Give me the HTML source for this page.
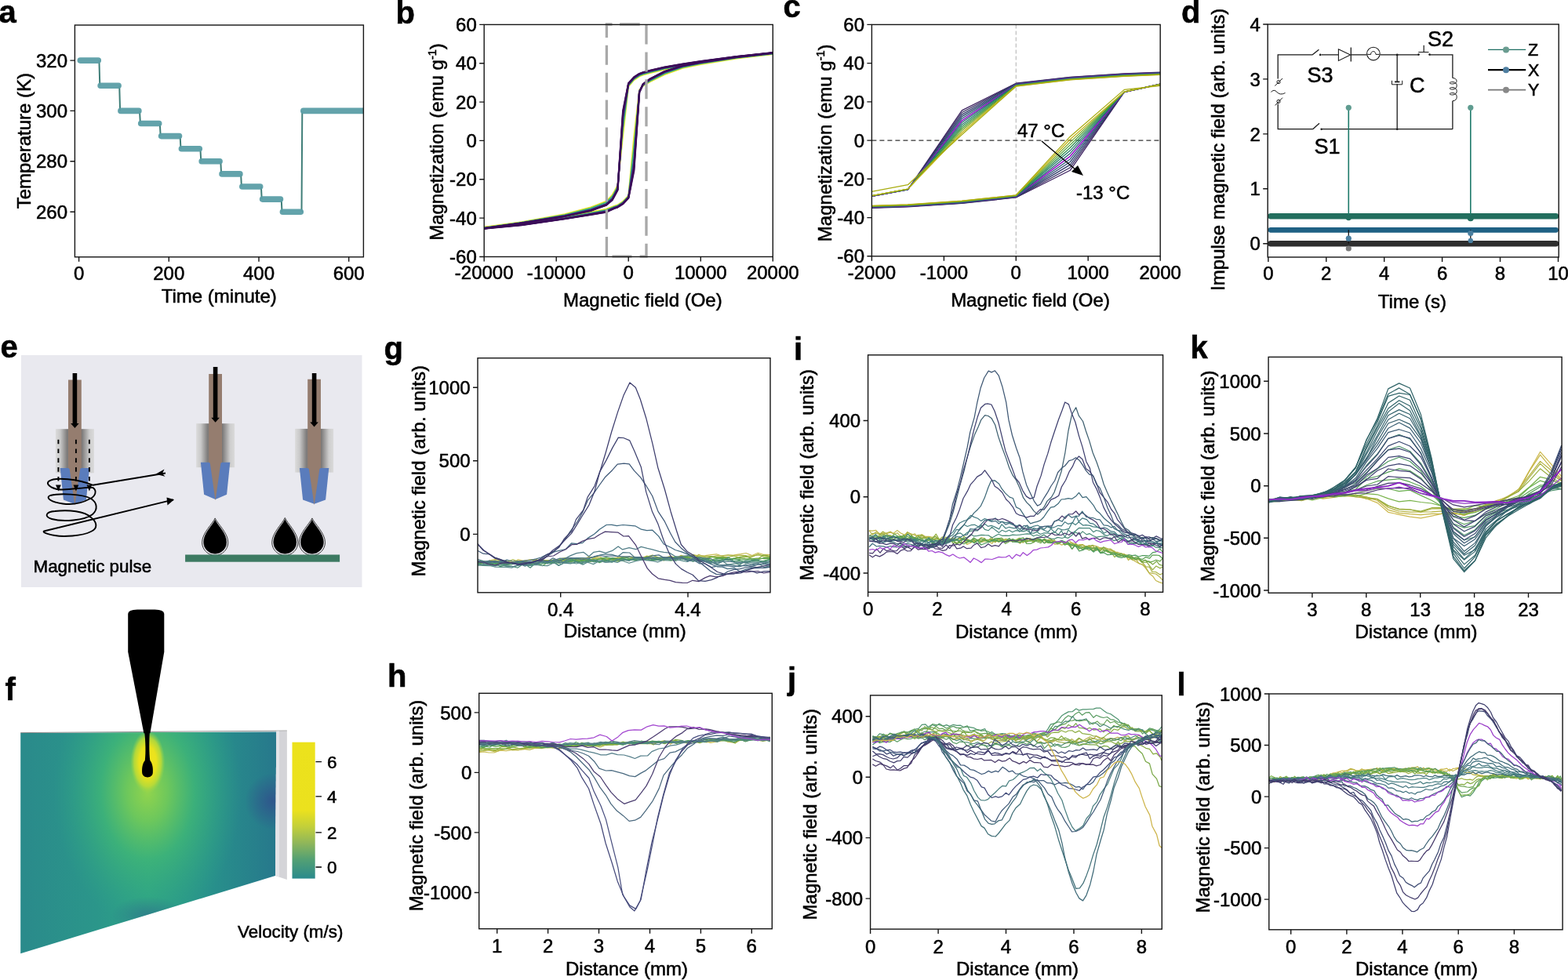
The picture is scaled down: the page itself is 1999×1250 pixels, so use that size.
<!DOCTYPE html>
<html><head><meta charset="utf-8"><title>Figure</title>
<style>html,body{margin:0;padding:0;background:#fff;}svg{display:block;}text{stroke:#000;stroke-width:0.55px;}</style></head>
<body><svg width="1999" height="1250" viewBox="0 0 1999 1250" font-family="'Liberation Sans', Arial, Helvetica, sans-serif">
<rect width="1999" height="1250" fill="#fff"/>
<text x="-1.5" y="29.3" font-size="40" text-anchor="start" font-weight="bold" fill="#000">a</text>
<clipPath id="clip_a"><rect x="95.4" y="32" width="368" height="295.8"/></clipPath>
<g clip-path="url(#clip_a)">
<path d="M126.4 77.1L127.3 109.2M152.2 109.2L153.1 141.4M178.0 141.4L178.9 157.5M203.8 157.5L204.7 173.6M229.6 173.6L230.5 189.7M255.4 189.7L256.3 205.8M281.3 205.8L282.1 221.9M307.1 221.9L307.9 238.0M332.9 238.0L333.7 254.1M358.7 254.1L359.5 270.2M384.5 270.2L385.3 141.4" stroke="#3f7e78" stroke-width="2" fill="none"/>
<path d="M102.3 77.1H125.3M128.1 109.2H151.1M153.9 141.4H176.9M179.7 157.5H202.7M205.6 173.6H228.5M231.4 189.7H254.3M257.2 205.8H280.1M283.0 221.9H305.9M308.8 238.0H331.7M334.6 254.1H357.5M360.4 270.2H383.3M386.8 141.4H467.6" stroke="#5b9ea6" stroke-width="7.6" stroke-linecap="round" fill="none" opacity="0.95"/>
</g>
<rect x="95.4" y="32" width="368" height="295.8" fill="none" stroke="#151515" stroke-width="1.4"/>
<path d="M100.6 327.8v6M215.3 327.8v6M330.0 327.8v6M444.7 327.8v6M95.4 270.2h-6M95.4 205.8h-6M95.4 141.4h-6M95.4 77.1h-6" stroke="#151515" stroke-width="1.4" fill="none"/>
<text x="100.6" y="356.5" font-size="24" text-anchor="middle" fill="#000">0</text>
<text x="215.3" y="356.5" font-size="24" text-anchor="middle" fill="#000">200</text>
<text x="330" y="356.5" font-size="24" text-anchor="middle" fill="#000">400</text>
<text x="444.7" y="356.5" font-size="24" text-anchor="middle" fill="#000">600</text>
<text x="86" y="278.8" font-size="24" text-anchor="end" fill="#000">260</text>
<text x="86" y="214.4" font-size="24" text-anchor="end" fill="#000">280</text>
<text x="86" y="150" font-size="24" text-anchor="end" fill="#000">300</text>
<text x="86" y="85.7" font-size="24" text-anchor="end" fill="#000">320</text>
<text x="279.3" y="386" font-size="24" text-anchor="middle" fill="#000">Time (minute)</text>
<text x="38.8" y="179.6" font-size="24" text-anchor="middle" transform="rotate(-90 38.8 179.6)" fill="#000">Temperature (K)</text>
<text x="504.5" y="30" font-size="40" text-anchor="start" font-weight="bold" fill="#000">b</text>
<clipPath id="clip_b"><rect x="617.2" y="31.4" width="368.1" height="296.1"/></clipPath>
<g clip-path="url(#clip_b)">
<path d="M985.3 68.9 L939.3 73.8 L893.3 80.7 L870.3 84.5 L847.3 88.6 L828.9 93.1 L819.7 95.6 L815.1 97.5 L808.2 102.2 L801.2 110.4 L794.3 172.0 L787.4 236.2 L782.8 244.8 L780.6 248.5 L772.9 256.7 L753.0 264.3 L720.0 273.2 L665.1 283.1 L617.2 289.7" fill="none" stroke="#f1e21f" stroke-width="1.8" stroke-linejoin="round"/>
<path d="M617.2 289.7 L665.1 285.1 L720.0 277.2 L753.0 270.7 L772.9 266.6 L782.8 262.9 L787.4 261.4 L794.3 256.7 L801.2 249.3 L808.2 174.5 L815.1 114.6 L819.7 109.6 L828.9 104.2 L847.3 95.1 L870.3 86.9 L893.3 82.0 L939.3 74.6 L985.3 69.2" fill="none" stroke="#f1e21f" stroke-width="1.8" stroke-linejoin="round"/>
<path d="M985.3 68.4 L939.3 73.4 L893.3 80.1 L870.3 83.7 L847.3 87.8 L828.9 92.2 L819.7 94.7 L815.1 96.6 L808.2 101.2 L801.2 109.3 L794.3 163.4 L787.4 237.9 L782.8 246.6 L780.6 250.3 L772.9 258.1 L753.0 265.6 L720.0 274.0 L665.1 283.6 L617.2 290.2" fill="none" stroke="#35b779" stroke-width="1.6" stroke-linejoin="round"/>
<path d="M617.2 290.2 L665.1 285.6 L720.0 277.7 L753.0 271.6 L772.9 267.7 L782.8 263.7 L787.4 262.2 L794.3 257.6 L801.2 250.2 L808.2 186.6 L815.1 115.5 L819.7 109.0 L828.9 103.2 L847.3 94.0 L870.3 86.0 L893.3 81.2 L939.3 74.0 L985.3 68.7" fill="none" stroke="#35b779" stroke-width="1.6" stroke-linejoin="round"/>
<path d="M985.3 67.8 L939.3 72.7 L893.3 79.1 L870.3 82.7 L847.3 86.7 L828.9 91.0 L819.7 93.5 L815.1 95.3 L808.2 99.8 L801.2 107.8 L794.3 152.0 L787.4 240.2 L782.8 248.8 L780.6 252.7 L772.9 259.9 L753.0 267.2 L720.0 275.0 L665.1 284.2 L617.2 290.9" fill="none" stroke="#31688e" stroke-width="2.0" stroke-linejoin="round"/>
<path d="M617.2 290.9 L665.1 286.3 L720.0 278.4 L753.0 272.7 L772.9 269.1 L782.8 264.8 L787.4 263.3 L794.3 258.8 L801.2 251.4 L808.2 202.6 L815.1 116.6 L819.7 108.2 L828.9 101.8 L847.3 92.5 L870.3 84.8 L893.3 80.2 L939.3 73.3 L985.3 68.0" fill="none" stroke="#31688e" stroke-width="2.0" stroke-linejoin="round"/>
<path d="M985.3 67.6 L939.3 72.5 L893.3 78.9 L870.3 82.4 L847.3 86.4 L828.9 90.7 L819.7 93.1 L815.1 94.9 L808.2 99.4 L801.2 107.4 L794.3 148.9 L787.4 240.8 L782.8 249.5 L780.6 253.4 L772.9 260.4 L753.0 267.7 L720.0 275.3 L665.1 284.4 L617.2 291.0" fill="none" stroke="#3b528b" stroke-width="2.0" stroke-linejoin="round"/>
<path d="M617.2 291.0 L665.1 286.5 L720.0 278.6 L753.0 273.0 L772.9 269.5 L782.8 265.1 L787.4 263.6 L794.3 259.1 L801.2 251.7 L808.2 206.9 L815.1 117.0 L819.7 108.0 L828.9 101.4 L847.3 92.1 L870.3 84.5 L893.3 79.9 L939.3 73.1 L985.3 67.9" fill="none" stroke="#3b528b" stroke-width="2.0" stroke-linejoin="round"/>
<path d="M985.3 67.5 L939.3 72.4 L893.3 78.7 L870.3 82.2 L847.3 86.2 L828.9 90.4 L819.7 92.9 L815.1 94.7 L808.2 99.1 L801.2 107.1 L794.3 146.4 L787.4 241.3 L782.8 250.0 L780.6 253.9 L772.9 260.8 L753.0 268.0 L720.0 275.5 L665.1 284.5 L617.2 291.2" fill="none" stroke="#482878" stroke-width="2.0" stroke-linejoin="round"/>
<path d="M617.2 291.2 L665.1 286.7 L720.0 278.8 L753.0 273.2 L772.9 269.8 L782.8 265.3 L787.4 263.8 L794.3 259.3 L801.2 251.9 L808.2 210.4 L815.1 117.2 L819.7 107.8 L828.9 101.1 L847.3 91.8 L870.3 84.3 L893.3 79.7 L939.3 72.9 L985.3 67.7" fill="none" stroke="#482878" stroke-width="2.0" stroke-linejoin="round"/>
<path d="M985.3 67.4 L939.3 72.3 L893.3 78.5 L870.3 82.0 L847.3 86.0 L828.9 90.2 L819.7 92.7 L815.1 94.4 L808.2 98.9 L801.2 106.8 L794.3 144.3 L787.4 241.8 L782.8 250.4 L780.6 254.3 L772.9 261.1 L753.0 268.3 L720.0 275.7 L665.1 284.6 L617.2 291.3" fill="none" stroke="#46166a" stroke-width="2.0" stroke-linejoin="round"/>
<path d="M617.2 291.3 L665.1 286.8 L720.0 278.9 L753.0 273.4 L772.9 270.1 L782.8 265.5 L787.4 264.0 L794.3 259.6 L801.2 252.2 L808.2 213.4 L815.1 117.4 L819.7 107.6 L828.9 100.9 L847.3 91.5 L870.3 84.0 L893.3 79.5 L939.3 72.8 L985.3 67.6" fill="none" stroke="#46166a" stroke-width="2.0" stroke-linejoin="round"/>
<path d="M985.3 67.3 L939.3 72.2 L893.3 78.4 L870.3 81.9 L847.3 85.8 L828.9 90.0 L819.7 92.5 L815.1 94.2 L808.2 98.7 L801.2 106.6 L794.3 142.7 L787.4 242.1 L782.8 250.7 L780.6 254.6 L772.9 261.4 L753.0 268.6 L720.0 275.8 L665.1 284.7 L617.2 291.4" fill="none" stroke="#440f5f" stroke-width="2.2" stroke-linejoin="round"/>
<path d="M617.2 291.4 L665.1 286.9 L720.0 279.0 L753.0 273.6 L772.9 270.3 L782.8 265.7 L787.4 264.2 L794.3 259.7 L801.2 252.3 L808.2 215.5 L815.1 117.6 L819.7 107.5 L828.9 100.7 L847.3 91.3 L870.3 83.9 L893.3 79.4 L939.3 72.7 L985.3 67.5" fill="none" stroke="#440f5f" stroke-width="2.2" stroke-linejoin="round"/>
<path d="M985.3 67.2 L939.3 72.1 L893.3 78.3 L870.3 81.7 L847.3 85.7 L828.9 89.9 L819.7 92.3 L815.1 94.1 L808.2 98.5 L801.2 106.4 L794.3 141.2 L787.4 242.4 L782.8 251.0 L780.6 255.0 L772.9 261.6 L753.0 268.8 L720.0 275.9 L665.1 284.8 L617.2 291.5" fill="none" stroke="#3a0c58" stroke-width="2.4" stroke-linejoin="round"/>
<path d="M617.2 291.5 L665.1 287.0 L720.0 279.1 L753.0 273.7 L772.9 270.5 L782.8 265.8 L787.4 264.3 L794.3 259.9 L801.2 252.5 L808.2 217.7 L815.1 117.8 L819.7 107.4 L828.9 100.5 L847.3 91.1 L870.3 83.7 L893.3 79.3 L939.3 72.6 L985.3 67.4" fill="none" stroke="#3a0c58" stroke-width="2.4" stroke-linejoin="round"/>
</g>
<path d="M773.4 29.2V47.9M773.4 57.8V82.8M773.4 92.7V117.7M773.4 127.6V152.6M773.4 162.5V187.5M773.4 197.4V222.4M773.4 232.3V257.3M773.4 267.2V292.2M773.4 302.1V327.1M824 31.5V56.5M824 66.4V91.4M824 101.3V126.3M824 136.2V161.2M824 171.1V196.1M824 206.0V231.0M824 240.9V265.9M824 275.8V300.8M824 310.7V327.2M771.8 31H780.5M790.1 31H815.7M780.5 327.2H805.4M815.7 327.2H825.6" stroke="#a9a9a9" stroke-width="3.3" fill="none"/>
<rect x="617.2" y="31.4" width="368.1" height="296.1" fill="none" stroke="#151515" stroke-width="1.4"/>
<path d="M617.2 327.5v6M709.2 327.5v6M801.2 327.5v6M893.3 327.5v6M985.3 327.5v6M617.2 327.5h-6M617.2 278.1h-6M617.2 228.8h-6M617.2 179.4h-6M617.2 130.1h-6M617.2 80.7h-6M617.2 31.4h-6" stroke="#151515" stroke-width="1.4" fill="none"/>
<text x="617.2" y="356.2" font-size="24" text-anchor="middle" fill="#000">-20000</text>
<text x="709.2" y="356.2" font-size="24" text-anchor="middle" fill="#000">-10000</text>
<text x="801.2" y="356.2" font-size="24" text-anchor="middle" fill="#000">0</text>
<text x="893.3" y="356.2" font-size="24" text-anchor="middle" fill="#000">10000</text>
<text x="985.3" y="356.2" font-size="24" text-anchor="middle" fill="#000">20000</text>
<text x="607.8" y="336.1" font-size="24" text-anchor="end" fill="#000">-60</text>
<text x="607.8" y="286.7" font-size="24" text-anchor="end" fill="#000">-40</text>
<text x="607.8" y="237.4" font-size="24" text-anchor="end" fill="#000">-20</text>
<text x="607.8" y="188" font-size="24" text-anchor="end" fill="#000">0</text>
<text x="607.8" y="138.7" font-size="24" text-anchor="end" fill="#000">20</text>
<text x="607.8" y="89.3" font-size="24" text-anchor="end" fill="#000">40</text>
<text x="607.8" y="40" font-size="24" text-anchor="end" fill="#000">60</text>
<text x="819.3" y="391.3" font-size="24" text-anchor="middle" fill="#000">Magnetic field (Oe)</text>
<text transform="translate(565 181) rotate(-90)" font-size="24" text-anchor="middle">Magnetization (emu g<tspan dy="-9" font-size="14.5">-1</tspan><tspan dy="9">)</tspan></text>
<text x="998.5" y="21.8" font-size="40" text-anchor="start" font-weight="bold" fill="#000">c</text>
<path d="M1295.3 31.4V326.8" stroke="#bdbdbd" stroke-width="1.2" stroke-dasharray="5 3"/>
<path d="M1111.4 179.1H1479.2" stroke="#333" stroke-width="1.2" stroke-dasharray="6 4"/>
<clipPath id="clip_c"><rect x="1111.4" y="31.4" width="367.8" height="295.4"/></clipPath>
<g clip-path="url(#clip_c)">
<path d="M1479.2 92.2 L1433.2 93.9 L1364.3 98.4 L1295.3 106.2 L1226.3 140.9 L1157.4 241.9 L1111.4 250.5 L1089.3 254.4" fill="none" stroke="#3b1f5f" stroke-width="1.25" stroke-linejoin="round"/>
<path d="M1111.4 265.3 L1157.4 263.8 L1226.3 259.4 L1295.3 252.0 L1364.3 217.3 L1433.2 117.6 L1479.2 107.2" fill="none" stroke="#3b1f5f" stroke-width="1.25" stroke-linejoin="round"/>
<path d="M1479.2 92.5 L1433.2 94.2 L1364.3 98.7 L1295.3 106.6 L1226.3 143.5 L1157.4 241.8 L1111.4 250.4 L1089.3 254.3" fill="none" stroke="#35295f" stroke-width="1.25" stroke-linejoin="round"/>
<path d="M1111.4 265.0 L1157.4 263.5 L1226.3 259.1 L1295.3 251.7 L1364.3 213.7 L1433.2 117.5 L1479.2 107.2" fill="none" stroke="#35295f" stroke-width="1.25" stroke-linejoin="round"/>
<path d="M1479.2 92.7 L1433.2 94.5 L1364.3 99.0 L1295.3 106.9 L1226.3 146.1 L1157.4 241.7 L1111.4 250.3 L1089.3 254.3" fill="none" stroke="#303a6a" stroke-width="1.25" stroke-linejoin="round"/>
<path d="M1111.4 264.8 L1157.4 263.3 L1226.3 258.8 L1295.3 251.4 L1364.3 210.1 L1433.2 117.5 L1479.2 107.3" fill="none" stroke="#303a6a" stroke-width="1.25" stroke-linejoin="round"/>
<path d="M1479.2 93.0 L1433.2 94.8 L1364.3 99.3 L1295.3 107.2 L1226.3 148.6 L1157.4 241.6 L1111.4 250.3 L1089.3 254.2" fill="none" stroke="#2d4670" stroke-width="1.25" stroke-linejoin="round"/>
<path d="M1111.4 264.5 L1157.4 263.0 L1226.3 258.6 L1295.3 251.2 L1364.3 206.5 L1433.2 117.4 L1479.2 107.3" fill="none" stroke="#2d4670" stroke-width="1.25" stroke-linejoin="round"/>
<path d="M1479.2 93.3 L1433.2 95.1 L1364.3 99.6 L1295.3 107.5 L1226.3 151.2 L1157.4 241.6 L1111.4 250.2 L1089.3 254.1" fill="none" stroke="#2b5474" stroke-width="1.25" stroke-linejoin="round"/>
<path d="M1111.4 264.3 L1157.4 262.8 L1226.3 258.3 L1295.3 250.9 L1364.3 202.9 L1433.2 117.4 L1479.2 107.3" fill="none" stroke="#2b5474" stroke-width="1.25" stroke-linejoin="round"/>
<path d="M1479.2 93.5 L1433.2 95.4 L1364.3 99.9 L1295.3 107.9 L1226.3 153.8 L1157.4 241.5 L1111.4 250.1 L1089.3 254.0" fill="none" stroke="#9212c8" stroke-width="1.6" stroke-linejoin="round"/>
<path d="M1111.4 264.0 L1157.4 262.6 L1226.3 258.0 L1295.3 250.6 L1364.3 199.3 L1433.2 117.4 L1479.2 107.4" fill="none" stroke="#9212c8" stroke-width="1.6" stroke-linejoin="round"/>
<path d="M1479.2 93.8 L1433.2 95.6 L1364.3 100.2 L1295.3 108.2 L1226.3 156.3 L1157.4 241.4 L1111.4 250.0 L1089.3 253.9" fill="none" stroke="#27646f" stroke-width="1.25" stroke-linejoin="round"/>
<path d="M1111.4 263.8 L1157.4 262.3 L1226.3 257.8 L1295.3 250.4 L1364.3 195.7 L1433.2 117.3 L1479.2 107.4" fill="none" stroke="#27646f" stroke-width="1.25" stroke-linejoin="round"/>
<path d="M1479.2 94.1 L1433.2 95.9 L1364.3 100.5 L1295.3 108.5 L1226.3 158.9 L1157.4 241.3 L1111.4 249.9 L1089.3 253.9" fill="none" stroke="#237a6a" stroke-width="1.25" stroke-linejoin="round"/>
<path d="M1111.4 263.5 L1157.4 262.1 L1226.3 257.5 L1295.3 250.1 L1364.3 192.1 L1433.2 117.3 L1479.2 107.4" fill="none" stroke="#237a6a" stroke-width="1.25" stroke-linejoin="round"/>
<path d="M1479.2 94.3 L1433.2 96.2 L1364.3 100.8 L1295.3 108.9 L1226.3 161.5 L1157.4 241.3 L1111.4 249.9 L1089.3 253.8" fill="none" stroke="#2f8f50" stroke-width="1.25" stroke-linejoin="round"/>
<path d="M1111.4 263.3 L1157.4 261.8 L1226.3 257.2 L1295.3 249.8 L1364.3 188.5 L1433.2 117.2 L1479.2 107.4" fill="none" stroke="#2f8f50" stroke-width="1.25" stroke-linejoin="round"/>
<path d="M1479.2 94.6 L1433.2 96.5 L1364.3 101.1 L1295.3 109.2 L1226.3 164.0 L1157.4 241.2 L1111.4 249.8 L1089.3 253.7" fill="none" stroke="#4a9d35" stroke-width="1.25" stroke-linejoin="round"/>
<path d="M1111.4 263.0 L1157.4 261.6 L1226.3 257.0 L1295.3 249.6 L1364.3 184.9 L1433.2 117.2 L1479.2 107.5" fill="none" stroke="#4a9d35" stroke-width="1.25" stroke-linejoin="round"/>
<path d="M1479.2 94.9 L1433.2 96.8 L1364.3 101.4 L1295.3 109.5 L1226.3 166.6 L1157.4 241.1 L1111.4 249.7 L1089.3 253.6" fill="none" stroke="#78a828" stroke-width="1.25" stroke-linejoin="round"/>
<path d="M1111.4 262.8 L1157.4 261.3 L1226.3 256.7 L1295.3 249.3 L1364.3 181.4 L1433.2 117.2 L1479.2 107.5" fill="none" stroke="#78a828" stroke-width="1.25" stroke-linejoin="round"/>
<path d="M1479.2 95.1 L1433.2 97.1 L1364.3 101.7 L1295.3 109.8 L1226.3 169.2 L1157.4 241.0 L1111.4 249.6 L1089.3 253.5" fill="none" stroke="#c5b414" stroke-width="1.25" stroke-linejoin="round"/>
<path d="M1111.4 262.6 L1157.4 261.1 L1226.3 256.4 L1295.3 249.0 L1364.3 177.8 L1433.2 117.1 L1479.2 107.5" fill="none" stroke="#c5b414" stroke-width="1.25" stroke-linejoin="round"/>
<path d="M1479.2 95.4 L1433.2 97.4 L1364.3 102.0 L1295.3 110.2 L1226.3 171.7 L1157.4 235.7 L1111.4 244.3 L1089.3 248.0" fill="none" stroke="#a8ac10" stroke-width="1.25" stroke-linejoin="round"/>
<path d="M1111.4 262.3 L1157.4 260.8 L1226.3 256.2 L1295.3 248.8 L1364.3 174.2 L1433.2 114.4 L1479.2 109.4" fill="none" stroke="#a8ac10" stroke-width="1.25" stroke-linejoin="round"/>
</g>
<rect x="1111.4" y="31.4" width="367.8" height="295.4" fill="none" stroke="#151515" stroke-width="1.4"/>
<path d="M1111.4 326.8v6M1203.4 326.8v6M1295.3 326.8v6M1387.2 326.8v6M1479.2 326.8v6M1111.4 326.8h-6M1111.4 277.6h-6M1111.4 228.3h-6M1111.4 179.1h-6M1111.4 129.9h-6M1111.4 80.6h-6M1111.4 31.4h-6" stroke="#151515" stroke-width="1.4" fill="none"/>
<text x="1111.4" y="355.5" font-size="24" text-anchor="middle" fill="#000">-2000</text>
<text x="1203.4" y="355.5" font-size="24" text-anchor="middle" fill="#000">-1000</text>
<text x="1295.3" y="355.5" font-size="24" text-anchor="middle" fill="#000">0</text>
<text x="1387.2" y="355.5" font-size="24" text-anchor="middle" fill="#000">1000</text>
<text x="1479.2" y="355.5" font-size="24" text-anchor="middle" fill="#000">2000</text>
<text x="1102" y="335.4" font-size="24" text-anchor="end" fill="#000">-60</text>
<text x="1102" y="286.2" font-size="24" text-anchor="end" fill="#000">-40</text>
<text x="1102" y="236.9" font-size="24" text-anchor="end" fill="#000">-20</text>
<text x="1102" y="187.7" font-size="24" text-anchor="end" fill="#000">0</text>
<text x="1102" y="138.5" font-size="24" text-anchor="end" fill="#000">20</text>
<text x="1102" y="89.2" font-size="24" text-anchor="end" fill="#000">40</text>
<text x="1102" y="40" font-size="24" text-anchor="end" fill="#000">60</text>
<text x="1313.5" y="391.2" font-size="24" text-anchor="middle" fill="#000">Magnetic field (Oe)</text>
<text transform="translate(1059.6 182.3) rotate(-90)" font-size="24" text-anchor="middle">Magnetization (emu g<tspan dy="-9" font-size="14.5">-1</tspan><tspan dy="9">)</tspan></text>
<text x="1297" y="175" font-size="24" text-anchor="start" fill="#000">47 °C</text>
<text x="1372" y="254" font-size="24" text-anchor="start" fill="#000">-13 °C</text>
<path d="M1328 180L1372 217" stroke="#000" stroke-width="1.4"/>
<path d="M1381 224L1366 219L1374 211Z" fill="#000"/>
<text x="1506" y="28.5" font-size="40" text-anchor="start" font-weight="bold" fill="#000">d</text>
<path d="M1673 69.9H1629.2V100.5M1629.2 132.5V164.7H1673.7M1673 69.9L1681.4 63.2M1684.6 69.9H1706.4M1722.3 69.9H1742.4M1759.4 69.9H1808.4M1822.7 69.9H1851.9V99.5M1851.9 128.8V164.7M1673.7 164.7L1682 157.3M1685.5 164.7H1851.9M1781.2 69.9V104M1781.2 107V164.7" stroke="#1a1a1a" stroke-width="1.3" fill="none"/>
<circle cx="1683.2" cy="69.9" r="1.3" fill="#1a1a1a"/>
<circle cx="1684.7" cy="164.7" r="1.3" fill="#1a1a1a"/>
<circle cx="1781.2" cy="69.9" r="1.3" fill="#1a1a1a"/>
<circle cx="1781.2" cy="164.7" r="1.3" fill="#1a1a1a"/>
<circle cx="1808.6" cy="69.6" r="1.3" fill="#1a1a1a"/>
<circle cx="1822.5" cy="69.6" r="1.3" fill="#1a1a1a"/>
<path d="M1706.4 62.8L1721.6 69.9L1706.4 77.4Z" fill="none" stroke="#1a1a1a" stroke-width="1.1"/>
<path d="M1722.3 60.6V78.4" stroke="#1a1a1a" stroke-width="1.3"/>
<circle cx="1750.9" cy="68.6" r="8.3" fill="none" stroke="#1a1a1a" stroke-width="1.1"/>
<path d="M1743.3 69.4H1747.6C1747.6 64.3 1754 64.3 1754 69.4H1758.4" fill="none" stroke="#1a1a1a" stroke-width="1"/>
<path d="M1808.3 66.5H1821.5M1815.2 66.5V57.8" stroke="#1a1a1a" stroke-width="1.2" fill="none"/>
<path d="M1778 104.4H1784.4" stroke="#1a1a1a" stroke-width="1.8"/>
<path d="M1774.5 102.8V107.8H1787.7V102.8" stroke="#1a1a1a" stroke-width="1" fill="none"/>
<path d="M1851.9 99.5C1858.5 99.5 1859 107 1851.9 107C1847 107 1847 104.5 1851.9 104.5C1859 104.5 1859 114 1851.9 114C1847 114 1847 111.5 1851.9 111.5C1859 111.5 1859 121 1851.9 121C1847 121 1847 118.5 1851.9 118.5C1859 118.5 1859 128.8 1851.9 128.8" fill="none" stroke="#1a1a1a" stroke-width="1"/>
<path d="M1620.5 117.5Q1624 113 1628 117.5T1638.5 118.5" fill="none" stroke="#1a1a1a" stroke-width="1"/>
<circle cx="1630" cy="104.6" r="2.1" fill="none" stroke="#1a1a1a" stroke-width="1"/>
<circle cx="1630" cy="129.4" r="2.1" fill="none" stroke="#1a1a1a" stroke-width="1"/>
<path d="M1625.3 109.5L1635 100M1625.7 134.4L1635 124.6" stroke="#1a1a1a" stroke-width="1"/>
<text x="1666.5" y="104.6" font-size="27" text-anchor="start" fill="#000">S3</text>
<text x="1675.5" y="196.3" font-size="27" text-anchor="start" fill="#000">S1</text>
<text x="1820" y="59.3" font-size="27" text-anchor="start" fill="#000">S2</text>
<text x="1797" y="118.2" font-size="27" text-anchor="start" fill="#000">C</text>
<clipPath id="clip_d"><rect x="1616.2" y="31" width="371" height="297"/></clipPath>
<g clip-path="url(#clip_d)">
<path d="M1620 310.8H1983.5" stroke="#2e2e2e" stroke-width="7.6" stroke-linecap="round"/>
<path d="M1620 293.3H1983.5" stroke="#1f6184" stroke-width="6.8" stroke-linecap="round"/>
<path d="M1620 275.8H1983.5" stroke="#236e5e" stroke-width="7.4" stroke-linecap="round"/>
<path d="M1719.3 137.3V275.8" stroke="#1e7a6a" stroke-width="1.6"/>
<path d="M1719.3 293.3V310.8" stroke="#111" stroke-width="1.3"/>
<circle cx="1719.3" cy="137.3" r="3.6" fill="#5f9c90"/>
<path d="M1874.8 137.3V275.8" stroke="#1e7a6a" stroke-width="1.6"/>
<path d="M1874.8 293.3V310.8" stroke="#111" stroke-width="1.3"/>
<circle cx="1874.8" cy="137.3" r="3.6" fill="#5f9c90"/>
<circle cx="1719.3" cy="277.6" r="3.6" fill="#236e5e"/>
<circle cx="1874.8" cy="278.3" r="4" fill="#236e5e"/>
<circle cx="1719.3" cy="304.2" r="3.6" fill="#4a7fa0"/>
<circle cx="1719.3" cy="317" r="3.6" fill="#7a7a7a"/>
<circle cx="1874.8" cy="297.5" r="3.6" fill="#4a7fa0"/>
<circle cx="1874.8" cy="307" r="3.2" fill="#4a7fa0"/>
</g>
<path d="M1897 63.4H1945.2" stroke="#1e6e62" stroke-width="1.3"/>
<circle cx="1920" cy="63.4" r="4" fill="#6a9c90"/>
<path d="M1897 89.2H1945.2" stroke="#000" stroke-width="2.2"/>
<circle cx="1920" cy="89.2" r="4" fill="#4f7ea0"/>
<path d="M1897 114.7H1945.2" stroke="#777" stroke-width="1.8"/>
<circle cx="1920" cy="114.7" r="4" fill="#888"/>
<text x="1948" y="71" font-size="21.5" text-anchor="start" fill="#000">Z</text>
<text x="1948" y="96.9" font-size="21.5" text-anchor="start" fill="#000">X</text>
<text x="1948" y="122.4" font-size="21.5" text-anchor="start" fill="#000">Y</text>
<rect x="1616.2" y="31" width="371" height="297" fill="none" stroke="#151515" stroke-width="1.4"/>
<path d="M1616.9 328.0v6M1690.8 328.0v6M1764.7 328.0v6M1838.6 328.0v6M1912.5 328.0v6M1986.5 328.0v6M1616.2 310.8h-6M1616.2 240.8h-6M1616.2 170.9h-6M1616.2 100.9h-6M1616.2 31.0h-6" stroke="#151515" stroke-width="1.4" fill="none"/>
<text x="1616.9" y="356.7" font-size="24" text-anchor="middle" fill="#000">0</text>
<text x="1690.8" y="356.7" font-size="24" text-anchor="middle" fill="#000">2</text>
<text x="1764.7" y="356.7" font-size="24" text-anchor="middle" fill="#000">4</text>
<text x="1838.6" y="356.7" font-size="24" text-anchor="middle" fill="#000">6</text>
<text x="1912.5" y="356.7" font-size="24" text-anchor="middle" fill="#000">8</text>
<text x="1986.5" y="356.7" font-size="24" text-anchor="middle" fill="#000">10</text>
<text x="1606.8" y="319.4" font-size="24" text-anchor="end" fill="#000">0</text>
<text x="1606.8" y="249.4" font-size="24" text-anchor="end" fill="#000">1</text>
<text x="1606.8" y="179.5" font-size="24" text-anchor="end" fill="#000">2</text>
<text x="1606.8" y="109.5" font-size="24" text-anchor="end" fill="#000">3</text>
<text x="1606.8" y="39.6" font-size="24" text-anchor="end" fill="#000">4</text>
<text x="1800.4" y="393.3" font-size="24" text-anchor="middle" fill="#000">Time (s)</text>
<text x="1561.3" y="190.8" font-size="24" text-anchor="middle" transform="rotate(-90 1561.3 190.8)" fill="#000">Impulse magnetic field (arb. units)</text>
<text x="0.5" y="456" font-size="40" text-anchor="start" font-weight="bold" fill="#000">e</text>
<defs><linearGradient id="sleeve" x1="0" x2="1" y1="0" y2="0"><stop offset="0" stop-color="#dcdcdc"/><stop offset="0.12" stop-color="#c9c9c9"/><stop offset="0.3" stop-color="#7d7b7a"/><stop offset="0.5" stop-color="#8a8a8a"/><stop offset="0.68" stop-color="#7a7877"/><stop offset="0.88" stop-color="#cdcdcd"/><stop offset="1" stop-color="#dadada"/></linearGradient></defs>
<rect x="26.9" y="453" width="434.6" height="296" fill="#e9e9ef"/>
<rect x="70.9" y="547.2" width="49.0" height="56.1" fill="url(#sleeve)"/>
<path d="M76.7 597.1H114.1L109.9 637.5L95.4 642.9L80.9 637.5Z" fill="#5a7cbc"/>
<path d="M87.0 484.4H103.8V597.1L102.2 598.1L95.4 644.4L88.6 598.1L87.0 597.1Z" fill="#957d6f"/>
<path d="M92.6 476.0H98.2V540.0H100.7L95.4 546.0L90.1 540.0H92.6Z" fill="#000"/>
<rect x="250.1" y="540.2" width="49.0" height="56.0" fill="url(#sleeve)"/>
<path d="M255.9 589.8H293.3L289.1 630.8L274.6 636.9L260.1 630.8Z" fill="#5a7cbc"/>
<path d="M266.2 477.0H283.0V589.8L281.4 590.8L274.6 638.4L267.8 590.8L266.2 589.8Z" fill="#957d6f"/>
<path d="M271.8 467.9H277.4V532.7H279.9L274.6 538.7L269.3 532.7H271.8Z" fill="#000"/>
<rect x="376.1" y="546.9" width="49.0" height="55.7" fill="url(#sleeve)"/>
<path d="M381.9 597.0H419.3L415.1 637.5L400.6 642.7L386.1 637.5Z" fill="#5a7cbc"/>
<path d="M392.2 483.8H409.0V597.0L407.4 598.0L400.6 644.2L393.8 598.0L392.2 597.0Z" fill="#957d6f"/>
<path d="M397.8 476.0H403.4V538.6H405.9L400.6 544.6L395.3 538.6H397.8Z" fill="#000"/>
<path d="M74.4 560.7V619" stroke="#000" stroke-width="1.9" stroke-dasharray="5.6 6.2"/>
<path d="M71.0 618.6H77.80000000000001L74.4 626.4Z" fill="#000"/>
<path d="M96.9 560.7V619" stroke="#000" stroke-width="1.9" stroke-dasharray="5.6 6.2"/>
<path d="M93.5 618.6H100.30000000000001L96.9 626.4Z" fill="#000"/>
<path d="M113.9 560.7V619" stroke="#000" stroke-width="1.9" stroke-dasharray="5.6 6.2"/>
<path d="M110.5 618.6H117.30000000000001L113.9 626.4Z" fill="#000"/>
<path d="M211 603.5L118.5 618.8C100 611 70 608 62 614C57 619 70 625 80 624.5C95 624 110 621 118.5 622C124 626 122 633 114 636.5C104 642 92 644 80 642.5C66 641 57 635 64 632C76 629 105 630 116 636C124 641 125 650 118 656C108 664 80 666 66 662C56 659 58 653 70 652C88 650 108 652 116 660C124 666 125 674 116 678C104 684 80 685 70 683C60 681 54 679 56 677.5L221 637.4" fill="none" stroke="#000" stroke-width="1.9" stroke-linejoin="round"/>
<path d="M198.5 604.7L209.5 598.6L207 604L210.5 607.7Z" fill="#000"/>
<path d="M222 637.2L212.5 634.6L213.5 644.6Z" fill="#000"/>
<path d="M274.2 660.9C277.2 667.9 290.8 679.8 290.8 691.8A16.6 16.6 0 0 1 257.6 691.8C257.6 679.8 271.2 667.9 274.2 660.9Z" fill="none" stroke="#3a3a3a" stroke-width="1"/>
<path d="M274.2 663.1C277.2 670.1 288.8 679.7 288.8 691.7A14.6 14.6 0 0 1 259.6 691.7C259.6 679.7 271.2 670.1 274.2 663.1Z" fill="#000" stroke="#222" stroke-width="0.6"/>
<path d="M363.3 660.4C366.3 667.4 379.9 679.8 379.9 691.8A16.6 16.6 0 0 1 346.7 691.8C346.7 679.8 360.3 667.4 363.3 660.4Z" fill="none" stroke="#3a3a3a" stroke-width="1"/>
<path d="M363.3 662.6C366.3 669.6 377.9 679.7 377.9 691.7A14.6 14.6 0 0 1 348.7 691.7C348.7 679.7 360.3 669.6 363.3 662.6Z" fill="#000" stroke="#222" stroke-width="0.6"/>
<path d="M397.9 660.9C400.9 667.9 414.5 679.8 414.5 691.8A16.6 16.6 0 0 1 381.3 691.8C381.3 679.8 394.9 667.9 397.9 660.9Z" fill="none" stroke="#3a3a3a" stroke-width="1"/>
<path d="M397.9 663.1C400.9 670.1 412.5 679.7 412.5 691.7A14.6 14.6 0 0 1 383.3 691.7C383.3 679.7 394.9 670.1 397.9 663.1Z" fill="#000" stroke="#222" stroke-width="0.6"/>
<rect x="236.1" y="707.5" width="197" height="9.2" fill="#3d7a62"/>
<text x="42.5" y="730" font-size="22.4" text-anchor="start" fill="#000">Magnetic pulse</text>
<text x="6.5" y="892.5" font-size="40" text-anchor="start" font-weight="bold" fill="#000">f</text>
<defs><linearGradient id="fbase" x1="26" x2="352" y1="0" y2="0" gradientUnits="userSpaceOnUse"><stop offset="0" stop-color="#2a8a8b"/><stop offset="0.3" stop-color="#2b968a"/><stop offset="0.5" stop-color="#2ea486"/><stop offset="0.75" stop-color="#28908b"/><stop offset="1" stop-color="#27788c"/></linearGradient><radialGradient id="fplume" cx="188" cy="1010" r="150" gradientUnits="userSpaceOnUse" gradientTransform="translate(188 1010) scale(0.8 1.15) translate(-188 -1010)"><stop offset="0" stop-color="#92d44c"/><stop offset="0.22" stop-color="#70c95a" stop-opacity="0.95"/><stop offset="0.5" stop-color="#40b676" stop-opacity="0.8"/><stop offset="1" stop-color="#2ea486" stop-opacity="0"/></radialGradient><radialGradient id="fhot" cx="188.3" cy="972" r="40" gradientUnits="userSpaceOnUse" gradientTransform="translate(188.3 972) scale(0.55 1.0) translate(-188.3 -972)"><stop offset="0" stop-color="#f3e51b"/><stop offset="0.5" stop-color="#eae21d"/><stop offset="0.78" stop-color="#c2dc33" stop-opacity="0.85"/><stop offset="1" stop-color="#9ad64a" stop-opacity="0"/></radialGradient><radialGradient id="fblue1" cx="348" cy="1022" r="36" gradientUnits="userSpaceOnUse"><stop offset="0" stop-color="#30508c" stop-opacity="0.85"/><stop offset="1" stop-color="#30508c" stop-opacity="0"/></radialGradient><radialGradient id="fblue2" cx="190" cy="1168" r="34" gradientUnits="userSpaceOnUse" gradientTransform="translate(192 1166) scale(1.4 0.7) translate(-192 -1166)"><stop offset="0" stop-color="#2f5d8e" stop-opacity="0.5"/><stop offset="1" stop-color="#2f5d8e" stop-opacity="0"/></radialGradient><clipPath id="fclip"><path d="M26.2 934.9L352.3 933.6L351 1117.1L26.2 1216.3Z"/></clipPath><linearGradient id="cbar" x1="0" x2="0" y1="946.7" y2="1120.6" gradientUnits="userSpaceOnUse"><stop offset="0" stop-color="#ece21c"/><stop offset="0.5" stop-color="#ebe11e"/><stop offset="0.62" stop-color="#c2cf3a"/><stop offset="0.74" stop-color="#8fb65a"/><stop offset="0.86" stop-color="#53a074"/><stop offset="1" stop-color="#2a8a8c"/></linearGradient></defs>
<g clip-path="url(#fclip)">
<rect x="20" y="925" width="340" height="300" fill="url(#fbase)"/>
<rect x="20" y="925" width="340" height="300" fill="url(#fplume)"/>
<rect x="20" y="925" width="340" height="300" fill="url(#fhot)"/>
<rect x="20" y="925" width="340" height="300" fill="url(#fblue1)"/>
<rect x="20" y="925" width="340" height="300" fill="url(#fblue2)"/>
</g>
<path d="M26.2 934.6L365.9 932.1" stroke="#8a8a8a" stroke-width="1"/>
<path d="M352.3 932.4H365.9V1122L351 1117.1Z" fill="#d4d4d8"/>
<path d="M352.3 932.4H356V1118.5L351 1117.1Z" fill="#e4e4e8"/>
<path d="M163.2 783Q163.2 777.7 175 777.5H197.5Q209.3 777.7 209.3 783V831.4L191.4 935.2H183.4L163.2 831.4Z" fill="#000"/>
<path d="M184.2 934C185.5 945 186 960 184.8 970C181.5 974 180.8 980 181.2 986C182 993 194 993.5 194.8 986C195.3 980 194.5 974 191.3 970C190 960 190.2 945 190.8 934Z" fill="#000"/>
<rect x="372.5" y="946.7" width="29.2" height="173.9" fill="url(#cbar)"/>
<path d="M402.5 971.6H410M402.5 1015.8H410M402.5 1061.9H410M402.5 1106H410" stroke="#000" stroke-width="1.3"/>
<text x="417" y="979.6" font-size="22.4" text-anchor="start" fill="#000">6</text>
<text x="417" y="1023.8" font-size="22.4" text-anchor="start" fill="#000">4</text>
<text x="417" y="1069.9" font-size="22.4" text-anchor="start" fill="#000">2</text>
<text x="417" y="1114" font-size="22.4" text-anchor="start" fill="#000">0</text>
<text x="303" y="1196" font-size="22.4" text-anchor="start" fill="#000">Velocity (m/s)</text>
<text x="489.5" y="457.5" font-size="40" text-anchor="start" font-weight="bold" fill="#000">g</text>
<clipPath id="clip_g"><rect x="609" y="456.7" width="373" height="299.1"/></clipPath>
<g clip-path="url(#clip_g)">
<path d="M608.7 717.0 L616.8 717.2 L623.5 715.2 L631.7 713.4 L638.4 715.0 L644.9 715.4 L653.0 718.7 L660.4 713.8 L667.5 715.3 L675.0 714.0 L684.2 713.7 L689.9 716.4 L698.9 716.4 L706.2 713.8 L712.0 715.3 L719.2 715.8 L727.9 711.7 L734.5 715.1 L742.1 715.1 L750.0 710.3 L756.7 710.8 L765.1 710.3 L772.9 714.6 L780.5 712.0 L787.5 711.0 L794.8 712.0 L801.9 710.3 L809.6 714.2 L817.9 711.9 L824.8 709.0 L832.8 711.6 L839.9 714.4 L846.8 711.6 L854.4 709.5 L862.5 712.3 L868.4 712.5 L875.7 710.4 L883.0 707.7 L891.0 708.8 L899.2 708.7 L906.5 707.6 L913.4 706.8 L920.5 709.2 L928.7 708.3 L935.9 707.8 L944.5 706.7 L951.2 705.5 L958.8 708.6 L966.3 705.2 L972.5 707.1 L982.0 707.6" fill="none" stroke="#c9bd55" stroke-width="1.2" stroke-linejoin="round"/>
<path d="M608.7 715.5 L617.2 715.9 L624.0 717.8 L630.4 715.6 L638.9 716.5 L645.3 717.4 L652.7 716.7 L659.9 715.9 L668.2 716.0 L675.3 714.2 L682.5 714.5 L690.4 714.1 L698.7 714.8 L705.8 715.5 L712.7 713.0 L720.1 711.7 L728.1 712.8 L734.1 714.6 L742.3 711.9 L749.0 713.9 L757.7 713.2 L764.2 712.9 L771.4 713.8 L779.1 712.9 L787.0 711.6 L795.1 710.2 L803.0 710.5 L809.2 712.4 L817.5 713.6 L823.4 710.3 L831.6 712.2 L840.4 711.9 L846.0 713.7 L854.7 709.5 L862.3 711.7 L868.3 708.4 L877.1 711.9 L884.9 712.9 L890.7 707.3 L899.9 711.1 L905.4 710.8 L913.9 708.7 L920.2 708.9 L928.2 707.9 L937.1 709.2 L943.0 708.2 L952.1 708.8 L959.3 709.1 L966.2 707.9 L974.2 708.7 L982.0 710.0" fill="none" stroke="#b5b84a" stroke-width="1.2" stroke-linejoin="round"/>
<path d="M608.7 718.0 L615.4 718.4 L623.3 716.4 L631.3 714.9 L638.5 716.5 L646.2 716.8 L653.9 713.8 L660.5 716.4 L668.9 716.7 L676.1 717.1 L683.1 714.8 L689.9 714.7 L698.3 714.7 L705.7 715.1 L712.0 714.5 L720.0 713.8 L728.3 713.9 L735.1 712.7 L741.9 711.5 L749.4 715.8 L757.4 711.9 L765.1 712.3 L773.3 711.2 L780.6 713.9 L788.3 711.8 L794.6 711.4 L802.6 710.4 L809.4 710.3 L818.0 712.2 L824.8 710.1 L832.0 708.1 L839.1 711.1 L846.1 715.1 L853.3 710.3 L861.4 713.5 L868.6 709.0 L875.9 709.8 L883.9 707.8 L891.3 710.4 L898.1 709.8 L905.4 709.5 L913.5 710.6 L920.4 710.7 L928.5 710.7 L935.9 709.0 L943.0 712.0 L951.5 710.1 L957.8 710.7 L966.6 706.7 L973.2 709.9 L982.0 710.4" fill="none" stroke="#9fb33f" stroke-width="1.2" stroke-linejoin="round"/>
<path d="M608.7 718.7 L616.6 717.0 L622.7 717.2 L631.3 716.4 L639.4 718.6 L646.8 718.7 L652.7 718.1 L661.5 717.9 L667.4 718.3 L674.9 717.1 L682.9 715.7 L691.1 716.1 L698.6 715.7 L705.6 714.2 L712.6 715.9 L720.5 714.2 L727.7 716.9 L734.7 714.0 L743.7 714.3 L751.0 715.3 L758.0 715.5 L764.5 712.7 L772.2 712.8 L779.3 713.5 L786.4 715.9 L795.4 715.0 L802.1 712.6 L810.7 712.1 L817.7 714.4 L825.0 712.2 L832.2 711.8 L839.1 714.0 L847.4 712.7 L853.3 710.5 L862.0 711.4 L870.0 711.9 L876.9 709.8 L883.4 711.1 L891.8 710.1 L898.6 712.7 L906.5 710.0 L914.2 711.5 L922.0 710.1 L928.7 713.1 L937.0 712.2 L942.8 710.7 L949.9 708.9 L958.7 712.7 L966.3 713.0 L973.0 707.9 L982.0 709.4" fill="none" stroke="#86ad3c" stroke-width="1.2" stroke-linejoin="round"/>
<path d="M608.7 720.4 L616.7 716.9 L624.1 718.0 L631.7 719.4 L639.4 719.1 L645.1 718.5 L653.7 717.6 L661.6 717.1 L667.8 716.7 L676.0 716.9 L683.0 716.2 L690.6 715.7 L698.2 716.4 L704.6 717.1 L713.6 713.7 L719.8 714.0 L727.4 712.4 L736.3 716.8 L741.6 715.7 L750.5 717.3 L757.8 715.0 L765.9 712.4 L772.5 714.9 L778.8 713.7 L786.5 712.9 L795.0 713.9 L801.1 713.9 L810.3 713.4 L817.3 712.8 L825.0 713.2 L832.0 711.2 L839.9 711.0 L847.2 711.2 L855.1 714.8 L861.7 714.3 L869.2 710.3 L875.5 711.9 L884.9 710.2 L891.4 712.7 L898.0 713.8 L907.0 710.4 L914.0 711.2 L922.2 711.4 L929.0 713.8 L936.5 712.1 L942.9 711.7 L950.3 712.5 L957.5 712.9 L965.3 712.0 L974.0 712.7 L982.0 712.5" fill="none" stroke="#6aa644" stroke-width="1.2" stroke-linejoin="round"/>
<path d="M608.7 718.9 L616.8 717.1 L624.2 719.5 L630.7 718.2 L639.0 719.6 L645.1 720.3 L652.6 718.4 L660.6 717.8 L669.1 717.4 L676.6 719.3 L683.4 718.4 L691.6 721.7 L697.4 717.7 L706.4 714.9 L712.0 718.3 L721.0 716.0 L728.8 716.0 L736.3 712.4 L742.7 715.1 L750.1 713.5 L758.3 714.9 L765.0 712.4 L773.1 711.1 L780.8 712.0 L787.1 713.6 L794.3 712.9 L801.3 713.4 L809.6 714.0 L818.1 713.7 L824.7 709.9 L830.9 713.7 L840.2 712.6 L846.7 711.4 L854.4 714.6 L860.7 713.7 L869.4 710.7 L876.1 710.1 L883.4 715.9 L890.5 714.2 L899.6 712.2 L905.6 714.4 L914.6 712.1 L920.2 712.3 L929.5 713.9 L935.8 713.0 L944.0 713.7 L951.2 713.9 L957.9 712.9 L966.3 714.0 L974.1 711.6 L982.0 711.3" fill="none" stroke="#56a050" stroke-width="1.2" stroke-linejoin="round"/>
<path d="M608.7 717.4 L615.1 715.3 L622.6 721.4 L631.7 718.2 L639.5 719.9 L645.6 718.9 L653.8 717.8 L661.4 720.4 L667.4 719.1 L675.2 720.6 L682.8 717.8 L691.3 717.9 L697.0 718.1 L706.0 718.4 L713.4 717.4 L720.2 716.9 L727.8 714.2 L735.0 715.2 L742.0 716.1 L749.5 716.1 L756.9 713.8 L764.1 717.7 L773.1 714.5 L780.9 715.2 L787.4 714.5 L794.6 710.3 L801.6 712.1 L809.7 715.0 L817.9 711.6 L824.8 714.5 L832.5 714.2 L839.5 714.3 L846.9 713.3 L854.7 712.9 L861.8 710.3 L869.9 712.9 L877.1 713.6 L883.2 716.0 L892.1 713.6 L899.2 714.8 L905.9 715.9 L914.6 714.8 L920.8 713.7 L928.6 714.6 L935.2 712.3 L943.0 714.8 L951.0 718.3 L957.9 715.2 L964.8 715.1 L972.5 715.9 L982.0 713.2" fill="none" stroke="#4a9a5c" stroke-width="1.2" stroke-linejoin="round"/>
<path d="M608.7 718.6 L617.2 720.8 L623.2 718.3 L630.2 718.3 L637.9 722.7 L646.1 720.5 L652.9 719.8 L660.4 717.3 L669.2 720.8 L676.2 721.4 L682.2 719.9 L689.8 719.5 L697.5 717.0 L704.9 717.5 L712.3 714.5 L720.6 718.2 L727.3 715.5 L735.8 717.0 L743.5 717.3 L750.6 713.7 L757.7 715.2 L765.2 716.3 L773.1 715.7 L780.9 711.6 L788.0 713.4 L794.7 712.2 L802.2 714.9 L809.3 710.9 L817.2 712.1 L824.5 714.7 L832.3 711.2 L840.3 714.5 L846.6 713.1 L854.8 712.8 L861.2 711.0 L868.9 712.7 L877.4 714.9 L885.0 712.1 L892.4 716.7 L899.8 712.9 L906.1 715.8 L913.7 713.9 L921.6 715.1 L928.5 710.7 L935.1 715.6 L942.8 715.4 L950.5 716.6 L959.4 715.2 L966.8 715.6 L974.2 715.9 L982.0 713.5" fill="none" stroke="#47936a" stroke-width="1.2" stroke-linejoin="round"/>
<path d="M608.7 720.8 L617.0 721.3 L622.9 718.9 L630.1 721.1 L639.3 721.0 L645.2 722.2 L654.3 722.6 L659.9 724.3 L668.0 718.8 L676.0 724.2 L682.1 718.8 L691.1 716.9 L697.7 719.0 L705.9 716.4 L712.2 721.1 L720.9 717.0 L728.8 712.5 L735.2 716.9 L741.8 718.9 L749.9 714.3 L757.4 716.9 L765.3 715.2 L771.7 713.7 L780.1 717.1 L787.9 714.5 L795.4 714.4 L802.2 714.9 L808.8 713.3 L817.9 713.6 L823.7 711.5 L832.9 713.3 L839.7 713.7 L846.7 714.6 L854.0 715.0 L861.7 713.7 L868.7 711.2 L875.9 712.8 L883.3 715.3 L891.6 711.0 L898.7 713.6 L905.9 718.5 L913.3 716.1 L920.4 715.0 L927.7 712.8 L936.1 716.9 L942.7 720.8 L950.1 715.2 L957.5 714.9 L965.7 713.7 L974.4 719.3 L982.0 715.7" fill="none" stroke="#4a8c78" stroke-width="1.2" stroke-linejoin="round"/>
<path d="M608.7 719.0 L616.3 721.3 L624.6 721.7 L631.2 721.9 L638.4 718.9 L645.4 721.6 L654.2 722.6 L661.7 721.1 L667.3 719.8 L675.0 720.3 L683.4 720.5 L689.8 717.1 L698.8 718.1 L705.8 713.9 L712.1 716.5 L719.3 718.1 L727.5 718.8 L735.2 716.7 L743.1 720.1 L750.7 716.2 L758.2 714.1 L765.3 715.6 L772.6 717.2 L780.2 715.9 L787.1 717.5 L794.7 713.8 L801.9 715.1 L809.4 711.9 L817.4 712.8 L825.3 712.7 L831.3 711.8 L840.1 714.3 L846.5 712.6 L853.3 711.4 L862.3 713.5 L869.3 715.1 L876.1 716.5 L883.2 712.1 L892.2 715.1 L898.8 714.2 L906.9 716.5 L914.4 719.8 L922.1 715.5 L927.7 713.2 L936.6 717.3 L943.5 717.3 L950.3 717.1 L959.3 716.8 L965.0 717.0 L974.0 717.1 L982.0 718.2" fill="none" stroke="#4f8584" stroke-width="1.2" stroke-linejoin="round"/>
<path d="M608.7 721.1 L616.9 719.5 L623.1 720.8 L631.1 723.2 L638.1 723.5 L644.9 723.3 L652.6 724.1 L661.1 719.6 L668.4 720.6 L676.0 721.2 L683.1 720.5 L691.7 721.4 L697.9 721.6 L706.4 717.7 L712.2 721.4 L720.1 717.6 L728.6 717.9 L735.2 719.0 L741.8 716.7 L750.8 717.7 L756.4 719.6 L764.5 715.4 L771.7 717.1 L779.8 717.0 L787.3 713.4 L794.7 715.8 L802.0 718.3 L810.4 715.6 L818.2 714.1 L824.5 714.6 L832.9 715.6 L838.5 716.9 L846.0 714.2 L853.5 713.3 L861.8 715.3 L869.6 712.8 L875.6 714.7 L883.4 715.9 L890.4 715.5 L898.2 716.1 L905.5 717.3 L912.9 717.1 L921.6 715.9 L927.6 720.2 L936.0 719.1 L943.4 718.7 L951.3 716.1 L957.9 718.0 L965.9 718.1 L974.2 723.6 L982.0 721.5" fill="none" stroke="#5a8a8a" stroke-width="1.2" stroke-linejoin="round"/>
<path d="M608.7 714.8 L617.1 717.3 L623.8 715.2 L630.3 717.5 L639.1 715.3 L645.0 717.5 L654.1 717.7 L661.2 718.6 L669.3 722.1 L676.0 719.1 L682.0 717.0 L690.6 716.5 L697.4 717.0 L704.4 715.3 L713.7 712.1 L720.4 712.4 L728.1 708.4 L735.1 705.6 L743.8 704.3 L750.8 709.8 L756.9 704.3 L764.5 703.1 L772.2 705.4 L780.6 702.4 L788.1 696.9 L793.6 700.9 L802.1 698.6 L810.7 700.7 L817.3 697.4 L825.1 699.4 L831.6 700.8 L840.4 703.3 L846.2 704.3 L853.4 705.1 L861.0 709.8 L869.3 709.5 L877.1 708.7 L883.2 710.9 L891.3 711.0 L898.3 711.8 L907.0 712.9 L913.3 718.5 L921.0 716.5 L929.5 716.2 L937.2 717.2 L942.9 717.4 L950.6 717.8 L958.0 720.2 L966.0 717.9 L972.7 717.2 L982.0 715.5" fill="none" stroke="#527e88" stroke-width="1.25" stroke-linejoin="round"/>
<path d="M608.7 713.2 L616.5 715.8 L623.3 715.8 L630.5 716.0 L638.7 716.9 L646.1 714.1 L653.2 716.0 L660.0 715.8 L669.0 717.1 L674.7 716.4 L682.9 716.0 L691.3 715.0 L698.9 716.3 L705.5 715.3 L713.9 718.2 L719.5 716.1 L727.3 711.8 L735.5 711.6 L741.6 711.5 L749.4 711.8 L757.3 710.3 L765.2 707.9 L771.4 706.9 L780.4 707.3 L787.7 709.9 L794.4 704.6 L802.6 705.0 L808.8 710.6 L817.1 710.7 L825.2 712.6 L832.7 711.1 L839.2 711.6 L846.7 710.8 L854.0 711.8 L861.8 712.1 L868.4 711.6 L876.1 712.6 L883.7 713.3 L891.4 714.5 L898.2 715.8 L907.4 717.2 L913.7 720.5 L922.2 720.7 L928.4 720.2 L937.0 721.6 L942.4 722.9 L950.6 720.1 L957.8 722.6 L966.1 720.1 L974.4 719.3 L982.0 720.9" fill="none" stroke="#4f7a86" stroke-width="1.25" stroke-linejoin="round"/>
<path d="M608.7 715.7 L616.6 718.3 L623.0 716.8 L630.3 715.7 L637.7 717.1 L646.0 719.4 L653.2 717.5 L661.6 718.6 L667.7 717.3 L674.9 717.3 L683.8 719.1 L691.3 714.8 L698.7 716.1 L704.9 711.8 L713.5 715.6 L720.5 712.4 L727.6 711.7 L734.8 712.8 L743.3 713.4 L751.2 712.5 L758.1 709.6 L764.2 708.5 L771.7 709.6 L779.2 709.0 L787.2 709.3 L795.0 710.2 L802.2 709.8 L809.0 711.0 L816.8 710.7 L823.5 711.8 L831.7 708.8 L839.9 707.9 L846.0 711.1 L854.9 710.6 L860.9 712.3 L868.9 710.4 L877.3 716.0 L883.4 713.6 L891.9 718.9 L898.1 718.8 L906.8 723.6 L913.1 722.4 L921.4 721.7 L928.3 721.9 L935.6 722.9 L942.8 721.3 L950.4 721.9 L957.5 721.0 L966.0 719.9 L972.3 719.2 L982.0 719.1" fill="none" stroke="#4a6e84" stroke-width="1.25" stroke-linejoin="round"/>
<path d="M608.7 716.9 L616.5 717.0 L623.1 717.4 L631.6 716.9 L638.9 717.4 L645.7 717.4 L652.7 718.1 L661.7 716.4 L668.9 715.1 L676.0 714.7 L683.5 712.9 L689.8 711.0 L697.6 707.1 L704.5 704.5 L712.7 702.3 L721.4 700.5 L728.6 692.8 L735.6 693.7 L742.9 692.4 L749.4 686.4 L757.6 681.2 L764.3 675.3 L773.1 669.5 L779.9 669.3 L786.4 670.7 L794.2 669.5 L801.3 670.1 L809.7 670.8 L817.5 675.2 L824.6 676.7 L831.8 676.2 L839.6 683.9 L846.2 694.0 L855.1 698.2 L860.9 701.5 L869.6 704.2 L877.0 707.2 L885.0 710.4 L891.6 712.6 L899.9 717.0 L905.6 719.1 L914.1 722.8 L921.0 723.1 L927.6 725.7 L936.3 724.6 L943.1 729.0 L950.4 726.4 L957.4 724.4 L965.3 724.7 L974.1 724.1 L982.0 722.7" fill="none" stroke="#416a80" stroke-width="1.25" stroke-linejoin="round"/>
<path d="M608.7 716.8 L616.7 717.0 L622.5 719.3 L631.9 720.8 L639.6 718.2 L645.3 717.6 L652.9 718.4 L660.3 719.8 L669.1 717.8 L676.3 718.2 L683.2 715.1 L690.0 715.2 L697.1 710.0 L705.6 709.0 L713.8 704.0 L720.7 701.0 L728.9 694.7 L735.2 694.4 L741.8 690.6 L749.4 687.6 L758.0 686.1 L764.5 681.7 L771.5 678.1 L779.0 678.6 L788.1 679.2 L794.9 684.0 L801.5 683.6 L810.6 695.4 L816.6 707.7 L825.2 724.9 L831.6 732.0 L839.2 737.8 L847.5 739.4 L854.2 740.3 L861.4 742.6 L869.9 743.4 L876.1 743.5 L883.0 740.3 L890.7 741.6 L898.9 736.9 L905.3 734.3 L912.8 735.8 L921.1 734.6 L929.3 731.4 L935.6 729.9 L942.6 729.0 L951.3 730.0 L958.2 729.0 L966.3 728.5 L973.5 731.0 L982.0 729.6" fill="none" stroke="#4b3b6f" stroke-width="1.25" stroke-linejoin="round"/>
<path d="M608.7 702.2 L616.0 706.2 L624.0 707.0 L630.5 711.2 L638.0 713.7 L645.6 716.1 L652.9 718.8 L661.4 719.5 L669.1 718.8 L676.4 717.1 L683.0 715.6 L690.8 713.2 L697.6 709.5 L704.9 704.8 L712.7 697.3 L720.6 687.6 L726.8 678.2 L736.3 665.0 L742.7 653.4 L749.5 637.8 L757.4 628.7 L764.0 619.0 L771.3 608.8 L780.6 599.7 L787.2 592.2 L795.4 591.1 L802.2 591.9 L808.5 600.4 L816.8 609.1 L824.2 620.2 L831.7 632.7 L839.0 652.4 L847.4 665.2 L854.6 680.0 L860.8 691.2 L868.2 698.9 L876.9 706.0 L885.0 711.2 L892.4 717.4 L899.5 723.2 L905.8 728.5 L913.1 732.4 L922.2 732.6 L927.8 729.0 L935.1 726.7 L943.5 725.6 L950.0 724.0 L957.4 722.6 L966.8 723.8 L973.3 724.5 L982.0 723.4" fill="none" stroke="#3f5877" stroke-width="1.25" stroke-linejoin="round"/>
<path d="M608.7 693.8 L617.2 702.2 L624.1 706.9 L631.4 712.5 L638.2 714.3 L646.5 716.8 L653.0 718.2 L661.6 719.9 L669.4 719.5 L674.7 717.3 L682.3 716.7 L691.0 711.5 L697.4 707.4 L705.5 703.4 L712.5 698.3 L719.4 687.2 L728.9 677.2 L734.4 662.6 L743.6 650.6 L749.0 634.4 L758.1 619.8 L764.6 601.9 L773.0 586.9 L780.7 571.4 L788.3 558.1 L794.8 558.5 L802.8 561.9 L808.9 575.6 L817.2 595.4 L823.7 627.4 L831.5 652.6 L839.0 668.6 L846.3 689.7 L853.2 706.1 L861.6 719.4 L868.6 725.6 L876.2 730.0 L883.1 733.3 L890.4 740.6 L899.0 741.3 L906.9 739.6 L914.8 736.3 L920.5 733.5 L928.1 732.0 L935.5 731.7 L944.3 730.9 L951.9 728.0 L959.1 728.7 L965.0 730.8 L973.9 728.9 L982.0 728.5" fill="none" stroke="#3e416f" stroke-width="1.25" stroke-linejoin="round"/>
<path d="M608.7 693.5 L615.8 701.8 L623.6 706.6 L631.0 711.3 L637.9 713.6 L646.4 717.3 L654.0 718.4 L661.6 720.5 L667.7 719.8 L676.2 717.9 L683.5 715.7 L691.4 713.2 L697.6 709.4 L704.3 702.2 L713.4 695.8 L720.4 688.6 L728.5 680.4 L735.4 669.4 L742.6 657.5 L751.0 644.1 L757.8 627.3 L764.2 603.8 L772.3 577.0 L779.6 551.0 L787.7 525.1 L794.9 504.6 L802.9 488.0 L810.3 494.2 L816.3 509.3 L823.7 533.2 L832.0 566.4 L838.7 596.2 L847.5 624.5 L855.0 652.2 L862.8 677.7 L868.3 694.5 L876.5 703.8 L884.7 708.6 L890.9 714.5 L898.7 718.8 L906.0 723.2 L914.6 729.5 L922.3 731.8 L928.8 732.2 L935.3 731.8 L942.8 729.6 L950.8 727.9 L958.5 725.3 L965.0 723.5 L973.9 721.8 L982.0 720.4" fill="none" stroke="#3d3d6d" stroke-width="1.25" stroke-linejoin="round"/>
</g>
<rect x="609" y="456.7" width="373" height="299.1" fill="none" stroke="#151515" stroke-width="1.4"/>
<path d="M714.7 755.8v6M877.0 755.8v6M609.0 681.4h-6M609.0 587.8h-6M609.0 494.2h-6" stroke="#151515" stroke-width="1.4" fill="none"/>
<text x="714.7" y="785.5" font-size="24" text-anchor="middle" fill="#000">0.4</text>
<text x="877" y="785.5" font-size="24" text-anchor="middle" fill="#000">4.4</text>
<text x="599.6" y="690" font-size="24" text-anchor="end" fill="#000">0</text>
<text x="599.6" y="596.4" font-size="24" text-anchor="end" fill="#000">500</text>
<text x="599.6" y="502.8" font-size="24" text-anchor="end" fill="#000">1000</text>
<text x="796.7" y="812.8" font-size="24" text-anchor="middle" fill="#000">Distance (mm)</text>
<text x="541.8" y="600.8" font-size="24" text-anchor="middle" transform="rotate(-90 541.8 600.8)" fill="#000">Magnetic field (arb. units)</text>
<text x="494" y="876" font-size="40" text-anchor="start" font-weight="bold" fill="#000">h</text>
<clipPath id="clip_h"><rect x="610.7" y="884.3" width="373.6" height="300.4"/></clipPath>
<g clip-path="url(#clip_h)">
<path d="M608.7 959.7 L616.6 958.9 L623.1 960.0 L630.0 960.0 L637.4 957.1 L645.4 957.7 L654.2 956.2 L660.4 956.7 L667.4 955.6 L675.5 954.2 L683.4 954.2 L689.7 952.8 L698.0 954.0 L706.3 953.6 L712.0 951.0 L719.7 953.8 L728.4 950.9 L734.4 949.6 L743.2 950.3 L750.3 950.6 L758.6 949.7 L764.9 948.1 L773.3 950.7 L779.0 949.3 L787.4 948.4 L794.4 946.0 L802.7 949.3 L809.3 945.9 L817.1 947.6 L824.1 947.4 L831.8 947.0 L838.5 946.7 L847.4 944.7 L854.6 949.3 L860.6 945.8 L869.2 946.4 L875.9 947.8 L885.1 945.4 L891.5 945.4 L898.8 945.5 L905.9 947.4 L913.5 945.8 L922.2 944.6 L929.7 944.2 L935.3 943.6 L942.7 943.3 L950.9 945.5 L957.4 943.1 L965.9 942.5 L973.3 943.7 L982.0 943.5" fill="none" stroke="#c9bd55" stroke-width="1.2" stroke-linejoin="round"/>
<path d="M608.7 958.8 L615.1 958.0 L624.0 956.9 L631.0 959.0 L639.3 956.6 L646.2 954.9 L653.3 956.9 L660.9 956.7 L667.5 955.4 L675.2 956.4 L682.4 954.1 L691.1 954.6 L698.2 953.0 L704.5 952.5 L713.0 951.6 L720.9 951.0 L727.3 952.0 L734.3 949.4 L743.5 949.6 L750.9 949.8 L758.0 950.7 L764.8 951.1 L772.2 949.7 L780.6 949.1 L786.7 950.2 L794.9 948.0 L801.8 947.3 L808.9 949.6 L817.0 945.8 L824.7 946.2 L830.8 945.7 L839.1 946.2 L847.4 947.7 L855.3 945.4 L861.7 948.2 L868.0 946.4 L876.5 946.0 L884.8 947.0 L891.3 944.0 L899.9 946.8 L907.0 945.6 L912.9 944.5 L921.1 943.0 L927.6 946.2 L936.9 947.4 L944.6 943.6 L951.4 942.7 L957.4 944.0 L965.2 942.5 L973.9 942.6 L982.0 943.3" fill="none" stroke="#bdb94c" stroke-width="1.2" stroke-linejoin="round"/>
<path d="M608.7 956.8 L616.0 954.7 L624.6 956.7 L630.9 957.6 L638.5 955.6 L645.3 954.8 L654.2 953.0 L660.9 954.4 L667.4 954.8 L675.6 952.9 L682.1 953.0 L690.0 951.1 L698.8 952.7 L704.9 953.8 L713.7 954.6 L720.9 952.4 L727.0 952.3 L736.1 951.3 L742.0 951.1 L750.7 950.8 L757.1 951.2 L765.3 953.0 L773.2 949.7 L781.0 949.9 L786.3 948.7 L794.1 949.5 L802.3 946.9 L809.3 948.7 L816.7 948.4 L824.1 948.6 L830.9 948.7 L840.4 946.6 L847.9 947.9 L853.4 946.2 L862.5 946.9 L869.5 945.6 L876.9 946.8 L885.0 945.3 L891.6 945.9 L898.1 945.7 L906.0 945.1 L914.1 944.6 L920.2 942.6 L927.8 944.3 L935.0 943.0 L942.6 943.1 L951.0 941.4 L957.3 940.7 L966.5 944.1 L972.6 945.5 L982.0 943.7" fill="none" stroke="#a8b540" stroke-width="1.2" stroke-linejoin="round"/>
<path d="M608.7 957.5 L616.4 956.6 L623.8 955.5 L631.8 956.7 L639.1 952.7 L645.6 952.6 L652.5 955.8 L660.9 954.8 L667.7 954.2 L675.4 952.8 L682.7 953.3 L689.6 954.5 L697.3 951.5 L704.4 951.5 L713.1 952.4 L720.3 950.4 L728.1 951.4 L735.9 950.4 L742.3 950.2 L749.7 951.4 L758.1 950.6 L764.0 949.2 L773.1 949.2 L778.9 948.3 L786.8 948.7 L795.4 949.1 L801.5 947.5 L809.4 947.6 L817.0 947.0 L825.2 945.5 L833.0 949.9 L840.3 945.8 L847.2 948.6 L854.4 946.3 L861.4 944.4 L870.0 947.5 L877.4 945.5 L884.0 945.7 L892.1 947.6 L899.7 945.2 L905.7 944.1 L913.9 944.8 L920.6 943.6 L927.9 942.7 L937.1 948.1 L943.6 942.8 L951.1 944.1 L959.3 943.4 L966.8 942.4 L973.6 941.7 L982.0 940.1" fill="none" stroke="#90af3a" stroke-width="1.2" stroke-linejoin="round"/>
<path d="M608.7 954.0 L616.3 954.5 L623.2 954.8 L631.5 954.5 L637.5 954.9 L645.0 955.5 L654.2 950.8 L661.5 949.1 L667.8 952.6 L675.1 952.7 L682.9 952.5 L690.2 952.9 L697.2 952.7 L705.5 949.4 L713.9 951.4 L720.5 950.8 L728.7 949.6 L735.3 950.9 L741.9 947.3 L750.0 951.0 L758.2 951.7 L765.8 948.2 L772.4 950.0 L781.0 950.1 L788.0 949.5 L794.4 947.8 L803.0 946.1 L810.2 948.6 L818.0 947.5 L824.6 947.6 L832.9 945.3 L839.9 945.9 L847.2 945.6 L854.8 945.5 L861.4 943.3 L870.0 944.7 L876.4 947.8 L884.1 945.5 L892.1 943.8 L898.2 946.7 L905.6 943.4 L914.3 946.1 L920.9 943.6 L929.5 943.7 L937.2 944.8 L943.1 944.4 L951.9 943.6 L959.4 941.9 L966.8 943.0 L973.0 942.2 L982.0 943.6" fill="none" stroke="#76a940" stroke-width="1.2" stroke-linejoin="round"/>
<path d="M608.7 951.5 L616.2 953.9 L623.0 950.4 L632.1 952.4 L639.0 951.4 L645.3 951.5 L652.7 953.2 L661.8 950.9 L667.1 949.9 L675.2 954.0 L682.8 950.6 L689.7 950.7 L697.6 949.5 L705.8 949.8 L714.0 949.2 L720.4 950.4 L728.2 949.6 L736.3 951.3 L741.7 950.9 L751.1 949.5 L756.7 949.8 L765.0 950.8 L772.1 948.2 L779.7 945.4 L786.4 948.7 L794.4 946.5 L802.5 947.8 L808.7 949.5 L817.8 945.1 L825.0 947.1 L832.9 945.7 L839.3 946.1 L846.5 946.6 L854.0 947.5 L862.5 946.1 L868.4 947.2 L875.8 946.4 L885.1 946.2 L890.3 946.5 L899.3 943.1 L905.8 944.7 L913.8 943.7 L921.3 943.2 L929.3 944.7 L936.8 944.0 L942.8 940.9 L951.1 942.6 L958.1 942.6 L965.8 944.7 L972.8 943.1 L982.0 942.3" fill="none" stroke="#5ea24c" stroke-width="1.2" stroke-linejoin="round"/>
<path d="M608.7 953.2 L616.7 952.0 L624.7 953.0 L630.3 949.0 L638.8 950.7 L645.2 951.9 L653.8 950.2 L661.1 949.2 L668.7 949.8 L675.8 951.7 L682.8 949.7 L690.2 953.6 L698.4 953.4 L705.8 952.7 L711.8 950.0 L720.5 950.5 L726.9 951.8 L734.2 946.5 L743.2 950.3 L750.5 949.6 L756.8 949.5 L765.8 947.7 L771.4 949.1 L779.0 948.2 L787.7 947.2 L794.1 949.4 L803.2 948.2 L810.7 948.7 L816.0 947.7 L824.6 947.2 L831.6 945.0 L840.1 947.4 L847.8 946.8 L854.5 945.4 L862.0 948.3 L869.6 946.1 L877.1 944.7 L884.3 945.0 L891.4 946.6 L898.4 945.4 L907.3 944.4 L914.1 943.8 L920.5 944.7 L928.7 945.2 L935.6 943.1 L943.1 944.1 L952.0 944.0 L957.9 942.9 L966.0 942.3 L974.2 942.7 L982.0 941.9" fill="none" stroke="#4e9a5a" stroke-width="1.2" stroke-linejoin="round"/>
<path d="M608.7 949.2 L616.9 950.7 L624.0 950.6 L630.7 950.7 L637.5 948.8 L645.6 947.0 L654.3 949.5 L660.1 950.1 L667.5 948.7 L674.8 950.1 L683.5 952.1 L690.2 950.9 L697.5 950.7 L705.8 947.7 L712.6 951.2 L720.2 951.0 L727.5 949.2 L735.8 948.8 L743.2 948.1 L751.0 950.5 L758.1 949.0 L764.5 949.5 L773.3 947.2 L779.8 948.0 L786.2 948.6 L794.2 950.1 L802.8 946.7 L810.7 946.3 L818.1 945.7 L824.8 946.6 L832.6 946.2 L840.2 945.3 L845.8 947.3 L853.7 946.8 L861.5 945.9 L869.3 947.2 L875.9 945.8 L884.8 945.5 L891.0 945.8 L899.1 945.1 L907.2 944.2 L914.0 944.7 L920.4 943.5 L928.0 944.7 L935.7 946.7 L943.7 943.0 L950.3 946.0 L958.8 943.3 L966.8 944.0 L972.7 941.9 L982.0 943.1" fill="none" stroke="#489268" stroke-width="1.2" stroke-linejoin="round"/>
<path d="M608.7 949.5 L615.2 951.8 L623.7 949.6 L631.8 947.9 L639.5 948.3 L646.2 950.0 L654.5 947.5 L660.4 948.7 L667.5 949.4 L675.4 947.6 L682.5 948.1 L690.6 950.9 L698.8 949.2 L705.4 949.9 L713.4 951.4 L720.7 947.6 L728.3 949.5 L736.2 948.8 L743.4 948.2 L750.3 947.2 L756.5 950.9 L765.5 947.6 L772.1 946.4 L780.8 947.6 L787.6 947.7 L794.6 949.0 L802.2 947.6 L810.2 947.2 L816.3 948.4 L824.5 948.3 L833.0 946.4 L839.5 947.3 L846.1 947.9 L854.8 946.7 L861.4 946.6 L868.2 944.7 L876.5 946.7 L884.6 945.5 L892.3 946.2 L899.5 946.1 L906.0 944.7 L913.1 944.0 L921.2 941.9 L929.5 944.2 L936.0 944.8 L944.5 942.8 L950.3 943.7 L958.8 944.0 L964.9 943.9 L972.9 942.8 L982.0 946.0" fill="none" stroke="#4a8a76" stroke-width="1.2" stroke-linejoin="round"/>
<path d="M608.7 948.6 L617.2 948.5 L622.9 947.8 L630.7 949.4 L638.1 946.6 L645.3 944.2 L653.0 948.1 L659.8 947.6 L668.6 948.5 L676.0 949.2 L682.3 948.6 L691.0 948.2 L697.0 948.3 L704.6 948.8 L712.6 949.9 L720.8 949.1 L726.7 947.7 L735.3 948.3 L742.1 948.6 L751.0 950.4 L757.7 947.9 L764.1 948.9 L772.6 948.0 L780.4 947.3 L787.8 947.1 L794.9 948.2 L802.0 948.0 L809.4 949.6 L817.0 945.6 L825.1 948.7 L832.8 946.8 L838.9 947.0 L846.4 947.1 L854.1 947.3 L861.0 947.6 L868.3 945.2 L876.6 946.4 L883.4 945.5 L891.3 946.0 L899.8 946.1 L905.7 945.0 L914.6 946.1 L922.0 942.9 L928.3 942.9 L936.6 942.6 L944.6 943.5 L950.4 944.2 L958.3 943.6 L965.5 943.0 L973.6 942.5 L982.0 941.2" fill="none" stroke="#4f8482" stroke-width="1.2" stroke-linejoin="round"/>
<path d="M608.7 946.3 L616.7 948.7 L622.5 946.4 L630.6 946.9 L638.6 946.7 L645.9 945.9 L652.4 946.1 L660.0 945.4 L668.9 945.9 L675.9 947.5 L684.1 948.9 L690.2 948.6 L697.5 949.6 L705.0 947.1 L712.9 951.3 L720.6 949.5 L728.3 949.4 L734.7 948.9 L741.9 950.4 L750.8 948.1 L758.6 948.4 L765.9 946.4 L772.9 948.2 L780.0 945.2 L787.1 946.4 L794.3 948.4 L801.4 946.4 L808.7 944.6 L816.2 945.5 L825.2 945.8 L832.4 948.8 L840.5 949.7 L846.8 945.2 L855.2 945.4 L861.5 946.3 L869.5 945.8 L876.1 946.9 L884.6 944.5 L892.2 945.5 L898.1 945.3 L906.7 945.3 L913.6 945.3 L920.1 942.6 L927.5 942.4 L937.1 943.4 L942.5 941.5 L952.0 943.2 L958.0 940.6 L966.5 944.7 L972.5 943.2 L982.0 943.4" fill="none" stroke="#587f88" stroke-width="1.2" stroke-linejoin="round"/>
<path d="M608.7 949.2 L616.5 949.9 L624.3 947.5 L631.7 948.6 L637.9 947.2 L644.8 948.6 L652.4 947.8 L661.5 950.3 L667.2 949.4 L676.8 950.4 L683.4 949.6 L689.5 947.5 L697.1 949.7 L706.5 952.0 L713.6 951.1 L719.5 953.3 L727.9 955.4 L734.9 955.0 L741.6 956.4 L750.9 958.8 L756.9 960.1 L766.0 962.8 L773.0 962.9 L780.0 960.7 L787.2 962.7 L795.5 963.0 L803.0 965.1 L809.4 967.5 L816.8 964.1 L825.6 964.0 L831.0 958.6 L839.9 955.0 L846.8 954.1 L854.4 951.2 L861.9 950.1 L869.3 947.8 L875.8 946.3 L883.7 944.5 L891.7 944.5 L898.5 941.8 L907.0 942.2 L914.4 941.8 L921.6 940.1 L929.6 942.7 L937.2 942.7 L944.6 941.3 L951.0 939.7 L958.1 940.7 L965.1 942.3 L972.3 944.9 L982.0 943.2" fill="none" stroke="#557f8a" stroke-width="1.25" stroke-linejoin="round"/>
<path d="M608.7 950.0 L615.1 949.4 L622.8 950.2 L631.4 949.6 L637.9 948.5 L646.9 951.4 L654.3 949.2 L661.2 951.1 L667.2 951.4 L676.5 949.5 L682.4 949.7 L691.3 950.3 L698.6 949.0 L706.5 950.4 L713.1 951.2 L719.8 953.7 L728.4 957.3 L736.2 958.5 L743.4 961.0 L750.5 964.2 L757.6 971.2 L763.9 980.2 L772.4 983.0 L779.6 982.7 L786.9 984.6 L794.5 986.6 L802.4 989.7 L809.7 990.6 L817.1 986.1 L823.6 982.6 L831.8 976.1 L839.2 970.0 L846.8 967.6 L854.0 960.1 L861.0 958.9 L869.2 954.7 L876.3 949.9 L883.3 948.0 L892.1 945.7 L899.2 942.8 L905.3 942.2 L913.6 942.7 L921.1 942.1 L929.4 939.0 L936.3 939.8 L944.6 941.1 L951.5 941.3 L958.7 940.4 L966.6 940.7 L973.5 943.3 L982.0 942.2" fill="none" stroke="#4a6a80" stroke-width="1.25" stroke-linejoin="round"/>
<path d="M608.7 949.1 L617.0 946.0 L623.4 948.5 L631.1 948.2 L638.4 948.3 L645.3 948.6 L652.4 948.2 L661.3 948.8 L668.8 948.0 L675.4 950.0 L683.3 951.4 L690.9 950.7 L697.7 948.5 L706.0 948.9 L713.2 950.2 L719.9 952.3 L728.3 952.6 L735.4 952.6 L741.9 951.1 L749.4 953.4 L756.9 952.7 L764.1 956.2 L771.9 956.0 L780.0 956.8 L787.0 957.3 L794.3 954.2 L802.3 950.6 L809.1 950.2 L817.5 947.7 L825.2 944.8 L832.9 939.8 L839.6 935.2 L847.9 929.5 L853.3 926.8 L862.4 926.8 L869.6 927.3 L877.6 929.2 L884.1 927.7 L891.1 930.5 L900.0 929.8 L905.4 930.6 L913.7 932.8 L922.2 934.3 L928.0 936.9 L935.4 936.8 L943.6 937.7 L950.8 938.4 L959.3 938.7 L966.7 940.0 L974.0 942.5 L982.0 944.4" fill="none" stroke="#4b3a70" stroke-width="1.25" stroke-linejoin="round"/>
<path d="M608.7 947.1 L615.5 946.2 L624.0 948.3 L630.1 947.9 L638.9 948.1 L646.4 947.9 L654.2 948.6 L661.9 948.0 L669.3 949.8 L676.2 950.1 L684.1 949.4 L689.6 950.8 L697.2 951.4 L705.1 950.6 L712.6 952.9 L721.2 955.8 L728.6 958.0 L734.2 960.8 L743.3 967.4 L750.8 974.6 L757.0 983.9 L765.5 991.0 L772.4 1001.3 L779.1 1010.6 L787.7 1019.6 L795.8 1025.3 L803.3 1022.6 L810.2 1020.3 L817.3 1011.4 L824.0 1002.4 L831.7 987.3 L840.0 966.2 L847.6 953.5 L853.7 946.1 L861.6 939.4 L870.0 934.6 L875.6 930.0 L883.9 929.1 L892.0 928.2 L897.9 930.5 L907.0 932.6 L913.9 933.0 L921.0 933.8 L928.0 935.4 L935.7 936.9 L944.5 938.9 L949.9 939.7 L957.9 939.2 L965.7 939.9 L973.6 941.2 L982.0 942.5" fill="none" stroke="#4b3e70" stroke-width="1.25" stroke-linejoin="round"/>
<path d="M608.7 945.3 L616.9 947.9 L623.9 947.3 L630.0 948.6 L638.0 948.0 L645.8 947.6 L653.8 947.8 L661.5 948.3 L668.5 947.6 L676.4 949.3 L683.1 950.3 L689.7 951.2 L697.1 952.3 L705.6 951.9 L712.1 952.6 L720.2 955.2 L727.8 959.4 L734.4 965.0 L741.9 972.7 L750.8 981.7 L757.7 991.9 L764.8 1004.1 L772.4 1014.3 L778.9 1025.4 L786.3 1034.1 L794.5 1040.4 L802.1 1047.4 L809.6 1046.2 L816.7 1042.4 L823.5 1033.6 L832.3 1021.3 L840.2 1005.9 L846.0 988.9 L855.3 977.7 L861.9 970.1 L869.4 962.7 L876.1 954.6 L884.0 949.4 L891.3 943.3 L898.6 940.9 L906.9 939.2 L913.6 938.1 L921.4 938.3 L928.9 937.0 L936.7 938.6 L943.0 939.2 L951.2 940.5 L957.4 940.8 L966.7 940.4 L972.8 941.7 L982.0 943.5" fill="none" stroke="#4a687e" stroke-width="1.25" stroke-linejoin="round"/>
<path d="M608.7 945.7 L615.5 945.5 L624.2 945.9 L631.6 946.2 L638.5 947.6 L646.2 947.0 L653.2 949.1 L661.6 946.7 L667.2 948.3 L676.7 946.5 L683.3 949.3 L691.3 950.5 L698.7 952.0 L704.4 952.5 L713.0 956.9 L719.5 961.9 L728.0 968.4 L735.3 974.5 L742.5 983.1 L750.9 992.5 L757.0 1009.1 L766.0 1027.7 L772.5 1045.4 L778.9 1071.2 L787.8 1106.4 L793.7 1141.0 L802.8 1154.9 L810.7 1159.4 L816.2 1148.7 L825.1 1110.2 L832.1 1075.5 L838.3 1043.4 L845.9 1012.8 L853.4 985.8 L862.6 969.1 L869.7 955.9 L877.0 948.2 L883.7 941.4 L890.4 938.7 L897.9 937.0 L907.4 934.2 L914.0 934.0 L921.4 934.7 L929.4 933.8 L935.9 935.1 L943.1 935.5 L950.2 936.0 L957.5 937.3 L964.8 938.6 L973.7 940.4 L982.0 941.9" fill="none" stroke="#4a5080" stroke-width="1.25" stroke-linejoin="round"/>
<path d="M608.7 944.3 L617.2 944.3 L624.3 945.5 L630.7 945.8 L637.8 944.7 L646.8 946.8 L654.3 945.8 L661.0 946.5 L668.9 948.2 L676.2 948.2 L682.0 947.1 L691.6 947.4 L698.3 950.3 L705.1 951.8 L712.9 955.6 L719.4 961.8 L728.3 970.0 L736.2 979.9 L741.9 991.9 L750.6 1006.0 L756.8 1025.1 L766.0 1051.0 L772.1 1075.5 L780.0 1100.0 L787.2 1123.9 L795.4 1143.7 L802.8 1156.8 L808.9 1161.9 L817.1 1147.5 L823.8 1110.5 L831.0 1074.4 L839.0 1042.8 L846.0 1014.3 L853.7 988.3 L861.2 969.9 L869.1 958.2 L877.5 949.4 L883.4 945.2 L892.3 941.4 L899.3 937.3 L907.0 936.3 L913.3 935.0 L921.4 934.3 L928.5 934.3 L937.0 934.8 L944.3 935.4 L950.4 936.2 L957.7 936.2 L965.6 939.1 L974.2 939.9 L982.0 940.7" fill="none" stroke="#45497a" stroke-width="1.25" stroke-linejoin="round"/>
<path d="M608.7 944.8 L616.4 944.8 L623.5 944.8 L630.9 945.0 L639.2 944.9 L645.1 945.6 L652.8 945.0 L659.9 945.3 L669.3 946.0 L674.9 945.5 L683.6 946.5 L690.9 945.4 L698.4 945.9 L704.6 946.5 L713.2 946.8 L719.8 945.0 L727.3 942.5 L734.4 943.2 L742.4 942.4 L749.0 942.2 L757.2 940.8 L764.7 937.2 L773.3 939.5 L780.2 945.1 L787.9 939.9 L794.0 934.3 L801.1 931.7 L808.9 930.9 L817.4 931.1 L825.1 926.8 L832.7 924.7 L839.9 926.1 L846.7 925.9 L854.1 928.2 L862.5 927.4 L868.7 926.0 L875.5 926.0 L883.8 928.3 L892.2 927.8 L899.3 930.9 L907.4 932.7 L913.5 933.8 L920.5 934.4 L927.8 936.5 L935.6 938.7 L943.6 940.9 L951.6 941.6 L957.7 942.7 L965.8 944.3 L972.9 943.0 L982.0 943.4" fill="none" stroke="#a347d0" stroke-width="1.25" stroke-linejoin="round"/>
</g>
<rect x="610.7" y="884.3" width="373.6" height="300.4" fill="none" stroke="#151515" stroke-width="1.4"/>
<path d="M633.7 1184.7v6M698.6 1184.7v6M763.5 1184.7v6M828.5 1184.7v6M893.4 1184.7v6M958.3 1184.7v6M610.7 1138.5h-6M610.7 1061.9h-6M610.7 985.4h-6M610.7 908.9h-6" stroke="#151515" stroke-width="1.4" fill="none"/>
<text x="633.7" y="1215.2" font-size="24" text-anchor="middle" fill="#000">1</text>
<text x="698.6" y="1215.2" font-size="24" text-anchor="middle" fill="#000">2</text>
<text x="763.5" y="1215.2" font-size="24" text-anchor="middle" fill="#000">3</text>
<text x="828.5" y="1215.2" font-size="24" text-anchor="middle" fill="#000">4</text>
<text x="893.4" y="1215.2" font-size="24" text-anchor="middle" fill="#000">5</text>
<text x="958.3" y="1215.2" font-size="24" text-anchor="middle" fill="#000">6</text>
<text x="601.3" y="1147.1" font-size="24" text-anchor="end" fill="#000">-1000</text>
<text x="601.3" y="1070.5" font-size="24" text-anchor="end" fill="#000">-500</text>
<text x="601.3" y="994" font-size="24" text-anchor="end" fill="#000">0</text>
<text x="601.3" y="917.5" font-size="24" text-anchor="end" fill="#000">500</text>
<text x="799" y="1244" font-size="24" text-anchor="middle" fill="#000">Distance (mm)</text>
<text x="539" y="1027.5" font-size="24" text-anchor="middle" transform="rotate(-90 539 1027.5)" fill="#000">Magnetic field (arb. units)</text>
<text x="1012" y="458.7" font-size="40" text-anchor="start" font-weight="bold" fill="#000">i</text>
<clipPath id="clip_i"><rect x="1106.6" y="452.8" width="376" height="302.5"/></clipPath>
<g clip-path="url(#clip_i)">
<path d="M1108.0 676.7 L1111.8 677.2 L1116.8 676.3 L1121.5 681.6 L1125.7 679.9 L1129.8 680.7 L1135.3 679.2 L1139.2 680.3 L1143.9 676.4 L1147.9 679.8 L1153.2 682.4 L1156.8 679.3 L1162.0 681.0 L1166.2 682.7 L1171.0 683.5 L1175.3 681.7 L1179.8 684.4 L1184.5 684.4 L1188.5 685.3 L1192.5 684.0 L1197.5 688.1 L1202.2 691.0 L1206.6 687.6 L1210.2 689.7 L1214.8 685.8 L1219.9 687.9 L1224.4 687.3 L1229.2 686.9 L1232.7 694.4 L1237.3 692.5 L1242.0 689.2 L1245.9 689.8 L1251.3 685.5 L1254.9 686.7 L1259.8 690.8 L1264.9 693.1 L1268.6 687.7 L1272.6 691.4 L1277.5 687.0 L1282.7 689.4 L1285.9 688.9 L1290.5 688.0 L1294.9 689.8 L1300.3 690.1 L1304.3 688.7 L1308.8 691.2 L1313.4 688.3 L1317.5 691.8 L1321.9 688.8 L1326.5 690.1 L1331.2 689.5 L1335.9 692.1 L1339.5 690.0 L1344.2 690.7 L1349.5 693.0 L1353.1 695.1 L1358.2 693.7 L1362.5 689.3 L1366.6 692.4 L1371.2 696.9 L1376.4 694.6 L1380.1 694.5 L1384.5 698.3 L1389.1 698.2 L1393.3 695.6 L1398.4 696.9 L1402.1 698.8 L1406.6 698.5 L1411.7 700.6 L1416.0 701.8 L1420.4 702.6 L1424.7 706.4 L1429.2 706.3 L1433.8 707.1 L1437.9 711.5 L1443.1 713.5 L1446.8 715.7 L1451.2 718.3 L1456.6 720.0 L1460.6 724.9 L1465.8 732.1 L1470.0 735.3 L1473.5 740.5 L1478.0 742.6 L1482.0 743.9" fill="none" stroke="#c4b84e" stroke-width="1.2" stroke-linejoin="round"/>
<path d="M1108.0 676.8 L1112.4 681.9 L1117.1 678.5 L1121.0 680.3 L1126.5 681.6 L1129.8 680.0 L1135.4 678.1 L1139.7 681.5 L1144.2 679.8 L1147.7 683.8 L1153.2 683.0 L1156.7 678.6 L1162.2 682.2 L1166.4 680.8 L1170.9 688.3 L1174.7 684.8 L1180.0 686.1 L1184.0 685.3 L1188.1 689.8 L1192.2 687.3 L1197.2 687.6 L1201.4 688.3 L1205.7 689.5 L1210.0 687.1 L1215.7 688.1 L1219.9 687.6 L1223.8 686.3 L1229.1 687.7 L1233.1 688.5 L1237.9 690.1 L1241.6 691.0 L1246.3 688.8 L1250.5 691.4 L1255.0 691.0 L1259.9 690.5 L1263.9 684.8 L1268.8 691.9 L1273.0 688.5 L1277.2 690.1 L1281.9 687.7 L1286.0 688.7 L1291.3 690.3 L1295.7 689.4 L1300.4 693.2 L1304.8 689.0 L1308.2 688.9 L1313.4 686.4 L1318.3 691.7 L1322.1 686.5 L1326.5 689.9 L1331.0 688.8 L1336.0 688.8 L1340.1 687.1 L1344.5 694.1 L1348.9 693.8 L1353.7 691.2 L1357.6 691.9 L1362.2 693.2 L1366.8 692.4 L1371.2 693.5 L1375.4 696.2 L1379.9 694.5 L1384.5 697.2 L1388.7 695.5 L1393.1 702.3 L1397.8 699.2 L1403.1 698.9 L1406.5 701.3 L1411.5 703.0 L1416.0 701.5 L1420.4 704.4 L1424.5 704.3 L1429.9 706.2 L1434.0 707.0 L1438.5 714.5 L1442.2 711.6 L1447.3 712.0 L1451.9 718.7 L1456.2 720.2 L1460.9 723.9 L1464.9 730.5 L1469.4 731.4 L1473.6 732.0 L1478.7 736.1 L1482.0 739.8" fill="none" stroke="#b8b448" stroke-width="1.2" stroke-linejoin="round"/>
<path d="M1108.0 683.6 L1112.5 680.7 L1116.3 680.0 L1121.2 681.6 L1125.6 678.0 L1130.9 681.5 L1134.1 683.9 L1138.9 683.7 L1143.9 685.8 L1148.2 686.2 L1152.5 685.7 L1157.6 679.1 L1162.0 682.5 L1165.8 686.8 L1169.9 682.6 L1175.3 682.3 L1179.1 686.2 L1183.6 687.8 L1188.8 688.8 L1192.3 686.6 L1197.2 687.7 L1202.3 688.3 L1205.7 685.1 L1210.1 688.1 L1215.4 689.5 L1220.2 693.6 L1223.6 689.1 L1228.7 687.5 L1233.0 690.5 L1237.1 690.9 L1242.5 689.9 L1245.8 689.1 L1250.4 691.3 L1255.5 688.9 L1259.7 688.9 L1264.5 687.5 L1269.0 689.1 L1273.1 691.0 L1277.9 690.4 L1282.1 687.4 L1286.6 689.3 L1291.0 691.1 L1295.7 688.4 L1299.6 686.4 L1304.2 692.3 L1309.4 686.2 L1312.7 688.0 L1318.0 690.0 L1322.2 688.8 L1326.2 687.4 L1331.4 693.0 L1336.3 690.6 L1340.8 691.6 L1343.9 688.7 L1349.0 693.6 L1353.7 690.9 L1358.5 691.1 L1362.7 695.2 L1366.5 696.3 L1371.4 694.1 L1376.0 696.2 L1380.5 695.2 L1385.0 697.3 L1389.0 697.8 L1394.0 698.5 L1398.3 698.7 L1403.1 702.4 L1407.4 698.0 L1411.9 699.8 L1416.0 700.2 L1420.3 703.4 L1425.0 706.5 L1429.9 708.3 L1434.2 707.7 L1439.0 708.4 L1443.3 714.2 L1447.1 713.7 L1451.6 713.8 L1456.6 717.6 L1461.0 722.9 L1465.2 723.1 L1469.0 729.5 L1473.5 729.5 L1478.8 733.0 L1482.0 731.5" fill="none" stroke="#a8b244" stroke-width="1.2" stroke-linejoin="round"/>
<path d="M1108.0 687.8 L1112.0 683.7 L1116.6 687.5 L1121.4 682.6 L1126.2 681.1 L1130.7 684.0 L1135.0 682.8 L1139.4 685.5 L1143.7 684.5 L1148.7 684.7 L1152.3 684.8 L1157.7 681.1 L1161.1 684.4 L1166.1 686.5 L1170.9 686.1 L1175.2 682.8 L1180.0 685.5 L1184.5 685.6 L1188.8 686.7 L1193.3 681.1 L1197.5 688.4 L1201.2 684.9 L1206.4 689.6 L1211.2 687.3 L1215.2 687.4 L1220.1 689.1 L1224.6 692.6 L1228.9 683.9 L1233.6 688.0 L1236.8 689.4 L1241.6 691.9 L1245.9 688.4 L1250.7 689.2 L1254.8 688.6 L1260.0 690.4 L1263.6 690.5 L1268.4 691.0 L1273.4 687.1 L1277.6 690.6 L1282.6 689.8 L1287.2 688.9 L1290.5 688.7 L1294.9 690.2 L1299.8 691.7 L1304.2 689.9 L1308.8 691.6 L1313.5 688.4 L1317.7 691.6 L1322.1 688.2 L1326.2 689.7 L1330.7 688.0 L1335.4 691.1 L1340.3 688.6 L1344.3 690.3 L1349.6 691.9 L1353.3 690.8 L1358.6 692.3 L1362.7 695.3 L1366.9 700.3 L1371.8 693.6 L1375.5 700.2 L1380.1 698.4 L1384.8 696.8 L1389.0 696.4 L1393.1 695.4 L1397.5 702.3 L1402.3 699.7 L1406.8 700.6 L1412.2 704.3 L1416.5 703.9 L1421.0 710.6 L1425.4 707.8 L1429.0 708.3 L1434.2 710.4 L1438.9 709.9 L1443.1 710.1 L1447.7 712.7 L1451.8 712.7 L1455.6 717.2 L1460.0 714.1 L1464.9 720.8 L1469.4 726.9 L1474.0 721.9 L1478.9 724.8 L1482.0 723.2" fill="none" stroke="#94ae40" stroke-width="1.2" stroke-linejoin="round"/>
<path d="M1108.0 685.5 L1112.9 685.7 L1117.1 682.8 L1121.1 684.6 L1126.2 682.9 L1129.7 683.4 L1134.2 683.0 L1139.1 688.6 L1143.8 685.0 L1148.8 686.1 L1153.0 686.1 L1157.0 684.2 L1161.3 686.4 L1165.9 686.5 L1169.9 689.6 L1175.0 686.5 L1179.9 686.6 L1183.3 689.0 L1187.7 687.6 L1192.5 684.3 L1197.1 688.9 L1201.4 688.4 L1206.5 691.8 L1210.4 686.9 L1214.8 692.6 L1219.2 692.1 L1224.0 692.6 L1228.1 691.2 L1232.4 691.5 L1236.8 689.7 L1242.0 686.8 L1246.9 689.7 L1250.3 690.0 L1255.4 689.5 L1259.9 688.6 L1263.6 688.1 L1268.2 690.4 L1272.8 690.4 L1278.1 688.6 L1282.4 691.1 L1286.9 689.6 L1290.9 688.1 L1295.7 691.5 L1300.1 687.8 L1304.0 691.0 L1308.6 689.7 L1312.8 689.7 L1318.2 687.7 L1322.1 689.6 L1326.5 690.9 L1331.6 687.4 L1335.8 689.7 L1340.3 689.0 L1344.9 691.3 L1349.5 693.7 L1352.9 690.1 L1358.2 691.9 L1362.9 695.2 L1367.0 693.7 L1371.0 695.0 L1376.2 696.6 L1380.9 697.8 L1384.2 699.6 L1388.7 701.8 L1393.6 699.0 L1398.1 699.8 L1402.6 702.0 L1406.5 697.8 L1411.6 702.6 L1415.8 705.3 L1420.3 704.6 L1424.4 708.9 L1429.0 709.3 L1433.8 707.8 L1437.7 710.7 L1443.0 709.7 L1447.2 713.6 L1451.3 711.1 L1455.7 717.4 L1461.2 717.1 L1464.7 715.7 L1469.6 720.0 L1474.7 715.8 L1478.0 720.2 L1482.0 721.3" fill="none" stroke="#7eaa46" stroke-width="1.2" stroke-linejoin="round"/>
<path d="M1108.0 686.7 L1112.6 687.9 L1117.3 685.3 L1121.5 686.7 L1126.1 686.5 L1130.6 687.7 L1135.0 687.5 L1139.9 681.0 L1144.3 683.8 L1147.8 685.5 L1152.7 686.2 L1157.6 686.6 L1162.1 683.0 L1165.7 690.3 L1170.7 684.2 L1175.2 687.3 L1179.0 690.6 L1183.9 689.4 L1188.5 687.7 L1192.9 688.8 L1196.8 689.5 L1202.3 692.8 L1206.2 692.7 L1210.2 691.3 L1215.4 688.8 L1219.7 694.8 L1224.1 689.3 L1229.0 688.4 L1233.6 688.9 L1238.0 691.5 L1241.2 687.8 L1246.4 693.7 L1251.0 691.1 L1255.0 686.7 L1260.3 691.8 L1264.8 688.7 L1268.9 688.5 L1272.7 687.1 L1277.2 686.0 L1281.5 693.5 L1286.3 691.0 L1291.6 687.8 L1295.5 689.4 L1299.7 687.1 L1304.6 686.4 L1308.6 689.8 L1314.0 690.2 L1318.1 689.2 L1322.9 691.3 L1327.0 692.7 L1331.3 687.1 L1336.0 692.5 L1340.6 692.7 L1344.5 691.4 L1348.5 693.7 L1353.8 691.2 L1358.4 694.0 L1362.6 694.5 L1366.9 695.4 L1370.8 696.8 L1375.7 698.7 L1380.2 700.3 L1384.9 698.3 L1388.8 698.4 L1394.1 699.9 L1397.7 697.4 L1403.1 705.0 L1407.0 701.9 L1412.2 703.4 L1415.4 704.4 L1421.1 704.9 L1425.0 707.5 L1429.7 706.2 L1433.3 710.8 L1438.5 709.7 L1442.3 713.1 L1447.5 710.7 L1451.6 711.2 L1455.6 715.5 L1460.5 714.6 L1465.3 717.3 L1469.4 716.2 L1473.8 714.2 L1478.9 715.9 L1482.0 712.5" fill="none" stroke="#6aa64c" stroke-width="1.2" stroke-linejoin="round"/>
<path d="M1108.0 684.9 L1112.0 688.1 L1117.2 687.1 L1121.2 685.5 L1125.2 685.2 L1130.9 683.6 L1134.2 690.6 L1139.7 688.0 L1143.9 684.1 L1148.8 685.2 L1152.0 682.7 L1156.8 689.0 L1162.0 684.7 L1166.4 685.6 L1170.3 687.3 L1174.6 689.8 L1179.5 691.5 L1183.9 686.1 L1188.4 693.0 L1192.4 689.7 L1196.7 690.6 L1201.7 687.5 L1205.9 690.2 L1210.8 690.5 L1215.0 690.7 L1219.9 689.0 L1224.1 691.6 L1228.7 693.7 L1232.6 692.1 L1237.0 690.1 L1241.4 685.9 L1246.6 689.5 L1250.5 686.7 L1255.4 689.2 L1259.5 690.6 L1264.4 689.7 L1268.4 686.8 L1273.8 686.6 L1278.1 690.0 L1281.8 691.0 L1286.0 689.7 L1291.1 687.7 L1295.5 691.0 L1300.5 686.9 L1304.8 686.0 L1308.6 693.5 L1313.8 693.5 L1317.8 691.5 L1322.7 688.0 L1326.7 689.1 L1331.4 688.3 L1335.8 691.6 L1340.2 691.9 L1344.1 691.8 L1348.5 691.6 L1353.3 690.2 L1357.4 695.2 L1362.4 693.1 L1366.9 694.8 L1371.4 696.6 L1376.4 697.9 L1380.5 701.2 L1384.7 697.1 L1389.2 699.6 L1393.3 703.2 L1398.6 698.7 L1403.3 705.2 L1407.3 704.1 L1411.3 701.4 L1415.9 706.3 L1420.4 706.7 L1425.2 706.0 L1429.4 708.8 L1433.6 708.2 L1437.9 710.8 L1442.9 710.7 L1447.7 713.3 L1451.6 712.5 L1456.5 713.4 L1460.7 710.6 L1465.7 712.1 L1469.0 708.1 L1474.1 708.0 L1478.1 708.7 L1482.0 712.2" fill="none" stroke="#5aa052" stroke-width="1.2" stroke-linejoin="round"/>
<path d="M1108.0 687.5 L1112.7 687.2 L1116.3 686.3 L1121.2 688.0 L1125.6 687.2 L1129.9 687.0 L1135.2 687.9 L1139.8 684.4 L1143.1 686.6 L1147.9 683.7 L1152.5 687.6 L1157.1 689.2 L1161.4 688.8 L1166.5 686.7 L1169.8 688.8 L1175.3 688.9 L1179.0 689.4 L1184.2 686.9 L1189.0 692.1 L1193.2 692.8 L1197.0 691.2 L1202.3 691.7 L1205.9 690.3 L1210.1 688.3 L1215.3 690.0 L1219.6 688.7 L1223.4 685.1 L1228.1 688.2 L1233.5 689.6 L1236.9 689.5 L1242.3 692.8 L1245.9 689.3 L1250.7 695.0 L1255.9 693.0 L1259.9 691.5 L1264.6 690.1 L1269.2 688.6 L1273.8 690.9 L1277.3 689.8 L1281.7 691.0 L1286.7 686.5 L1290.7 691.1 L1295.6 691.3 L1300.4 691.9 L1304.4 689.7 L1308.3 686.3 L1313.2 687.7 L1317.5 687.4 L1322.1 686.2 L1326.4 687.8 L1331.2 692.7 L1336.1 689.8 L1340.2 691.7 L1344.3 691.5 L1349.6 691.0 L1353.6 689.4 L1357.8 691.4 L1362.1 691.9 L1366.6 700.2 L1370.7 695.7 L1375.8 702.9 L1380.5 701.7 L1384.4 699.8 L1389.5 699.3 L1394.1 704.2 L1398.5 700.4 L1403.0 705.7 L1407.5 705.0 L1411.6 707.6 L1416.0 707.3 L1419.9 706.3 L1425.3 710.4 L1429.8 711.3 L1434.5 709.9 L1438.9 707.7 L1443.3 708.6 L1447.5 708.1 L1451.6 710.0 L1455.8 708.7 L1461.2 708.7 L1465.0 709.3 L1469.3 704.9 L1474.0 703.9 L1478.9 700.1 L1482.0 703.9" fill="none" stroke="#4e9a5c" stroke-width="1.2" stroke-linejoin="round"/>
<path d="M1108.0 683.2 L1112.1 684.0 L1117.4 683.9 L1121.4 687.1 L1125.7 685.0 L1130.6 682.9 L1134.5 685.3 L1138.7 683.8 L1143.2 685.6 L1148.4 687.9 L1152.8 687.8 L1157.2 681.4 L1161.4 685.3 L1165.7 689.9 L1169.9 687.0 L1174.4 688.9 L1179.4 690.7 L1184.2 686.0 L1188.7 690.7 L1192.5 689.4 L1197.3 689.8 L1201.7 690.5 L1206.0 689.8 L1211.2 688.5 L1215.4 689.5 L1219.6 687.6 L1223.5 690.0 L1228.9 686.5 L1233.0 685.7 L1237.8 681.5 L1241.3 683.8 L1246.2 683.4 L1251.0 682.3 L1255.5 682.6 L1260.2 682.8 L1264.6 685.9 L1269.0 683.4 L1273.0 681.3 L1277.4 683.3 L1282.4 683.1 L1286.6 683.3 L1291.0 682.1 L1296.0 682.5 L1300.5 682.1 L1304.7 681.5 L1309.2 680.8 L1313.5 681.1 L1317.6 683.8 L1321.9 682.3 L1326.8 684.2 L1330.7 682.1 L1335.8 685.6 L1339.8 687.1 L1344.7 687.3 L1348.4 685.4 L1353.9 686.5 L1357.7 685.3 L1361.8 686.3 L1366.3 682.8 L1370.9 678.7 L1376.5 681.6 L1380.2 677.9 L1385.3 681.9 L1388.9 680.6 L1393.3 683.2 L1398.2 685.2 L1402.4 684.4 L1407.5 684.0 L1411.5 686.6 L1415.4 686.0 L1419.9 689.7 L1425.1 688.4 L1428.7 686.6 L1433.6 689.2 L1438.0 694.2 L1442.9 691.8 L1447.2 693.7 L1452.0 688.9 L1456.3 694.4 L1460.4 694.3 L1465.5 697.0 L1469.3 695.3 L1473.5 698.2 L1478.1 698.7 L1482.0 698.7" fill="none" stroke="#4a8c78" stroke-width="1.2" stroke-linejoin="round"/>
<path d="M1108.0 687.0 L1111.9 685.0 L1116.4 681.5 L1121.4 688.5 L1125.6 685.0 L1130.0 686.1 L1135.1 686.3 L1139.5 683.8 L1143.8 685.7 L1148.3 690.5 L1153.2 686.9 L1157.5 689.0 L1161.0 689.1 L1166.6 687.7 L1170.5 692.7 L1175.0 689.9 L1179.8 691.9 L1183.3 692.2 L1188.5 688.9 L1192.2 693.3 L1196.9 694.2 L1202.0 692.8 L1205.9 687.3 L1210.4 688.4 L1215.6 689.4 L1219.4 681.2 L1224.4 679.9 L1228.6 682.9 L1233.0 679.3 L1237.0 677.3 L1241.6 676.8 L1246.5 676.9 L1251.1 669.8 L1255.5 675.3 L1260.2 676.7 L1264.5 672.4 L1268.8 675.9 L1273.6 679.4 L1277.5 676.3 L1282.1 678.3 L1286.5 676.2 L1290.7 678.7 L1294.9 676.7 L1300.6 677.3 L1304.7 677.9 L1309.1 676.4 L1313.3 679.8 L1317.8 680.1 L1322.0 678.4 L1326.3 681.5 L1331.1 679.8 L1335.1 679.9 L1339.6 680.6 L1344.7 678.4 L1349.6 681.9 L1353.1 676.8 L1357.7 685.2 L1361.9 675.9 L1366.7 680.5 L1371.4 677.0 L1375.8 673.3 L1379.9 673.7 L1384.5 673.6 L1389.2 673.7 L1393.9 678.7 L1397.5 676.5 L1402.7 677.7 L1407.3 681.9 L1411.4 683.6 L1415.9 681.1 L1420.8 684.3 L1425.5 685.3 L1429.4 687.1 L1433.3 689.6 L1438.2 691.2 L1443.0 693.8 L1447.5 692.9 L1451.9 693.6 L1456.9 694.1 L1461.2 694.2 L1464.5 697.9 L1470.0 695.6 L1473.5 692.2 L1478.2 696.7 L1482.0 693.3" fill="none" stroke="#47867c" stroke-width="1.2" stroke-linejoin="round"/>
<path d="M1108.0 686.6 L1111.8 686.0 L1116.5 691.5 L1121.6 692.5 L1126.1 683.4 L1130.1 690.1 L1135.2 689.2 L1139.9 689.7 L1144.0 688.4 L1147.8 687.2 L1152.2 689.0 L1156.7 687.2 L1161.0 690.4 L1165.5 689.1 L1170.1 689.8 L1175.1 693.4 L1179.7 695.7 L1183.4 692.4 L1187.9 691.1 L1193.3 690.6 L1197.5 693.2 L1202.0 694.1 L1205.9 689.8 L1210.9 684.5 L1215.3 681.7 L1219.4 675.3 L1223.4 676.2 L1229.1 669.2 L1233.3 671.5 L1238.0 669.7 L1242.5 669.3 L1246.6 671.5 L1250.5 672.7 L1255.6 668.3 L1259.5 671.4 L1263.8 670.4 L1268.2 672.1 L1273.7 674.9 L1277.1 668.8 L1282.2 674.0 L1286.6 672.3 L1291.6 673.6 L1295.8 673.6 L1299.6 678.2 L1304.1 675.6 L1309.0 673.9 L1313.4 672.7 L1317.8 675.0 L1322.9 677.8 L1326.4 674.0 L1330.8 676.2 L1336.3 678.5 L1339.9 674.3 L1344.8 679.3 L1348.8 673.8 L1354.1 675.9 L1357.8 675.7 L1362.8 674.3 L1366.8 666.6 L1371.1 669.6 L1375.2 665.7 L1381.0 670.2 L1384.3 669.6 L1389.6 670.4 L1393.5 671.9 L1398.1 672.4 L1402.4 673.5 L1407.2 680.2 L1411.3 677.9 L1415.4 679.7 L1420.3 680.3 L1424.9 683.2 L1429.0 684.3 L1433.7 688.2 L1438.8 690.8 L1443.3 688.1 L1446.9 688.8 L1451.3 690.4 L1456.3 695.8 L1461.0 692.2 L1465.4 696.5 L1469.6 696.4 L1474.4 691.8 L1478.3 694.5 L1482.0 691.5" fill="none" stroke="#458080" stroke-width="1.2" stroke-linejoin="round"/>
<path d="M1108.0 685.5 L1112.3 688.2 L1116.4 691.2 L1121.2 689.3 L1125.7 692.3 L1130.4 690.4 L1134.4 690.9 L1139.2 689.4 L1143.7 689.1 L1147.8 689.1 L1152.3 689.4 L1157.1 691.3 L1162.1 690.7 L1165.3 687.9 L1170.1 694.0 L1175.6 693.8 L1179.9 688.5 L1184.4 693.2 L1188.7 697.6 L1192.2 694.4 L1197.7 692.5 L1201.9 690.1 L1206.6 686.5 L1210.6 682.2 L1215.0 678.4 L1219.6 671.6 L1223.4 667.0 L1228.1 664.7 L1232.4 663.5 L1237.6 657.4 L1242.1 659.6 L1246.6 661.3 L1250.8 664.6 L1255.4 661.5 L1260.4 663.4 L1264.3 663.9 L1269.0 660.8 L1273.0 665.1 L1277.3 665.5 L1281.9 666.7 L1286.9 666.1 L1290.7 668.6 L1294.9 671.5 L1299.6 669.3 L1304.1 675.3 L1309.4 669.9 L1312.7 673.2 L1317.5 671.4 L1322.7 670.0 L1326.2 672.0 L1330.9 675.3 L1335.0 671.7 L1339.9 673.9 L1344.6 672.3 L1349.0 670.3 L1353.3 670.9 L1357.6 665.7 L1361.9 668.4 L1367.3 666.9 L1371.9 658.0 L1375.3 665.3 L1379.8 660.9 L1385.4 662.6 L1389.4 667.4 L1393.8 668.1 L1397.8 671.2 L1402.8 674.6 L1407.4 672.7 L1411.7 674.4 L1416.0 677.7 L1420.6 678.3 L1424.6 682.2 L1429.6 683.2 L1434.1 686.9 L1438.3 690.2 L1443.4 688.7 L1446.7 691.9 L1451.7 691.3 L1456.2 691.2 L1460.6 693.7 L1464.5 693.6 L1469.7 690.7 L1473.9 692.7 L1479.0 688.7 L1482.0 690.6" fill="none" stroke="#437a82" stroke-width="1.2" stroke-linejoin="round"/>
<path d="M1108.0 707.8 L1112.4 710.8 L1116.4 708.1 L1121.4 709.9 L1126.0 707.4 L1130.4 704.1 L1134.7 703.5 L1139.2 703.8 L1144.0 706.4 L1148.3 702.2 L1153.1 700.7 L1157.0 703.0 L1161.1 702.6 L1165.9 697.0 L1170.6 701.2 L1174.9 700.1 L1179.0 697.0 L1184.5 699.9 L1188.2 695.3 L1192.7 695.2 L1196.7 698.9 L1201.4 699.5 L1206.1 695.0 L1210.7 699.6 L1215.5 693.4 L1219.8 699.9 L1224.6 699.2 L1228.3 696.9 L1232.6 699.7 L1237.9 699.2 L1241.5 695.2 L1245.9 692.9 L1250.7 698.6 L1255.6 697.5 L1259.9 693.8 L1264.1 696.8 L1268.6 695.6 L1273.3 696.8 L1277.7 691.6 L1282.3 690.9 L1287.0 689.3 L1290.4 689.3 L1295.3 690.0 L1300.1 688.9 L1304.9 688.4 L1309.0 687.2 L1313.5 687.7 L1317.6 688.5 L1322.5 685.9 L1326.7 685.4 L1330.5 685.5 L1335.6 684.6 L1340.8 680.1 L1344.8 682.5 L1348.8 682.4 L1353.2 682.5 L1357.4 680.0 L1363.0 682.5 L1366.8 679.0 L1371.8 684.0 L1375.7 679.2 L1379.6 687.1 L1384.6 685.4 L1388.6 688.7 L1393.9 686.3 L1398.6 686.4 L1402.0 688.6 L1406.9 686.0 L1411.0 685.8 L1416.4 688.0 L1420.7 684.6 L1425.4 691.5 L1429.5 688.7 L1434.5 689.9 L1438.0 691.3 L1443.4 689.5 L1447.9 692.3 L1451.5 694.5 L1455.8 694.7 L1460.4 695.2 L1464.9 695.8 L1469.6 693.4 L1473.9 695.5 L1479.0 697.6 L1482.0 694.0" fill="none" stroke="#4b3c70" stroke-width="1.25" stroke-linejoin="round"/>
<path d="M1108.0 705.3 L1112.5 705.9 L1117.5 700.2 L1122.0 705.2 L1126.1 699.8 L1130.2 702.6 L1135.3 701.3 L1139.9 702.9 L1143.1 702.7 L1148.3 696.8 L1153.2 700.1 L1156.7 697.5 L1162.2 700.7 L1166.4 697.6 L1170.8 698.1 L1175.5 700.5 L1180.0 700.6 L1183.7 699.6 L1188.7 697.0 L1192.4 699.9 L1197.1 700.3 L1202.0 702.3 L1206.2 701.4 L1210.4 695.7 L1215.7 696.0 L1219.5 694.0 L1223.6 695.2 L1228.9 690.7 L1233.0 686.3 L1237.9 682.4 L1242.6 675.4 L1246.4 676.0 L1250.6 673.5 L1255.4 666.9 L1259.7 662.6 L1264.7 662.0 L1268.2 661.8 L1273.4 663.0 L1277.7 661.5 L1281.6 662.9 L1286.8 665.2 L1291.3 667.5 L1295.6 673.0 L1300.4 669.8 L1304.6 673.5 L1309.3 675.4 L1313.5 674.9 L1317.1 677.0 L1322.9 676.3 L1326.5 672.5 L1331.3 671.3 L1335.9 671.5 L1340.7 670.7 L1344.1 665.1 L1348.9 663.5 L1353.9 658.1 L1358.0 661.3 L1362.2 655.9 L1367.4 655.7 L1371.7 652.0 L1375.5 656.5 L1379.8 653.9 L1384.3 657.2 L1388.6 660.9 L1393.8 663.4 L1397.7 666.2 L1402.2 673.5 L1407.2 674.4 L1411.9 677.6 L1415.7 682.2 L1420.5 681.5 L1424.3 684.6 L1429.0 682.3 L1434.1 684.8 L1438.2 682.7 L1442.8 688.4 L1447.5 686.1 L1451.5 689.2 L1456.4 690.1 L1460.2 690.0 L1464.9 692.8 L1470.2 693.9 L1474.0 693.2 L1478.9 694.3 L1482.0 696.7" fill="none" stroke="#4a3b6f" stroke-width="1.25" stroke-linejoin="round"/>
<path d="M1108.0 697.8 L1112.3 693.3 L1117.6 697.0 L1120.9 696.4 L1126.2 696.9 L1129.9 698.2 L1135.2 696.5 L1139.0 697.7 L1143.9 697.8 L1148.7 695.1 L1153.0 698.3 L1156.8 695.6 L1161.9 697.0 L1166.4 693.9 L1170.9 697.9 L1175.1 693.0 L1179.7 698.1 L1184.5 698.1 L1188.6 698.3 L1192.7 696.8 L1197.3 692.4 L1201.5 694.6 L1205.9 693.4 L1211.2 691.4 L1214.7 688.0 L1220.0 684.5 L1224.7 685.1 L1227.9 683.0 L1233.1 681.9 L1236.9 674.6 L1241.8 675.1 L1247.0 672.5 L1250.9 668.6 L1255.5 663.7 L1260.0 663.6 L1264.3 665.4 L1269.3 664.4 L1273.3 668.0 L1277.7 665.3 L1282.0 669.1 L1286.7 667.4 L1290.7 669.1 L1294.9 670.4 L1300.5 675.5 L1305.0 670.6 L1309.5 670.6 L1313.6 680.9 L1317.7 673.7 L1322.1 674.9 L1327.0 671.9 L1331.0 671.7 L1336.2 670.9 L1340.3 672.8 L1344.4 665.0 L1349.0 662.9 L1354.0 665.3 L1358.4 658.7 L1361.9 656.5 L1366.4 660.2 L1372.0 658.3 L1375.6 658.2 L1379.7 652.2 L1384.8 659.3 L1389.6 660.2 L1393.5 660.5 L1397.6 662.3 L1402.2 662.8 L1407.1 669.8 L1412.1 670.3 L1416.5 672.8 L1420.6 671.4 L1424.5 676.4 L1429.3 677.4 L1433.7 681.4 L1437.8 682.9 L1443.1 681.7 L1447.9 688.2 L1452.3 687.6 L1456.7 685.3 L1460.5 691.4 L1465.3 689.8 L1469.3 691.8 L1474.1 693.5 L1478.7 692.8 L1482.0 696.7" fill="none" stroke="#437080" stroke-width="1.25" stroke-linejoin="round"/>
<path d="M1108.0 687.8 L1112.0 686.0 L1117.1 688.1 L1121.9 691.0 L1126.2 691.1 L1130.2 690.1 L1134.4 691.0 L1139.5 691.9 L1143.4 693.5 L1147.7 693.1 L1152.7 693.8 L1157.2 693.4 L1162.2 694.5 L1166.7 696.3 L1169.9 695.4 L1175.3 695.5 L1179.3 694.2 L1183.7 695.5 L1189.0 694.7 L1192.9 695.6 L1197.9 695.1 L1202.2 694.5 L1205.5 691.8 L1211.2 689.6 L1215.2 684.4 L1219.7 681.0 L1223.9 674.2 L1229.1 669.2 L1233.4 662.8 L1237.1 660.5 L1241.6 654.4 L1246.6 649.7 L1250.4 645.3 L1255.2 635.1 L1259.9 621.8 L1263.6 613.2 L1268.2 612.8 L1273.7 617.2 L1277.0 623.2 L1281.7 629.1 L1287.2 634.1 L1291.4 635.5 L1295.5 646.9 L1300.3 649.2 L1304.0 654.9 L1308.7 662.0 L1313.7 667.9 L1318.1 666.3 L1322.3 665.4 L1326.3 663.9 L1330.7 659.5 L1335.6 652.2 L1339.6 647.2 L1344.1 646.3 L1348.9 642.6 L1353.0 637.0 L1357.5 636.6 L1362.0 635.6 L1366.3 636.4 L1371.9 632.7 L1375.5 628.4 L1380.1 634.7 L1384.9 633.6 L1389.6 639.1 L1393.9 644.3 L1397.6 650.9 L1402.2 654.8 L1407.5 661.0 L1411.5 664.5 L1416.1 668.2 L1420.5 674.4 L1425.2 676.3 L1429.3 680.1 L1434.3 684.1 L1437.9 686.2 L1442.9 685.0 L1446.9 687.9 L1451.2 689.9 L1455.8 689.9 L1461.0 689.4 L1464.9 690.1 L1470.0 687.8 L1473.7 690.4 L1477.9 690.2 L1482.0 690.0" fill="none" stroke="#3f6a7a" stroke-width="1.25" stroke-linejoin="round"/>
<path d="M1108.0 689.8 L1113.1 690.8 L1117.3 690.6 L1120.8 693.1 L1125.6 693.1 L1130.1 694.6 L1135.2 693.1 L1139.3 693.4 L1143.6 695.7 L1147.7 692.5 L1153.1 696.2 L1157.3 697.9 L1162.1 696.2 L1166.2 696.5 L1170.8 697.3 L1175.3 694.6 L1179.2 699.9 L1183.2 697.8 L1188.0 696.8 L1193.1 697.3 L1197.3 693.2 L1201.3 697.1 L1206.8 687.2 L1211.0 682.9 L1214.6 669.5 L1219.3 660.2 L1223.5 649.4 L1228.0 635.7 L1233.4 626.4 L1237.2 618.2 L1242.4 612.3 L1245.7 608.1 L1251.4 604.9 L1255.5 599.8 L1259.3 605.2 L1264.4 612.1 L1268.2 620.2 L1272.5 623.1 L1277.8 628.3 L1282.7 637.0 L1286.4 640.4 L1291.6 647.2 L1295.4 654.8 L1300.0 657.2 L1304.4 658.2 L1308.7 660.1 L1313.6 658.3 L1318.3 658.4 L1322.8 653.1 L1326.4 649.6 L1330.9 650.1 L1335.9 643.5 L1339.7 637.4 L1345.0 635.1 L1349.7 632.3 L1353.3 621.2 L1358.6 612.5 L1363.0 601.9 L1367.3 595.2 L1370.8 587.1 L1375.5 582.0 L1379.9 585.7 L1384.4 597.8 L1388.9 601.0 L1394.2 608.2 L1398.2 617.0 L1402.0 628.0 L1406.8 633.8 L1412.2 640.7 L1416.6 649.5 L1420.9 654.8 L1424.6 662.8 L1429.3 668.3 L1433.3 674.0 L1437.8 678.7 L1442.7 679.9 L1447.5 681.4 L1452.0 684.0 L1456.3 682.3 L1460.1 685.0 L1464.9 684.8 L1469.4 686.7 L1474.2 683.9 L1479.1 686.5 L1482.0 687.7" fill="none" stroke="#413f70" stroke-width="1.25" stroke-linejoin="round"/>
<path d="M1108.0 685.0 L1111.9 685.5 L1116.5 687.5 L1121.9 685.2 L1126.4 686.5 L1129.8 688.4 L1135.3 685.0 L1138.7 685.5 L1143.3 686.0 L1147.5 687.6 L1152.3 687.2 L1156.9 688.4 L1161.5 687.2 L1165.4 693.1 L1170.7 692.5 L1175.1 696.1 L1179.3 694.1 L1183.6 696.2 L1188.2 696.7 L1192.7 693.2 L1197.0 692.7 L1201.4 691.3 L1205.6 680.0 L1210.3 668.4 L1215.1 653.4 L1219.2 637.3 L1223.4 620.3 L1229.1 600.7 L1233.1 583.1 L1237.9 567.5 L1242.5 554.6 L1246.9 545.0 L1250.9 535.3 L1255.7 529.6 L1259.9 530.5 L1264.0 533.4 L1268.7 542.0 L1272.8 557.1 L1277.3 570.2 L1282.6 584.4 L1286.6 596.5 L1291.2 606.4 L1295.5 612.4 L1300.4 623.3 L1304.5 634.7 L1308.9 640.9 L1313.4 645.3 L1318.1 651.9 L1322.8 656.1 L1326.2 653.0 L1331.1 646.7 L1335.1 639.1 L1340.4 634.2 L1344.0 628.0 L1348.5 615.1 L1353.2 601.1 L1357.9 577.5 L1362.0 549.5 L1366.6 528.3 L1371.7 519.7 L1375.3 530.1 L1380.6 537.5 L1384.4 549.7 L1388.8 562.4 L1393.2 577.5 L1398.1 589.5 L1402.9 603.4 L1407.2 617.8 L1411.5 627.8 L1416.3 638.1 L1420.9 647.4 L1425.5 656.7 L1429.6 665.5 L1433.7 673.2 L1438.6 676.2 L1443.3 681.2 L1447.3 684.6 L1452.1 686.0 L1455.6 685.6 L1461.1 686.0 L1464.6 686.8 L1469.4 685.6 L1474.5 686.8 L1478.0 688.4 L1482.0 689.0" fill="none" stroke="#3f6070" stroke-width="1.25" stroke-linejoin="round"/>
<path d="M1108.0 690.2 L1112.8 690.1 L1116.4 686.9 L1121.1 691.4 L1125.7 689.0 L1130.1 689.9 L1135.1 690.5 L1139.0 687.8 L1143.7 690.3 L1148.0 690.8 L1152.5 691.9 L1156.4 688.1 L1161.2 689.1 L1166.0 694.4 L1170.5 692.6 L1175.0 694.2 L1179.3 695.6 L1184.4 696.7 L1188.1 694.1 L1193.1 694.8 L1197.4 689.6 L1201.9 687.6 L1205.9 676.9 L1210.3 663.7 L1215.2 648.9 L1219.2 631.6 L1224.4 615.8 L1228.1 600.2 L1233.5 582.4 L1237.5 565.3 L1241.6 548.4 L1246.1 532.3 L1250.4 520.3 L1256.0 515.3 L1259.1 514.9 L1263.9 516.0 L1268.1 524.5 L1273.2 539.8 L1278.2 560.4 L1281.8 574.9 L1286.9 588.7 L1291.0 599.1 L1295.0 610.1 L1299.3 615.5 L1304.0 626.1 L1308.5 633.1 L1313.2 636.1 L1318.2 634.6 L1322.1 620.0 L1327.1 606.9 L1331.1 592.4 L1335.7 578.9 L1339.8 564.3 L1345.1 548.3 L1349.5 535.3 L1353.9 523.8 L1357.7 513.0 L1362.4 515.6 L1366.4 527.6 L1370.9 538.5 L1375.4 555.6 L1380.0 570.1 L1384.8 588.7 L1389.4 597.1 L1393.5 615.2 L1397.7 623.1 L1402.8 635.6 L1407.0 647.1 L1412.1 656.8 L1416.6 663.4 L1420.8 668.2 L1424.8 671.5 L1429.5 676.1 L1434.5 679.3 L1438.3 679.3 L1443.4 682.4 L1447.2 682.5 L1452.1 683.4 L1455.6 688.5 L1460.9 684.8 L1465.8 688.5 L1470.2 688.1 L1473.8 687.0 L1478.4 689.3 L1482.0 687.3" fill="none" stroke="#3e3f6e" stroke-width="1.25" stroke-linejoin="round"/>
<path d="M1108.0 688.4 L1112.4 685.2 L1116.4 687.0 L1121.8 685.4 L1125.4 687.6 L1129.9 687.4 L1134.3 688.5 L1138.8 688.6 L1144.2 688.8 L1148.4 689.3 L1152.7 687.4 L1156.9 688.4 L1161.5 690.2 L1166.3 691.0 L1170.9 695.1 L1175.3 694.9 L1179.9 694.0 L1184.2 694.5 L1188.8 693.7 L1192.6 693.4 L1197.1 692.1 L1202.0 686.4 L1206.3 676.2 L1210.7 662.8 L1214.4 643.3 L1219.7 626.8 L1224.1 609.9 L1228.7 590.0 L1233.2 570.4 L1236.8 551.2 L1242.2 532.3 L1245.8 513.5 L1250.2 494.7 L1254.7 482.0 L1260.2 473.1 L1264.1 474.9 L1268.4 472.8 L1273.3 479.2 L1278.0 493.6 L1282.7 513.2 L1285.9 535.4 L1290.4 555.0 L1295.6 571.5 L1300.2 584.3 L1303.9 601.9 L1308.6 618.4 L1312.8 627.4 L1318.3 639.1 L1322.6 645.1 L1326.5 643.3 L1330.9 635.3 L1335.8 627.6 L1339.9 620.0 L1344.7 613.0 L1348.7 602.5 L1353.8 596.8 L1357.8 594.0 L1362.9 587.6 L1367.1 586.5 L1371.6 583.7 L1376.4 587.6 L1380.1 592.9 L1384.6 600.4 L1388.8 605.1 L1393.2 606.2 L1398.0 618.0 L1402.2 622.4 L1407.3 634.5 L1412.0 647.7 L1416.3 656.9 L1419.9 666.3 L1425.5 669.7 L1429.8 674.5 L1434.3 676.8 L1438.1 680.3 L1442.8 682.4 L1447.3 681.4 L1451.9 685.4 L1456.4 686.2 L1460.3 686.4 L1465.3 691.1 L1469.3 687.7 L1473.9 686.7 L1478.7 689.5 L1482.0 687.0" fill="none" stroke="#3f5874" stroke-width="1.25" stroke-linejoin="round"/>
<path d="M1108.0 701.4 L1112.4 700.5 L1117.1 701.8 L1121.8 698.4 L1125.6 700.2 L1130.9 698.0 L1135.0 700.4 L1138.9 695.6 L1143.3 697.0 L1147.7 698.6 L1152.2 693.3 L1157.5 695.6 L1161.7 696.6 L1165.4 697.2 L1171.0 699.1 L1175.2 698.6 L1179.8 698.8 L1184.0 703.2 L1188.2 702.5 L1192.3 704.9 L1196.7 703.6 L1201.7 704.9 L1206.2 707.7 L1210.3 709.4 L1214.8 707.0 L1220.0 710.5 L1223.6 712.0 L1229.0 710.9 L1233.6 714.6 L1237.1 717.4 L1241.4 712.0 L1246.0 714.3 L1251.2 717.6 L1255.7 713.2 L1259.1 713.0 L1264.8 713.5 L1268.6 712.2 L1273.3 710.4 L1277.0 710.8 L1282.5 710.6 L1286.7 708.3 L1290.4 712.6 L1295.5 707.2 L1300.6 709.3 L1304.3 704.7 L1309.3 708.6 L1313.8 705.2 L1317.2 701.7 L1321.7 701.1 L1326.5 699.0 L1331.5 698.5 L1336.2 697.9 L1340.4 695.5 L1344.1 691.5 L1349.5 690.6 L1353.0 690.4 L1358.1 692.3 L1362.6 688.9 L1367.1 688.1 L1371.3 692.3 L1375.5 688.5 L1380.6 689.0 L1384.5 687.7 L1389.5 687.2 L1393.7 686.4 L1397.9 689.6 L1403.1 691.9 L1407.0 690.3 L1411.4 689.6 L1416.2 689.0 L1420.7 693.6 L1424.4 692.5 L1429.9 691.5 L1433.5 687.5 L1438.1 694.5 L1443.1 694.2 L1446.9 695.2 L1451.5 697.4 L1456.4 695.3 L1460.5 697.9 L1465.1 697.4 L1469.0 698.6 L1473.5 702.9 L1479.1 704.4 L1482.0 705.5" fill="none" stroke="#a247d2" stroke-width="1.25" stroke-linejoin="round"/>
</g>
<rect x="1106.6" y="452.8" width="376" height="302.5" fill="none" stroke="#151515" stroke-width="1.4"/>
<path d="M1106.6 755.3v6M1195.0 755.3v6M1283.3 755.3v6M1371.7 755.3v6M1460.0 755.3v6M1106.6 731.0h-6M1106.6 633.7h-6M1106.6 536.5h-6" stroke="#151515" stroke-width="1.4" fill="none"/>
<text x="1106.6" y="785" font-size="24" text-anchor="middle" fill="#000">0</text>
<text x="1195" y="785" font-size="24" text-anchor="middle" fill="#000">2</text>
<text x="1283.3" y="785" font-size="24" text-anchor="middle" fill="#000">4</text>
<text x="1371.7" y="785" font-size="24" text-anchor="middle" fill="#000">6</text>
<text x="1460" y="785" font-size="24" text-anchor="middle" fill="#000">8</text>
<text x="1097.2" y="739.6" font-size="24" text-anchor="end" fill="#000">-400</text>
<text x="1097.2" y="642.3" font-size="24" text-anchor="end" fill="#000">0</text>
<text x="1097.2" y="545.1" font-size="24" text-anchor="end" fill="#000">400</text>
<text x="1296" y="813.5" font-size="24" text-anchor="middle" fill="#000">Distance (mm)</text>
<text x="1037" y="605.8" font-size="24" text-anchor="middle" transform="rotate(-90 1037 605.8)" fill="#000">Magnetic field (arb. units)</text>
<text x="1004" y="880" font-size="40" text-anchor="start" font-weight="bold" fill="#000">j</text>
<clipPath id="clip_j"><rect x="1109.6" y="886.9" width="371.7" height="298.2"/></clipPath>
<g clip-path="url(#clip_j)">
<path d="M1112.4 939.1 L1117.3 940.4 L1121.3 935.9 L1126.4 937.0 L1130.9 938.9 L1134.5 935.1 L1139.8 937.1 L1144.1 939.0 L1147.8 934.5 L1153.0 933.2 L1156.7 934.3 L1162.1 931.6 L1165.8 930.3 L1171.0 929.4 L1175.3 924.3 L1179.9 923.9 L1183.3 927.5 L1187.8 924.5 L1193.5 926.1 L1197.4 923.0 L1202.3 926.1 L1206.7 924.6 L1210.4 926.4 L1215.4 924.3 L1219.9 925.3 L1224.6 925.2 L1228.6 927.6 L1233.2 926.8 L1237.0 927.6 L1242.1 928.7 L1246.8 931.2 L1250.5 931.4 L1255.6 929.5 L1259.3 936.5 L1264.5 933.4 L1269.0 936.9 L1273.4 936.9 L1277.7 935.5 L1282.1 936.1 L1287.0 939.1 L1291.0 939.0 L1295.8 937.1 L1300.3 938.0 L1303.8 938.6 L1308.3 938.3 L1313.1 937.0 L1318.1 936.5 L1322.6 937.4 L1327.0 935.9 L1331.3 936.3 L1335.8 930.1 L1339.5 923.9 L1345.2 922.6 L1349.1 918.7 L1353.5 913.1 L1358.1 910.1 L1362.2 907.9 L1367.1 907.7 L1371.9 904.0 L1375.7 906.1 L1380.4 904.8 L1385.3 904.9 L1389.6 904.5 L1394.1 904.4 L1397.6 903.1 L1402.9 903.1 L1407.5 906.8 L1411.1 909.2 L1416.0 910.8 L1421.1 914.5 L1425.5 917.4 L1429.8 923.5 L1433.6 922.5 L1437.8 927.5 L1443.2 930.8 L1447.0 929.8 L1451.9 931.3 L1456.8 930.8 L1460.1 935.1 L1465.0 930.3 L1470.1 931.6 L1474.2 932.4 L1478.0 930.9 L1480.7 927.0" fill="none" stroke="#4f9470" stroke-width="1.2" stroke-linejoin="round"/>
<path d="M1112.4 938.9 L1117.3 940.4 L1121.2 940.7 L1126.4 936.3 L1130.5 939.8 L1134.3 940.8 L1138.7 939.6 L1144.0 935.5 L1147.5 934.6 L1152.8 932.8 L1156.8 937.6 L1161.8 931.9 L1165.7 932.5 L1170.5 931.8 L1174.8 929.8 L1179.1 929.4 L1184.0 929.8 L1188.7 923.7 L1192.5 924.3 L1197.0 924.5 L1201.7 925.9 L1206.7 928.9 L1210.5 927.9 L1215.4 926.4 L1219.5 928.4 L1223.4 928.4 L1228.1 927.8 L1233.1 925.7 L1236.8 932.3 L1242.0 931.3 L1246.9 930.7 L1250.7 932.3 L1254.9 931.7 L1259.2 933.0 L1264.7 935.6 L1269.2 936.7 L1273.4 936.3 L1277.0 936.1 L1282.4 939.1 L1287.0 938.8 L1291.0 938.7 L1295.8 940.2 L1299.4 938.9 L1303.9 938.7 L1308.3 944.1 L1313.8 937.4 L1317.5 942.1 L1322.8 936.5 L1326.2 935.8 L1330.6 934.3 L1336.0 933.7 L1339.9 928.3 L1344.3 922.6 L1349.7 920.8 L1353.0 921.8 L1358.1 915.7 L1362.0 912.7 L1366.7 914.9 L1371.1 910.4 L1375.4 908.0 L1379.6 912.2 L1384.5 908.8 L1388.7 908.6 L1394.1 915.3 L1397.7 912.3 L1403.2 914.6 L1406.8 915.5 L1411.5 914.5 L1415.6 917.6 L1420.0 918.2 L1424.9 921.1 L1429.8 921.5 L1434.5 925.6 L1439.0 925.4 L1442.4 929.9 L1447.6 930.2 L1451.5 929.0 L1456.6 936.0 L1461.2 932.4 L1465.4 928.9 L1469.6 929.8 L1474.3 931.6 L1478.8 933.9 L1480.7 931.2" fill="none" stroke="#5a9c62" stroke-width="1.2" stroke-linejoin="round"/>
<path d="M1112.4 942.3 L1117.1 940.9 L1121.2 939.2 L1125.7 941.7 L1129.9 938.4 L1135.1 935.9 L1139.5 936.7 L1144.0 936.0 L1148.6 935.8 L1153.0 933.8 L1156.8 933.8 L1161.2 933.9 L1165.5 929.9 L1170.8 934.2 L1175.2 929.1 L1179.2 928.9 L1184.1 929.2 L1188.7 931.1 L1193.2 926.5 L1197.7 929.7 L1201.3 929.1 L1205.6 931.2 L1210.5 931.7 L1214.9 932.4 L1220.2 932.6 L1223.6 928.6 L1228.4 932.6 L1233.4 933.0 L1237.9 934.8 L1242.0 932.1 L1245.9 935.3 L1250.4 936.2 L1255.4 935.3 L1259.7 935.6 L1264.5 937.5 L1268.5 936.4 L1273.7 939.0 L1277.5 939.4 L1281.6 940.9 L1286.2 942.3 L1290.9 939.9 L1295.3 940.2 L1300.4 937.1 L1304.1 940.0 L1308.9 941.3 L1313.8 941.6 L1317.2 934.6 L1321.8 936.4 L1326.8 936.6 L1331.1 934.9 L1335.8 933.9 L1340.3 928.9 L1344.4 931.0 L1349.2 926.5 L1353.2 924.6 L1358.6 923.1 L1362.8 919.3 L1367.5 919.1 L1370.9 917.9 L1375.5 919.8 L1381.0 918.8 L1385.0 918.3 L1389.0 921.0 L1393.2 923.7 L1398.8 919.9 L1402.6 923.7 L1407.0 924.0 L1411.3 918.0 L1415.5 922.0 L1420.6 920.3 L1425.2 923.8 L1429.2 926.0 L1433.8 925.2 L1438.3 924.4 L1442.3 929.6 L1447.0 929.8 L1451.5 929.5 L1456.4 932.8 L1460.6 935.2 L1464.8 931.5 L1469.4 929.8 L1474.0 934.8 L1478.3 932.4 L1480.7 932.2" fill="none" stroke="#6aa458" stroke-width="1.2" stroke-linejoin="round"/>
<path d="M1112.4 943.2 L1117.3 944.4 L1121.7 946.5 L1125.8 938.4 L1130.8 944.4 L1135.1 939.7 L1139.5 940.5 L1144.3 937.2 L1148.7 935.4 L1152.1 933.7 L1157.7 937.4 L1161.7 937.4 L1166.0 934.7 L1170.9 930.2 L1175.3 932.2 L1178.7 926.7 L1184.2 929.4 L1188.1 927.8 L1193.3 929.6 L1197.5 932.2 L1201.7 932.1 L1206.7 931.5 L1210.7 928.6 L1215.2 934.9 L1219.9 932.7 L1224.1 932.1 L1228.1 934.5 L1232.4 934.2 L1237.8 934.3 L1242.2 932.7 L1246.2 934.3 L1250.8 937.5 L1255.1 940.8 L1259.5 938.2 L1263.7 938.8 L1268.7 941.9 L1273.0 941.4 L1277.9 941.2 L1282.2 939.2 L1286.0 942.5 L1291.5 942.0 L1295.2 941.4 L1300.2 941.4 L1304.1 939.3 L1308.7 938.5 L1313.6 938.2 L1317.4 940.0 L1322.8 936.8 L1327.2 938.4 L1331.4 936.6 L1335.5 937.6 L1340.6 931.5 L1344.9 931.4 L1349.6 932.0 L1353.6 928.1 L1357.8 929.4 L1362.2 924.4 L1367.5 927.4 L1371.6 922.7 L1375.7 928.5 L1379.7 928.7 L1384.9 930.2 L1389.1 928.3 L1394.3 931.2 L1398.6 930.6 L1402.2 929.7 L1407.0 933.7 L1411.0 929.8 L1415.4 931.1 L1419.8 925.3 L1424.5 928.0 L1429.3 923.9 L1434.1 923.3 L1438.0 924.8 L1442.1 929.2 L1447.4 932.8 L1452.1 932.8 L1456.3 932.6 L1461.0 934.9 L1465.2 932.1 L1469.8 936.1 L1474.2 936.6 L1478.1 932.6 L1480.7 935.2" fill="none" stroke="#7eaa4c" stroke-width="1.2" stroke-linejoin="round"/>
<path d="M1112.4 946.0 L1116.2 944.9 L1121.1 945.4 L1125.7 944.0 L1130.5 944.8 L1134.7 943.2 L1139.3 939.1 L1144.0 939.1 L1148.2 938.8 L1152.1 938.5 L1156.5 935.7 L1161.3 936.8 L1165.6 936.1 L1169.9 932.4 L1175.3 938.0 L1179.5 936.0 L1183.3 929.4 L1188.7 931.6 L1193.1 933.4 L1197.0 931.8 L1201.3 932.8 L1206.8 932.9 L1210.3 934.9 L1215.1 936.5 L1219.4 936.1 L1224.0 937.0 L1228.0 942.0 L1233.0 937.8 L1238.0 941.0 L1242.5 937.9 L1246.5 938.2 L1250.5 937.8 L1255.6 942.1 L1259.3 940.1 L1264.9 943.2 L1268.6 942.7 L1273.8 941.8 L1277.3 943.8 L1281.8 939.7 L1286.5 943.3 L1290.5 942.4 L1295.0 944.4 L1300.3 938.4 L1305.0 942.0 L1308.9 939.1 L1313.7 939.7 L1317.8 936.2 L1322.3 938.8 L1326.8 939.2 L1331.2 936.3 L1335.5 940.2 L1340.0 935.0 L1344.5 934.1 L1349.2 934.4 L1353.0 931.7 L1358.5 934.0 L1362.2 932.0 L1367.2 931.9 L1370.8 934.4 L1375.9 932.1 L1380.0 935.7 L1384.9 936.3 L1389.2 936.8 L1394.0 939.0 L1397.5 938.9 L1402.6 941.9 L1406.7 940.6 L1412.1 936.4 L1415.4 934.6 L1420.0 930.0 L1425.4 931.3 L1430.0 927.2 L1433.9 926.8 L1438.4 930.2 L1443.4 927.9 L1447.6 932.2 L1451.6 930.2 L1456.1 932.7 L1461.0 932.4 L1465.5 932.0 L1469.7 936.3 L1474.0 937.7 L1478.6 936.6 L1480.7 930.9" fill="none" stroke="#8fae46" stroke-width="1.2" stroke-linejoin="round"/>
<path d="M1112.4 950.1 L1117.2 946.5 L1121.5 946.2 L1126.1 940.9 L1130.4 944.4 L1134.4 943.1 L1138.6 941.6 L1143.7 941.7 L1147.7 938.0 L1153.0 938.2 L1157.1 937.5 L1161.6 935.7 L1165.9 931.6 L1170.7 936.4 L1175.2 934.8 L1179.5 933.0 L1184.4 933.7 L1188.6 933.7 L1192.2 934.2 L1197.3 940.4 L1202.3 935.6 L1206.9 936.9 L1210.8 937.6 L1215.5 936.1 L1219.1 940.8 L1223.4 939.1 L1228.6 943.7 L1232.7 942.8 L1237.8 941.7 L1242.5 942.1 L1245.8 942.4 L1251.4 941.9 L1255.4 941.0 L1259.5 941.7 L1263.6 941.3 L1269.0 945.4 L1272.8 944.5 L1277.3 944.1 L1282.1 944.2 L1286.6 937.1 L1290.4 944.7 L1296.0 939.9 L1300.1 943.0 L1304.9 940.7 L1308.2 944.0 L1313.0 941.7 L1318.4 941.3 L1321.8 938.1 L1326.6 937.3 L1331.1 938.2 L1335.6 935.2 L1340.7 932.2 L1345.1 926.3 L1348.5 926.6 L1353.5 923.2 L1358.5 919.8 L1362.7 920.7 L1367.4 913.7 L1371.9 919.5 L1376.5 918.4 L1379.9 918.3 L1384.9 916.8 L1389.0 923.8 L1394.0 921.8 L1398.7 923.3 L1402.4 926.7 L1407.2 924.2 L1411.6 926.3 L1415.7 929.0 L1420.0 926.9 L1425.6 926.5 L1429.3 928.5 L1433.5 930.1 L1438.8 931.5 L1443.3 929.6 L1447.6 931.9 L1452.2 929.5 L1455.7 930.7 L1461.1 936.5 L1465.2 939.0 L1469.6 937.2 L1474.2 933.1 L1478.9 934.5 L1480.7 938.2" fill="none" stroke="#4d8a78" stroke-width="1.2" stroke-linejoin="round"/>
<path d="M1112.4 944.6 L1116.3 945.3 L1121.6 939.1 L1125.8 945.9 L1129.7 941.3 L1135.3 941.5 L1138.7 941.5 L1143.2 937.5 L1148.4 937.6 L1153.2 938.2 L1156.4 939.4 L1162.1 936.6 L1166.2 939.1 L1170.4 938.4 L1174.7 940.9 L1179.9 939.6 L1183.5 934.9 L1188.1 937.3 L1192.9 937.6 L1197.9 937.9 L1202.1 937.0 L1206.6 938.3 L1210.9 939.0 L1214.7 943.5 L1219.0 941.9 L1223.4 941.9 L1228.5 942.0 L1233.6 941.3 L1238.0 947.1 L1241.5 943.8 L1246.0 941.5 L1251.0 943.9 L1255.0 944.6 L1259.7 940.5 L1263.6 941.6 L1268.4 944.5 L1273.0 944.4 L1278.1 944.1 L1281.9 942.1 L1286.0 942.4 L1290.4 942.6 L1296.1 943.9 L1300.2 942.6 L1304.0 939.5 L1308.3 942.8 L1312.7 940.9 L1317.4 942.1 L1321.7 945.8 L1326.8 940.8 L1331.4 944.1 L1335.7 945.2 L1340.5 947.2 L1344.3 945.0 L1348.6 943.1 L1353.6 944.5 L1357.7 943.7 L1363.0 945.2 L1366.6 942.6 L1371.3 946.4 L1376.1 942.0 L1380.6 944.8 L1385.0 942.3 L1389.7 939.7 L1394.0 942.3 L1397.8 938.8 L1403.2 941.2 L1407.4 944.0 L1411.6 942.5 L1415.8 941.7 L1420.1 942.3 L1424.8 940.3 L1429.2 941.5 L1434.0 945.3 L1438.5 942.3 L1442.7 943.0 L1446.6 942.0 L1451.3 937.9 L1456.2 940.1 L1461.0 942.3 L1464.7 938.6 L1469.1 941.5 L1474.4 939.7 L1478.3 937.9 L1480.7 937.5" fill="none" stroke="#b8b04a" stroke-width="1.2" stroke-linejoin="round"/>
<path d="M1112.4 943.6 L1117.0 944.6 L1121.2 943.2 L1125.4 946.1 L1130.5 946.1 L1135.1 942.0 L1138.8 941.6 L1144.2 938.1 L1148.4 938.3 L1152.9 938.3 L1157.5 939.1 L1161.7 938.9 L1165.4 936.8 L1169.9 938.0 L1175.2 937.5 L1179.1 936.4 L1183.6 939.7 L1188.5 938.9 L1192.8 937.5 L1197.1 942.1 L1202.2 941.3 L1205.7 938.1 L1210.3 940.7 L1215.2 943.0 L1219.5 942.7 L1224.4 940.9 L1228.4 943.0 L1232.4 944.0 L1237.1 944.8 L1242.0 944.3 L1245.9 943.1 L1250.9 944.6 L1255.9 947.9 L1259.9 948.5 L1264.0 946.0 L1268.7 948.0 L1273.1 946.3 L1277.5 946.0 L1282.5 945.3 L1286.9 944.0 L1290.4 939.7 L1295.5 946.3 L1299.6 945.8 L1304.4 942.2 L1309.3 946.1 L1313.2 944.8 L1318.1 941.8 L1322.4 947.1 L1326.8 946.1 L1331.1 948.7 L1335.5 946.5 L1340.2 945.3 L1344.9 944.3 L1349.3 946.2 L1354.1 947.0 L1357.9 947.8 L1362.9 947.3 L1366.4 947.3 L1371.3 946.3 L1375.3 946.3 L1379.8 944.7 L1384.7 946.4 L1389.2 943.2 L1394.0 941.8 L1398.5 943.1 L1402.8 943.5 L1407.5 941.0 L1411.6 944.9 L1416.2 942.0 L1420.1 944.6 L1424.7 943.1 L1428.8 941.0 L1433.5 939.5 L1438.2 938.7 L1443.3 944.5 L1447.8 942.4 L1451.5 941.5 L1456.5 941.8 L1460.7 941.4 L1465.6 945.8 L1469.1 936.4 L1474.1 940.2 L1479.0 940.1 L1480.7 942.1" fill="none" stroke="#a0ac44" stroke-width="1.2" stroke-linejoin="round"/>
<path d="M1112.4 943.8 L1116.3 947.0 L1121.0 944.9 L1125.4 943.7 L1130.6 942.6 L1134.6 943.0 L1139.4 944.3 L1143.4 941.1 L1148.7 941.8 L1152.4 939.3 L1157.7 939.8 L1161.8 939.4 L1166.5 936.0 L1169.9 941.3 L1174.5 939.3 L1179.2 940.4 L1184.1 941.9 L1188.5 939.9 L1192.7 939.2 L1196.8 938.3 L1201.7 939.6 L1205.5 939.3 L1210.3 940.4 L1215.4 942.8 L1219.5 944.7 L1223.7 943.1 L1228.3 946.5 L1233.0 946.8 L1237.8 948.4 L1242.1 948.5 L1246.4 946.5 L1250.7 948.9 L1255.4 951.2 L1259.5 951.6 L1263.8 951.2 L1269.0 948.1 L1272.6 949.1 L1277.6 951.5 L1282.2 948.9 L1286.5 949.4 L1291.4 945.8 L1294.8 947.4 L1299.6 946.7 L1304.1 946.2 L1308.4 944.7 L1313.2 947.2 L1318.4 942.9 L1322.6 947.6 L1327.1 947.4 L1331.7 948.1 L1335.1 947.0 L1340.2 947.4 L1344.3 951.8 L1348.8 949.2 L1352.9 951.0 L1358.5 947.8 L1362.8 946.2 L1367.4 949.0 L1370.8 948.7 L1375.5 947.4 L1379.8 946.3 L1384.9 944.6 L1388.9 948.0 L1394.3 946.9 L1398.6 944.7 L1402.2 945.3 L1406.7 945.1 L1411.2 944.6 L1415.6 942.0 L1420.6 942.5 L1424.6 943.3 L1429.4 940.5 L1433.9 943.1 L1438.2 941.5 L1442.5 940.8 L1447.8 938.3 L1452.3 941.6 L1456.0 940.7 L1460.4 942.8 L1465.3 941.5 L1469.0 939.9 L1473.8 940.3 L1478.8 945.5 L1480.7 943.2" fill="none" stroke="#4e8a74" stroke-width="1.2" stroke-linejoin="round"/>
<path d="M1112.4 946.8 L1116.9 943.3 L1121.1 947.6 L1126.0 946.2 L1130.0 946.4 L1134.8 946.4 L1139.3 943.5 L1143.7 946.2 L1147.9 943.7 L1152.4 941.7 L1156.8 942.6 L1161.0 942.5 L1166.7 940.2 L1171.0 942.1 L1174.9 940.7 L1178.8 943.6 L1184.4 941.1 L1188.9 939.4 L1193.3 939.9 L1197.5 940.3 L1201.2 940.7 L1206.3 943.3 L1210.0 941.3 L1214.9 947.0 L1219.6 948.6 L1223.8 946.1 L1229.0 946.7 L1233.1 951.8 L1237.3 949.4 L1242.2 952.1 L1245.9 953.2 L1250.7 950.1 L1255.8 950.4 L1260.4 955.7 L1264.6 952.3 L1268.3 949.2 L1273.6 949.9 L1277.3 952.9 L1281.9 951.4 L1286.1 950.4 L1291.2 952.9 L1296.1 951.2 L1299.7 948.3 L1305.0 947.2 L1309.4 949.5 L1312.9 946.8 L1317.3 952.0 L1322.7 947.6 L1327.4 947.5 L1331.4 954.6 L1336.1 949.9 L1340.7 952.3 L1344.7 948.8 L1348.6 950.7 L1353.6 953.1 L1358.0 953.4 L1363.0 951.5 L1366.5 945.8 L1370.7 949.5 L1375.6 951.0 L1380.0 949.8 L1384.6 948.4 L1388.6 946.4 L1393.5 945.2 L1397.5 946.1 L1403.0 948.8 L1407.0 947.9 L1411.9 942.8 L1416.6 944.7 L1420.2 944.5 L1424.3 943.2 L1429.5 944.6 L1434.1 939.7 L1438.7 943.2 L1443.3 943.2 L1446.8 942.7 L1452.0 940.8 L1456.6 942.6 L1461.0 943.7 L1465.7 940.6 L1469.5 947.6 L1474.6 945.1 L1478.0 946.8 L1480.7 947.8" fill="none" stroke="#5a9a64" stroke-width="1.2" stroke-linejoin="round"/>
<path d="M1112.4 943.7 L1116.6 941.1 L1121.6 942.6 L1125.2 941.7 L1129.7 937.2 L1135.1 945.2 L1139.1 940.5 L1143.2 940.3 L1147.7 940.0 L1152.1 937.9 L1157.3 938.2 L1161.2 939.1 L1166.4 942.4 L1171.1 937.8 L1175.2 934.7 L1179.9 936.9 L1184.0 939.1 L1188.1 936.6 L1193.1 933.9 L1197.2 936.5 L1201.3 939.7 L1206.6 937.5 L1210.9 938.1 L1215.2 939.6 L1219.0 936.4 L1224.1 937.5 L1228.8 931.9 L1232.9 939.5 L1237.4 940.4 L1241.9 938.1 L1246.8 941.1 L1250.9 936.8 L1255.9 940.9 L1259.7 935.2 L1264.8 938.4 L1268.3 939.2 L1272.7 939.0 L1277.8 939.0 L1282.6 944.3 L1286.4 938.8 L1290.9 941.4 L1295.8 938.6 L1300.3 940.9 L1304.1 942.0 L1308.5 940.3 L1313.6 940.7 L1318.4 943.6 L1321.8 940.8 L1326.5 938.8 L1331.5 943.3 L1335.2 943.5 L1340.0 940.8 L1344.0 941.1 L1349.5 944.0 L1353.0 943.2 L1358.0 941.0 L1361.9 942.8 L1366.6 945.2 L1370.8 946.6 L1375.7 950.6 L1380.4 948.8 L1384.3 949.3 L1389.7 949.8 L1394.0 949.8 L1398.0 950.1 L1402.6 953.7 L1407.3 951.4 L1411.6 951.8 L1415.9 955.1 L1421.1 951.4 L1425.6 945.9 L1429.5 953.6 L1434.3 951.0 L1438.0 950.0 L1442.6 951.9 L1446.8 951.9 L1451.8 957.2 L1456.2 961.2 L1460.5 971.3 L1465.5 973.9 L1469.2 987.3 L1474.6 993.4 L1477.9 1002.7 L1480.7 1003.6" fill="none" stroke="#7aa848" stroke-width="1.25" stroke-linejoin="round"/>
<path d="M1112.4 940.7 L1117.4 939.9 L1121.1 939.7 L1126.3 941.6 L1130.1 939.0 L1134.3 941.7 L1139.6 941.0 L1143.9 940.2 L1148.1 940.7 L1152.4 937.7 L1157.0 939.3 L1162.1 939.0 L1166.5 939.7 L1170.5 940.7 L1174.8 939.2 L1179.4 939.7 L1184.2 939.0 L1188.5 940.1 L1192.5 937.7 L1196.8 937.9 L1202.4 938.7 L1205.9 939.4 L1210.9 939.9 L1215.1 936.7 L1219.4 938.0 L1223.5 936.7 L1228.5 937.8 L1232.5 939.7 L1238.1 937.9 L1242.5 936.1 L1246.7 941.8 L1250.5 940.1 L1255.8 939.7 L1259.8 940.2 L1263.7 940.7 L1268.3 941.4 L1272.8 940.1 L1277.4 940.2 L1281.6 936.2 L1287.0 942.6 L1290.7 940.3 L1295.5 943.8 L1299.6 942.5 L1304.9 940.0 L1308.4 941.0 L1314.0 940.4 L1317.3 940.4 L1321.9 939.9 L1327.1 940.9 L1331.5 942.5 L1335.5 944.0 L1340.6 944.6 L1344.0 942.6 L1349.3 942.9 L1353.2 938.8 L1358.5 943.9 L1362.4 944.2 L1367.3 947.9 L1371.1 944.9 L1375.2 941.4 L1380.8 944.8 L1384.7 945.2 L1389.3 941.8 L1393.4 946.5 L1398.6 948.6 L1403.0 944.9 L1407.6 947.2 L1411.5 945.9 L1416.4 945.8 L1421.0 948.2 L1425.0 949.0 L1430.0 948.2 L1434.3 945.3 L1438.3 946.2 L1442.6 944.8 L1447.5 948.7 L1451.4 949.4 L1456.2 951.5 L1460.8 954.3 L1465.5 955.4 L1470.1 961.9 L1474.3 960.8 L1479.2 965.9 L1480.7 969.9" fill="none" stroke="#8aac44" stroke-width="1.25" stroke-linejoin="round"/>
<path d="M1112.4 946.8 L1117.5 946.7 L1121.1 944.5 L1125.2 944.4 L1129.8 947.3 L1134.7 943.0 L1139.5 941.6 L1144.0 942.5 L1148.1 942.4 L1152.5 940.5 L1157.4 940.6 L1161.8 940.2 L1165.9 937.0 L1169.9 939.9 L1175.0 937.5 L1178.8 935.9 L1184.4 934.2 L1188.3 937.4 L1193.4 937.9 L1197.8 938.7 L1201.5 935.6 L1205.8 934.2 L1210.1 938.7 L1214.6 936.1 L1220.0 936.6 L1224.7 937.6 L1228.2 940.0 L1232.8 939.3 L1237.1 940.7 L1241.8 938.1 L1246.6 940.6 L1250.4 940.8 L1255.5 939.7 L1260.1 937.3 L1264.4 939.9 L1269.2 937.1 L1272.6 938.1 L1277.1 940.3 L1281.7 936.8 L1287.0 940.4 L1290.5 939.6 L1295.7 936.7 L1299.5 941.4 L1303.9 937.4 L1308.7 934.6 L1314.0 935.5 L1318.4 933.7 L1321.7 933.7 L1326.5 932.7 L1330.8 932.5 L1336.2 934.2 L1340.6 932.6 L1344.5 930.8 L1348.7 931.5 L1353.7 927.5 L1358.5 928.0 L1362.1 928.9 L1366.5 927.1 L1371.2 927.4 L1376.2 924.2 L1379.7 926.8 L1385.2 929.9 L1388.7 932.7 L1394.2 929.3 L1397.8 929.9 L1402.7 933.5 L1407.4 931.8 L1412.0 931.6 L1416.0 935.0 L1420.8 935.0 L1425.1 935.2 L1428.9 937.3 L1434.5 937.6 L1438.8 935.7 L1442.3 936.9 L1446.8 936.5 L1451.8 937.4 L1455.6 939.7 L1460.7 946.7 L1465.7 947.8 L1469.7 951.3 L1473.6 955.7 L1478.7 964.3 L1480.7 964.2" fill="none" stroke="#9b3fcf" stroke-width="1.25" stroke-linejoin="round"/>
<path d="M1112.4 967.9 L1116.4 970.5 L1121.8 972.1 L1126.4 975.7 L1130.8 977.1 L1135.3 979.6 L1138.8 976.4 L1144.0 982.2 L1148.1 980.0 L1152.2 976.7 L1157.6 976.7 L1161.7 973.5 L1166.1 962.4 L1169.8 959.7 L1174.7 953.3 L1180.0 947.6 L1184.4 943.2 L1187.7 941.2 L1192.8 940.0 L1197.5 942.0 L1201.9 944.8 L1205.6 949.4 L1210.3 947.4 L1215.4 951.3 L1219.2 956.3 L1223.8 954.8 L1228.5 955.8 L1233.3 960.0 L1237.0 956.9 L1241.2 959.2 L1246.3 961.5 L1250.4 962.2 L1254.8 962.3 L1260.3 957.3 L1264.7 963.5 L1268.7 963.1 L1272.7 962.9 L1277.5 963.5 L1281.6 961.5 L1286.9 961.9 L1291.3 958.6 L1295.8 960.9 L1300.2 955.4 L1304.1 963.1 L1309.3 961.2 L1312.9 961.8 L1318.1 963.1 L1322.0 963.1 L1326.4 964.8 L1330.9 966.4 L1335.1 966.8 L1340.6 970.8 L1345.1 970.9 L1349.5 971.2 L1354.0 971.1 L1358.2 972.5 L1362.4 972.4 L1366.3 972.5 L1371.4 975.0 L1375.8 973.7 L1379.9 973.9 L1384.8 975.4 L1389.8 974.4 L1394.0 967.5 L1398.8 965.9 L1402.0 967.2 L1407.4 963.3 L1411.6 964.5 L1416.6 960.3 L1420.5 958.6 L1424.6 957.4 L1429.5 951.9 L1433.8 953.0 L1437.8 949.7 L1442.8 948.9 L1446.9 948.3 L1452.0 947.8 L1455.9 946.5 L1460.1 942.9 L1464.5 943.4 L1470.2 946.1 L1473.6 945.5 L1478.4 939.4 L1480.7 942.4" fill="none" stroke="#453a6c" stroke-width="1.25" stroke-linejoin="round"/>
<path d="M1112.4 964.8 L1117.5 962.6 L1121.3 965.2 L1125.4 967.3 L1130.4 968.4 L1134.6 971.0 L1139.6 972.9 L1143.9 970.6 L1148.0 970.4 L1152.2 965.3 L1157.0 966.1 L1161.1 962.3 L1166.6 959.3 L1171.0 955.7 L1175.5 952.3 L1179.8 949.3 L1183.9 941.2 L1189.0 943.7 L1192.9 944.2 L1197.4 945.2 L1201.9 949.1 L1206.2 950.0 L1210.8 949.7 L1214.5 954.6 L1219.3 953.0 L1224.7 954.4 L1228.1 954.3 L1232.7 950.8 L1237.1 953.3 L1241.3 953.4 L1246.0 952.5 L1250.4 956.1 L1254.7 955.5 L1260.3 955.8 L1263.9 953.1 L1268.8 955.4 L1273.4 956.0 L1277.3 955.1 L1281.8 951.8 L1286.1 955.2 L1290.8 952.1 L1295.5 953.0 L1299.3 955.9 L1304.1 952.7 L1309.3 953.5 L1313.0 954.9 L1317.4 955.9 L1322.4 955.3 L1326.1 955.5 L1330.7 959.1 L1335.6 958.1 L1340.5 964.3 L1344.2 963.8 L1348.7 964.0 L1353.9 966.4 L1358.2 965.2 L1362.0 967.9 L1366.9 965.0 L1371.3 966.2 L1375.7 962.4 L1380.6 962.3 L1385.2 963.3 L1389.7 962.2 L1394.3 963.1 L1397.8 962.7 L1403.2 960.9 L1407.3 959.3 L1411.0 956.2 L1416.5 955.4 L1419.9 955.5 L1424.6 951.8 L1429.8 952.5 L1434.5 952.2 L1438.6 950.0 L1442.1 945.3 L1447.0 946.4 L1451.5 948.8 L1456.3 949.7 L1460.0 947.9 L1465.5 945.6 L1469.7 945.0 L1474.4 946.3 L1478.6 943.1 L1480.7 943.6" fill="none" stroke="#44416e" stroke-width="1.25" stroke-linejoin="round"/>
<path d="M1112.4 952.2 L1116.3 954.3 L1121.6 957.9 L1125.4 957.7 L1130.5 961.9 L1134.8 960.2 L1139.0 964.3 L1143.4 962.4 L1148.4 961.9 L1153.0 959.9 L1156.8 961.0 L1161.9 958.7 L1165.6 956.4 L1170.9 959.7 L1174.7 953.6 L1179.9 949.3 L1184.4 946.6 L1188.4 941.9 L1192.5 940.7 L1197.6 946.4 L1201.8 948.5 L1206.1 948.3 L1210.4 954.3 L1215.2 955.4 L1219.4 956.5 L1224.5 955.0 L1228.1 956.3 L1233.0 957.0 L1237.5 954.1 L1242.4 951.2 L1246.0 948.9 L1251.0 948.9 L1255.0 947.4 L1259.5 948.4 L1263.7 951.9 L1268.1 942.9 L1273.2 946.7 L1277.6 950.8 L1281.7 948.7 L1286.0 945.1 L1290.8 949.9 L1295.0 951.1 L1299.7 952.2 L1303.8 949.3 L1309.3 951.2 L1313.0 949.1 L1317.3 950.7 L1322.5 953.3 L1326.9 951.4 L1330.9 957.3 L1335.2 957.0 L1339.5 956.6 L1344.8 957.0 L1349.1 960.8 L1353.2 959.0 L1357.7 960.9 L1362.8 957.6 L1367.5 958.5 L1372.0 956.7 L1376.2 957.0 L1380.7 953.9 L1384.2 956.6 L1388.7 956.3 L1394.3 955.8 L1398.7 956.9 L1402.4 952.4 L1407.5 956.2 L1411.9 956.4 L1415.5 954.9 L1421.1 951.4 L1424.3 950.1 L1429.8 952.0 L1434.0 947.8 L1438.8 948.6 L1442.7 948.4 L1447.9 948.0 L1451.1 951.0 L1456.7 947.7 L1460.7 947.7 L1465.3 946.9 L1469.6 948.1 L1473.6 947.5 L1478.9 946.9 L1480.7 944.9" fill="none" stroke="#3f4a74" stroke-width="1.25" stroke-linejoin="round"/>
<path d="M1112.4 974.9 L1116.3 977.2 L1122.0 974.1 L1126.2 976.0 L1129.9 981.0 L1135.0 982.1 L1139.5 981.8 L1143.2 982.5 L1147.5 982.9 L1152.8 980.1 L1156.5 979.1 L1161.7 970.9 L1165.6 967.3 L1170.4 960.7 L1175.6 951.9 L1179.6 950.4 L1184.0 947.7 L1188.6 944.6 L1193.2 940.0 L1197.1 944.9 L1201.4 947.3 L1206.6 953.3 L1210.6 955.3 L1215.1 956.2 L1219.5 958.6 L1224.0 961.8 L1228.6 961.8 L1233.3 965.4 L1237.0 965.6 L1241.3 967.9 L1246.2 968.5 L1251.1 967.3 L1254.7 969.9 L1259.6 969.6 L1263.8 969.4 L1268.5 972.5 L1273.0 969.2 L1277.8 971.2 L1282.2 970.3 L1287.1 966.9 L1290.8 970.7 L1295.1 972.1 L1299.6 974.4 L1304.9 971.4 L1308.4 973.3 L1313.1 969.6 L1318.5 972.7 L1321.9 972.7 L1326.6 973.0 L1330.6 978.2 L1335.6 978.9 L1340.7 974.9 L1344.7 976.4 L1349.1 976.3 L1353.9 977.2 L1357.5 977.9 L1363.0 976.9 L1367.3 974.5 L1372.0 975.7 L1376.2 975.8 L1379.8 973.5 L1384.2 974.5 L1389.6 975.3 L1393.3 975.2 L1397.8 976.8 L1402.8 975.5 L1406.9 970.2 L1412.2 966.3 L1416.1 970.2 L1420.4 962.7 L1424.8 959.0 L1429.2 954.9 L1434.2 953.4 L1438.4 950.8 L1442.8 949.6 L1447.0 946.9 L1451.5 944.9 L1455.9 946.6 L1461.2 949.4 L1465.2 948.2 L1469.0 948.1 L1473.8 946.2 L1479.1 947.7 L1480.7 947.8" fill="none" stroke="#4a3a6a" stroke-width="1.25" stroke-linejoin="round"/>
<path d="M1112.4 958.0 L1116.8 961.8 L1121.3 961.6 L1125.7 962.6 L1130.7 965.5 L1134.1 967.0 L1138.7 968.0 L1143.7 966.7 L1148.6 962.1 L1152.0 964.0 L1156.5 961.0 L1161.8 960.4 L1165.6 960.1 L1171.0 957.4 L1174.8 953.9 L1179.1 948.2 L1184.1 946.7 L1188.8 941.7 L1193.1 941.2 L1197.2 946.0 L1201.8 949.3 L1206.4 954.7 L1211.1 955.8 L1215.3 956.7 L1219.4 958.3 L1224.2 962.8 L1228.6 962.1 L1233.6 963.4 L1237.4 961.1 L1242.2 962.5 L1247.0 959.0 L1250.2 959.2 L1255.7 960.4 L1259.2 957.0 L1263.7 961.6 L1268.2 960.2 L1272.8 960.9 L1277.0 962.6 L1282.6 960.5 L1286.8 961.7 L1290.6 959.4 L1295.6 961.9 L1299.5 962.0 L1303.9 962.6 L1308.7 961.5 L1312.8 967.6 L1317.2 965.0 L1322.8 966.6 L1326.4 967.9 L1331.8 965.1 L1335.3 967.5 L1339.7 969.4 L1344.2 969.7 L1348.7 969.2 L1353.9 972.4 L1358.3 968.9 L1363.0 968.7 L1367.3 963.5 L1371.4 964.3 L1376.5 962.8 L1380.9 961.1 L1385.3 960.2 L1389.3 967.8 L1393.3 964.7 L1397.7 963.3 L1402.7 964.5 L1406.9 959.9 L1412.1 961.7 L1415.6 961.4 L1420.0 955.0 L1425.3 952.3 L1430.1 953.6 L1433.5 950.7 L1438.8 950.1 L1442.6 949.8 L1447.9 947.4 L1452.4 949.0 L1456.6 949.5 L1460.9 945.6 L1464.9 947.3 L1469.2 947.7 L1473.8 951.5 L1479.0 948.0 L1480.7 945.6" fill="none" stroke="#403f6e" stroke-width="1.25" stroke-linejoin="round"/>
<path d="M1112.4 954.8 L1116.6 955.5 L1120.8 955.7 L1125.9 958.2 L1130.5 956.6 L1134.4 959.0 L1138.9 960.4 L1143.2 962.1 L1148.6 961.8 L1152.9 963.5 L1157.0 961.5 L1161.3 957.6 L1166.1 960.5 L1170.7 952.0 L1174.4 947.9 L1178.9 946.8 L1184.1 945.4 L1187.7 940.7 L1192.4 944.8 L1197.0 942.5 L1201.6 950.9 L1205.9 957.1 L1211.2 962.0 L1214.7 963.6 L1219.9 968.2 L1224.6 975.9 L1229.1 976.1 L1233.6 978.8 L1237.1 981.7 L1241.6 982.4 L1246.0 984.8 L1251.3 987.5 L1255.6 986.3 L1260.3 983.4 L1263.8 985.3 L1269.4 983.4 L1272.7 984.6 L1278.1 978.4 L1282.3 981.0 L1286.4 984.4 L1290.8 983.2 L1294.8 986.9 L1299.7 987.1 L1304.3 989.8 L1309.4 991.0 L1313.6 991.3 L1318.4 993.4 L1322.3 995.8 L1327.4 995.5 L1330.7 995.7 L1335.1 998.7 L1339.6 998.8 L1345.1 1000.8 L1349.0 998.7 L1354.1 999.0 L1357.9 998.4 L1362.6 999.1 L1367.3 1001.3 L1371.4 1004.1 L1375.7 1003.3 L1380.5 1006.8 L1385.0 1000.7 L1389.5 1000.6 L1393.5 997.8 L1397.5 991.5 L1402.0 989.6 L1406.9 985.8 L1412.2 980.9 L1415.9 973.8 L1421.1 970.2 L1425.1 963.6 L1429.5 959.0 L1434.4 959.5 L1438.2 954.2 L1443.1 949.6 L1446.9 949.1 L1451.1 943.9 L1456.6 942.6 L1461.3 939.8 L1465.4 943.0 L1469.8 940.5 L1474.5 941.2 L1478.3 940.6 L1480.7 937.6" fill="none" stroke="#3f5a7a" stroke-width="1.25" stroke-linejoin="round"/>
<path d="M1112.4 953.1 L1117.2 954.9 L1121.8 952.1 L1125.8 953.4 L1130.7 956.8 L1134.6 956.3 L1139.5 959.2 L1143.2 959.7 L1148.0 959.1 L1152.6 960.3 L1157.6 959.7 L1161.9 957.2 L1166.4 956.0 L1171.1 951.9 L1174.4 948.4 L1180.0 945.6 L1184.2 945.5 L1188.9 942.8 L1192.8 945.5 L1196.7 951.0 L1202.1 956.7 L1206.3 961.3 L1210.5 967.8 L1215.2 972.0 L1220.1 976.3 L1224.6 980.3 L1229.0 984.5 L1233.1 988.0 L1237.0 991.1 L1241.6 992.4 L1246.0 995.6 L1251.4 1003.9 L1255.0 1004.9 L1259.8 1013.5 L1264.5 1017.5 L1269.3 1015.8 L1272.6 1017.2 L1277.6 1015.9 L1282.5 1011.2 L1286.2 1013.9 L1291.4 1006.9 L1295.0 1002.9 L1299.9 998.5 L1304.4 994.4 L1308.8 993.3 L1312.8 991.1 L1317.5 990.1 L1322.7 992.0 L1327.2 987.5 L1330.6 988.4 L1335.0 988.1 L1340.0 989.0 L1344.1 993.6 L1348.4 996.1 L1353.7 1000.9 L1358.3 1002.5 L1362.6 1005.6 L1367.3 1005.9 L1371.5 1007.0 L1376.0 1008.5 L1380.6 1003.7 L1384.2 1001.9 L1388.6 997.5 L1393.7 991.1 L1398.4 990.2 L1402.2 985.6 L1406.9 981.8 L1411.0 977.5 L1416.4 971.6 L1420.7 965.9 L1424.5 965.0 L1429.1 962.2 L1434.2 954.3 L1438.9 952.6 L1443.2 949.0 L1447.1 948.3 L1451.5 946.1 L1456.2 944.8 L1460.3 939.7 L1465.0 941.2 L1469.8 939.4 L1473.8 940.1 L1479.0 943.2 L1480.7 938.7" fill="none" stroke="#3f4a78" stroke-width="1.25" stroke-linejoin="round"/>
<path d="M1112.4 943.4 L1116.8 945.5 L1120.9 942.5 L1126.2 944.4 L1130.1 941.0 L1134.2 941.5 L1139.7 942.6 L1144.2 940.4 L1148.7 940.6 L1153.2 938.3 L1156.6 939.1 L1161.0 938.0 L1165.6 938.8 L1170.8 937.8 L1174.9 939.9 L1178.7 937.3 L1183.5 939.0 L1188.6 941.5 L1192.4 941.1 L1197.7 948.6 L1201.3 954.3 L1206.7 960.9 L1210.6 967.0 L1215.1 971.4 L1220.1 978.5 L1224.4 979.4 L1228.5 989.4 L1232.4 991.2 L1237.7 998.8 L1241.8 1008.5 L1246.6 1016.9 L1250.5 1020.6 L1255.6 1021.0 L1259.4 1019.6 L1264.3 1014.7 L1268.6 1011.0 L1273.5 1006.1 L1278.1 1002.3 L1282.5 1002.9 L1286.3 996.2 L1291.3 994.5 L1295.0 991.4 L1300.4 986.3 L1304.7 984.7 L1309.4 982.3 L1313.3 979.6 L1318.3 979.3 L1322.6 983.5 L1326.3 980.7 L1331.5 986.1 L1335.5 989.0 L1339.5 993.3 L1345.1 1003.7 L1348.6 1011.7 L1353.9 1020.8 L1357.3 1031.6 L1362.4 1045.7 L1367.0 1055.0 L1371.1 1059.9 L1376.5 1056.5 L1380.7 1053.2 L1385.1 1044.0 L1389.8 1038.7 L1393.5 1028.2 L1398.5 1022.6 L1402.0 1014.2 L1407.2 1006.4 L1412.0 1000.1 L1416.0 990.4 L1420.2 980.6 L1425.5 974.8 L1429.4 968.1 L1434.2 955.8 L1438.7 951.5 L1442.3 948.9 L1447.7 948.6 L1451.9 943.2 L1456.7 945.3 L1461.2 942.2 L1464.8 941.6 L1470.1 936.9 L1473.8 938.4 L1478.7 937.7 L1480.7 938.8" fill="none" stroke="#4a7f80" stroke-width="1.25" stroke-linejoin="round"/>
<path d="M1112.4 943.3 L1117.1 942.8 L1121.1 942.7 L1125.2 943.3 L1130.9 943.0 L1134.8 940.0 L1139.0 940.8 L1144.3 939.3 L1148.7 939.2 L1152.7 939.1 L1156.9 938.3 L1162.0 938.2 L1165.9 937.8 L1169.9 939.2 L1175.0 935.9 L1179.1 937.9 L1183.5 938.8 L1188.8 941.7 L1192.2 942.9 L1197.2 948.8 L1201.1 959.0 L1206.5 966.2 L1210.7 972.4 L1215.5 982.9 L1219.7 990.1 L1223.5 994.0 L1229.0 999.1 L1232.9 1008.8 L1236.8 1012.4 L1241.9 1020.9 L1246.5 1021.9 L1250.6 1032.7 L1255.2 1039.3 L1259.3 1042.9 L1263.8 1047.0 L1268.9 1048.2 L1273.5 1039.5 L1277.4 1033.7 L1281.7 1029.4 L1286.1 1025.1 L1291.2 1016.5 L1295.9 1012.7 L1300.0 1006.6 L1304.0 1001.4 L1308.8 999.2 L1312.8 996.7 L1318.4 997.6 L1322.5 994.5 L1326.5 999.4 L1331.4 1004.9 L1336.1 1012.7 L1340.7 1016.5 L1345.1 1026.6 L1348.6 1032.7 L1353.1 1038.5 L1357.9 1047.7 L1362.4 1054.5 L1366.5 1060.8 L1371.6 1060.5 L1376.0 1058.5 L1380.8 1055.2 L1385.1 1048.9 L1389.8 1041.3 L1394.0 1035.5 L1398.4 1027.8 L1403.2 1019.7 L1407.2 1009.0 L1412.1 994.9 L1415.5 987.3 L1420.3 978.3 L1424.9 970.3 L1429.9 964.4 L1434.4 956.6 L1439.0 953.9 L1443.0 950.5 L1447.3 949.2 L1451.7 944.9 L1456.7 943.5 L1460.3 939.0 L1465.1 938.3 L1469.4 936.4 L1473.8 938.1 L1478.3 937.2 L1480.7 939.1" fill="none" stroke="#3f5a78" stroke-width="1.25" stroke-linejoin="round"/>
<path d="M1112.4 941.9 L1116.9 941.8 L1121.5 942.4 L1125.8 938.9 L1130.4 939.6 L1134.4 939.5 L1139.7 936.4 L1143.2 937.8 L1147.5 938.8 L1153.0 938.5 L1156.6 937.0 L1161.3 936.0 L1165.8 939.2 L1170.6 938.2 L1175.0 937.2 L1179.6 939.5 L1183.5 941.4 L1188.5 940.3 L1192.7 943.6 L1197.0 944.9 L1201.8 953.1 L1205.9 958.1 L1210.3 964.4 L1215.4 974.2 L1220.1 981.7 L1223.8 990.1 L1229.2 997.5 L1233.6 1008.1 L1237.8 1013.7 L1241.3 1020.8 L1246.2 1026.9 L1251.1 1033.9 L1255.5 1044.8 L1260.1 1050.2 L1264.4 1051.3 L1268.0 1050.8 L1272.7 1046.9 L1277.4 1045.8 L1282.3 1036.1 L1286.8 1028.6 L1290.9 1022.7 L1295.1 1017.3 L1299.7 1007.9 L1305.0 1001.4 L1309.2 997.7 L1313.6 997.6 L1317.6 994.2 L1321.8 997.4 L1327.1 1004.5 L1330.6 1015.0 L1335.3 1024.1 L1339.6 1033.2 L1344.4 1045.7 L1349.7 1058.7 L1353.9 1075.1 L1357.6 1094.0 L1362.3 1112.4 L1367.1 1127.2 L1371.9 1138.8 L1375.9 1145.9 L1380.6 1148.9 L1385.0 1141.8 L1389.8 1128.2 L1394.0 1111.0 L1398.1 1089.4 L1403.1 1072.0 L1407.2 1058.6 L1411.3 1038.3 L1416.1 1021.5 L1420.3 1004.4 L1425.5 991.5 L1429.7 977.7 L1434.5 967.6 L1438.8 958.6 L1443.3 952.0 L1447.8 947.4 L1451.6 947.5 L1455.7 941.8 L1460.7 939.0 L1465.3 939.0 L1469.2 937.2 L1473.7 934.9 L1478.6 935.4 L1480.7 933.4" fill="none" stroke="#3f6a78" stroke-width="1.25" stroke-linejoin="round"/>
<path d="M1112.4 939.9 L1116.8 940.4 L1121.2 943.1 L1126.2 939.8 L1130.7 939.1 L1135.3 941.7 L1139.0 938.3 L1143.7 939.2 L1148.6 938.8 L1152.4 937.9 L1157.2 937.0 L1161.7 939.2 L1166.1 938.1 L1170.2 937.2 L1174.5 941.2 L1179.0 939.5 L1183.7 940.5 L1188.8 941.8 L1192.6 943.1 L1197.2 948.2 L1201.7 956.1 L1205.5 965.3 L1210.9 972.9 L1215.7 979.5 L1219.3 988.8 L1224.2 998.1 L1228.1 1007.3 L1232.8 1014.8 L1237.2 1025.9 L1241.6 1035.5 L1246.8 1045.4 L1251.1 1053.6 L1255.0 1056.1 L1259.5 1063.7 L1264.1 1066.4 L1269.1 1067.0 L1273.0 1063.0 L1278.1 1056.3 L1281.8 1051.4 L1287.2 1046.1 L1290.9 1037.0 L1295.3 1030.2 L1300.6 1025.5 L1304.8 1016.8 L1309.0 1008.9 L1313.2 1003.3 L1317.7 1001.0 L1322.2 1002.0 L1327.3 1006.7 L1331.7 1015.8 L1335.8 1027.1 L1340.1 1041.0 L1344.5 1053.3 L1349.4 1070.7 L1353.1 1082.3 L1358.3 1098.0 L1362.2 1109.8 L1366.7 1120.5 L1371.6 1133.3 L1376.4 1132.8 L1380.9 1126.7 L1385.2 1116.4 L1388.9 1106.1 L1393.8 1089.9 L1398.3 1077.0 L1402.5 1060.9 L1407.1 1042.2 L1412.0 1028.6 L1416.5 1013.5 L1420.6 998.4 L1424.4 986.8 L1429.1 974.8 L1433.6 965.0 L1438.2 955.1 L1443.2 951.2 L1447.8 949.5 L1451.1 945.7 L1456.2 945.6 L1460.9 941.6 L1465.2 940.9 L1469.8 939.5 L1473.8 939.8 L1477.9 938.1 L1480.7 937.2" fill="none" stroke="#417078" stroke-width="1.25" stroke-linejoin="round"/>
<path d="M1112.4 946.1 L1117.1 943.8 L1120.9 944.5 L1125.7 944.1 L1130.4 944.3 L1134.5 944.4 L1138.7 944.4 L1143.7 940.0 L1147.6 940.4 L1152.5 939.5 L1156.5 940.7 L1161.3 937.8 L1166.0 939.4 L1170.2 938.2 L1175.3 940.5 L1179.3 938.4 L1184.1 937.9 L1188.7 936.4 L1192.6 937.1 L1197.6 938.0 L1201.8 938.4 L1205.8 938.4 L1210.6 938.3 L1215.4 939.9 L1219.6 939.9 L1224.6 937.8 L1228.5 939.9 L1233.5 938.3 L1237.3 938.8 L1241.4 937.0 L1246.0 938.1 L1250.7 941.5 L1255.0 939.5 L1260.2 937.6 L1264.8 939.7 L1269.0 939.2 L1273.1 936.5 L1277.3 937.8 L1281.8 937.0 L1286.5 935.3 L1291.6 935.4 L1295.4 937.4 L1299.4 935.0 L1304.8 935.8 L1309.0 934.1 L1313.8 935.8 L1318.4 939.3 L1322.4 936.2 L1327.3 938.0 L1331.0 943.5 L1335.8 947.5 L1339.6 954.6 L1344.7 964.0 L1348.7 973.6 L1353.4 983.2 L1357.4 989.6 L1362.5 998.9 L1367.1 1004.0 L1371.2 1010.4 L1376.1 1015.0 L1380.9 1018.3 L1385.2 1016.4 L1389.2 1013.8 L1393.4 1006.5 L1398.6 1000.6 L1402.6 992.3 L1407.1 991.0 L1411.4 982.6 L1416.4 978.2 L1420.9 973.2 L1425.2 971.4 L1428.8 971.6 L1434.5 974.8 L1438.7 980.4 L1442.8 987.4 L1447.4 997.7 L1452.3 1005.4 L1455.9 1016.6 L1460.2 1029.0 L1465.8 1039.6 L1468.9 1053.7 L1474.6 1064.4 L1478.1 1078.5 L1480.7 1081.3" fill="none" stroke="#cdb44a" stroke-width="1.25" stroke-linejoin="round"/>
</g>
<rect x="1109.6" y="886.9" width="371.7" height="298.2" fill="none" stroke="#151515" stroke-width="1.4"/>
<path d="M1109.6 1185.1v6M1196.1 1185.1v6M1282.5 1185.1v6M1369.0 1185.1v6M1455.4 1185.1v6M1109.6 1146.1h-6M1109.6 1068.6h-6M1109.6 991.2h-6M1109.6 913.8h-6" stroke="#151515" stroke-width="1.4" fill="none"/>
<text x="1109.6" y="1215.6" font-size="24" text-anchor="middle" fill="#000">0</text>
<text x="1196.1" y="1215.6" font-size="24" text-anchor="middle" fill="#000">2</text>
<text x="1282.5" y="1215.6" font-size="24" text-anchor="middle" fill="#000">4</text>
<text x="1369" y="1215.6" font-size="24" text-anchor="middle" fill="#000">6</text>
<text x="1455.4" y="1215.6" font-size="24" text-anchor="middle" fill="#000">8</text>
<text x="1100.2" y="1154.7" font-size="24" text-anchor="end" fill="#000">-800</text>
<text x="1100.2" y="1077.2" font-size="24" text-anchor="end" fill="#000">-400</text>
<text x="1100.2" y="999.8" font-size="24" text-anchor="end" fill="#000">0</text>
<text x="1100.2" y="922.4" font-size="24" text-anchor="end" fill="#000">400</text>
<text x="1297" y="1244.3" font-size="24" text-anchor="middle" fill="#000">Distance (mm)</text>
<text x="1041" y="1038.7" font-size="24" text-anchor="middle" transform="rotate(-90 1041 1038.7)" fill="#000">Magnetic field (arb. units)</text>
<text x="1517.5" y="456.5" font-size="40" text-anchor="start" font-weight="bold" fill="#000">k</text>
<clipPath id="clip_k"><rect x="1617.1" y="455.4" width="374" height="300.9"/></clipPath>
<g clip-path="url(#clip_k)">
<path d="M1617.5 639.9 L1631.4 635.4 L1645.3 637.3 L1659.1 638.5 L1672.9 634.4 L1686.8 635.2 L1700.6 631.6 L1714.5 632.6 L1728.3 633.4 L1742.1 636.0 L1756.0 641.4 L1769.8 653.3 L1783.7 656.3 L1797.5 659.1 L1811.3 660.9 L1825.2 658.1 L1839.0 655.2 L1852.8 653.8 L1866.7 657.3 L1880.5 652.8 L1894.4 649.1 L1908.2 639.5 L1922.0 633.1 L1935.9 624.8 L1949.7 600.4 L1963.6 576.3 L1977.4 591.9 L1990.7 607.6" fill="none" stroke="#cdb84c" stroke-width="1.2" stroke-linejoin="round"/>
<path d="M1617.5 637.8 L1631.4 636.8 L1645.3 637.7 L1659.1 635.3 L1672.9 633.4 L1686.8 636.2 L1700.6 634.3 L1714.5 631.8 L1728.3 631.6 L1742.1 633.9 L1756.0 638.5 L1769.8 650.3 L1783.7 654.3 L1797.5 655.7 L1811.3 656.6 L1825.2 655.4 L1839.0 655.1 L1852.8 654.0 L1866.7 657.4 L1880.5 651.0 L1894.4 644.4 L1908.2 638.3 L1922.0 634.4 L1935.9 626.6 L1949.7 601.2 L1963.6 580.1 L1977.4 596.8 L1990.7 610.6" fill="none" stroke="#c4b545" stroke-width="1.2" stroke-linejoin="round"/>
<path d="M1617.5 638.0 L1631.4 638.0 L1645.3 637.8 L1659.1 634.5 L1672.9 635.4 L1686.8 633.5 L1700.6 633.3 L1714.5 632.1 L1728.3 631.4 L1742.1 636.5 L1756.0 636.7 L1769.8 647.3 L1783.7 652.0 L1797.5 653.2 L1811.3 653.0 L1825.2 652.8 L1839.0 651.8 L1852.8 655.6 L1866.7 655.6 L1880.5 651.3 L1894.4 645.5 L1908.2 641.8 L1922.0 634.4 L1935.9 624.1 L1949.7 606.6 L1963.6 588.4 L1977.4 599.8 L1990.7 612.5" fill="none" stroke="#b4b240" stroke-width="1.2" stroke-linejoin="round"/>
<path d="M1617.5 639.2 L1631.4 639.0 L1645.3 636.1 L1659.1 638.7 L1672.9 635.0 L1686.8 633.5 L1700.6 633.4 L1714.5 630.9 L1728.3 634.0 L1742.1 634.4 L1756.0 636.5 L1769.8 645.5 L1783.7 649.2 L1797.5 649.8 L1811.3 653.1 L1825.2 648.9 L1839.0 648.6 L1852.8 650.4 L1866.7 653.1 L1880.5 649.1 L1894.4 644.3 L1908.2 641.4 L1922.0 633.7 L1935.9 627.0 L1949.7 609.0 L1963.6 591.4 L1977.4 604.5 L1990.7 613.5" fill="none" stroke="#a8b040" stroke-width="1.2" stroke-linejoin="round"/>
<path d="M1617.5 637.0 L1631.4 638.2 L1645.3 637.0 L1659.1 635.4 L1672.9 634.4 L1686.8 632.2 L1700.6 632.1 L1714.5 632.8 L1728.3 631.0 L1742.1 635.0 L1756.0 636.7 L1769.8 644.8 L1783.7 649.8 L1797.5 650.0 L1811.3 652.1 L1825.2 647.7 L1839.0 647.3 L1852.8 649.1 L1866.7 648.9 L1880.5 649.3 L1894.4 643.3 L1908.2 642.1 L1922.0 633.8 L1935.9 626.8 L1949.7 613.4 L1963.6 597.8 L1977.4 608.7 L1990.7 616.4" fill="none" stroke="#98ae40" stroke-width="1.2" stroke-linejoin="round"/>
<path d="M1617.5 639.9 L1631.4 639.6 L1645.3 636.4 L1659.1 635.0 L1672.9 637.8 L1686.8 634.7 L1700.6 630.0 L1714.5 630.4 L1728.3 633.2 L1742.1 629.6 L1756.0 630.8 L1769.8 635.9 L1783.7 639.9 L1797.5 638.3 L1811.3 640.5 L1825.2 642.0 L1839.0 645.6 L1852.8 650.4 L1866.7 650.4 L1880.5 644.9 L1894.4 645.8 L1908.2 640.0 L1922.0 637.3 L1935.9 632.5 L1949.7 621.3 L1963.6 608.3 L1977.4 611.6 L1990.7 618.1" fill="none" stroke="#78b24a" stroke-width="1.2" stroke-linejoin="round"/>
<path d="M1617.5 638.5 L1631.4 636.1 L1645.3 635.7 L1659.1 636.3 L1672.9 634.0 L1686.8 631.0 L1700.6 633.8 L1714.5 632.7 L1728.3 629.0 L1742.1 626.1 L1756.0 623.2 L1769.8 623.4 L1783.7 626.6 L1797.5 625.1 L1811.3 631.9 L1825.2 638.2 L1839.0 646.2 L1852.8 651.8 L1866.7 656.0 L1880.5 653.7 L1894.4 648.0 L1908.2 641.9 L1922.0 638.1 L1935.9 634.5 L1949.7 621.8 L1963.6 613.1 L1977.4 617.4 L1990.7 619.3" fill="none" stroke="#6aae50" stroke-width="1.2" stroke-linejoin="round"/>
<path d="M1617.5 636.7 L1631.4 637.6 L1645.3 635.5 L1659.1 635.8 L1672.9 632.9 L1686.8 630.6 L1700.6 631.0 L1714.5 627.6 L1728.3 625.5 L1742.1 618.8 L1756.0 613.7 L1769.8 612.1 L1783.7 610.7 L1797.5 614.7 L1811.3 620.2 L1825.2 631.1 L1839.0 643.6 L1852.8 658.3 L1866.7 660.4 L1880.5 657.2 L1894.4 649.3 L1908.2 645.7 L1922.0 639.1 L1935.9 636.3 L1949.7 626.7 L1963.6 618.8 L1977.4 619.1 L1990.7 621.1" fill="none" stroke="#5ea856" stroke-width="1.2" stroke-linejoin="round"/>
<path d="M1617.5 636.6 L1631.4 636.9 L1645.3 637.3 L1659.1 636.2 L1672.9 632.3 L1686.8 634.2 L1700.6 628.7 L1714.5 627.6 L1728.3 624.0 L1742.1 610.8 L1756.0 607.5 L1769.8 602.1 L1783.7 597.9 L1797.5 600.5 L1811.3 609.5 L1825.2 625.9 L1839.0 646.6 L1852.8 662.7 L1866.7 668.8 L1880.5 664.2 L1894.4 655.2 L1908.2 648.5 L1922.0 641.4 L1935.9 639.9 L1949.7 629.6 L1963.6 620.9 L1977.4 619.6 L1990.7 619.6" fill="none" stroke="#58a05c" stroke-width="1.2" stroke-linejoin="round"/>
<path d="M1617.5 637.5 L1631.4 634.6 L1645.3 636.5 L1659.1 635.9 L1672.9 633.3 L1686.8 630.1 L1700.6 630.2 L1714.5 623.7 L1728.3 619.1 L1742.1 608.4 L1756.0 598.1 L1769.8 588.5 L1783.7 583.3 L1797.5 588.5 L1811.3 600.7 L1825.2 622.1 L1839.0 646.2 L1852.8 668.0 L1866.7 673.1 L1880.5 670.5 L1894.4 657.1 L1908.2 652.1 L1922.0 645.2 L1935.9 638.3 L1949.7 630.9 L1963.6 626.2 L1977.4 620.3 L1990.7 623.8" fill="none" stroke="#529a64" stroke-width="1.2" stroke-linejoin="round"/>
<path d="M1617.5 637.7 L1631.4 635.7 L1645.3 634.2 L1659.1 636.4 L1672.9 635.0 L1686.8 630.3 L1700.6 627.5 L1714.5 620.4 L1728.3 615.7 L1742.1 602.8 L1756.0 587.4 L1769.8 573.8 L1783.7 569.3 L1797.5 575.5 L1811.3 590.8 L1825.2 613.6 L1839.0 645.0 L1852.8 672.6 L1866.7 682.8 L1880.5 675.7 L1894.4 660.6 L1908.2 653.0 L1922.0 646.0 L1935.9 640.8 L1949.7 636.7 L1963.6 630.2 L1977.4 626.0 L1990.7 623.6" fill="none" stroke="#4e926c" stroke-width="1.2" stroke-linejoin="round"/>
<path d="M1617.5 638.8 L1631.4 637.5 L1645.3 635.9 L1659.1 634.2 L1672.9 634.4 L1686.8 631.9 L1700.6 627.3 L1714.5 621.1 L1728.3 612.1 L1742.1 593.5 L1756.0 579.0 L1769.8 559.4 L1783.7 554.3 L1797.5 559.9 L1811.3 577.3 L1825.2 609.7 L1839.0 645.2 L1852.8 679.1 L1866.7 689.0 L1880.5 684.7 L1894.4 664.9 L1908.2 654.2 L1922.0 650.2 L1935.9 642.3 L1949.7 635.1 L1963.6 631.1 L1977.4 624.0 L1990.7 623.5" fill="none" stroke="#4a8a74" stroke-width="1.2" stroke-linejoin="round"/>
<path d="M1617.5 639.4 L1631.4 637.2 L1645.3 633.8 L1659.1 637.2 L1672.9 634.7 L1686.8 633.4 L1700.6 630.6 L1714.5 631.4 L1728.3 629.1 L1742.1 628.9 L1756.0 625.0 L1769.8 622.9 L1783.7 622.7 L1797.5 622.7 L1811.3 629.2 L1825.2 632.0 L1839.0 635.7 L1852.8 643.9 L1866.7 646.8 L1880.5 644.6 L1894.4 642.2 L1908.2 640.3 L1922.0 637.7 L1935.9 635.2 L1949.7 634.1 L1963.6 627.4 L1977.4 619.0 L1990.7 595.4" fill="none" stroke="#46396c" stroke-width="1.2" stroke-linejoin="round"/>
<path d="M1617.5 638.7 L1631.4 637.1 L1645.3 635.3 L1659.1 634.2 L1672.9 636.5 L1686.8 633.0 L1700.6 632.8 L1714.5 629.0 L1728.3 625.9 L1742.1 624.8 L1756.0 620.4 L1769.8 616.4 L1783.7 615.7 L1797.5 618.7 L1811.3 623.1 L1825.2 630.9 L1839.0 638.7 L1852.8 649.9 L1866.7 651.8 L1880.5 648.9 L1894.4 646.0 L1908.2 643.0 L1922.0 640.7 L1935.9 635.4 L1949.7 632.6 L1963.6 626.6 L1977.4 613.9 L1990.7 590.3" fill="none" stroke="#433b6c" stroke-width="1.2" stroke-linejoin="round"/>
<path d="M1617.5 637.0 L1631.4 638.4 L1645.3 634.6 L1659.1 636.5 L1672.9 633.9 L1686.8 633.8 L1700.6 630.5 L1714.5 628.0 L1728.3 625.0 L1742.1 620.0 L1756.0 618.0 L1769.8 607.7 L1783.7 608.8 L1797.5 609.6 L1811.3 616.9 L1825.2 626.4 L1839.0 638.0 L1852.8 652.4 L1866.7 653.9 L1880.5 651.1 L1894.4 647.4 L1908.2 644.4 L1922.0 640.5 L1935.9 637.3 L1949.7 633.2 L1963.6 629.3 L1977.4 615.5 L1990.7 588.6" fill="none" stroke="#403e6e" stroke-width="1.2" stroke-linejoin="round"/>
<path d="M1617.5 639.7 L1631.4 639.7 L1645.3 638.5 L1659.1 637.1 L1672.9 634.9 L1686.8 630.1 L1700.6 630.3 L1714.5 628.4 L1728.3 621.0 L1742.1 612.5 L1756.0 610.3 L1769.8 598.0 L1783.7 600.4 L1797.5 601.7 L1811.3 610.9 L1825.2 624.3 L1839.0 642.5 L1852.8 655.4 L1866.7 663.3 L1880.5 657.9 L1894.4 648.9 L1908.2 643.2 L1922.0 643.4 L1935.9 637.1 L1949.7 631.9 L1963.6 628.3 L1977.4 611.9 L1990.7 580.7" fill="none" stroke="#3e406f" stroke-width="1.2" stroke-linejoin="round"/>
<path d="M1617.5 639.1 L1631.4 634.9 L1645.3 636.4 L1659.1 632.6 L1672.9 633.4 L1686.8 632.9 L1700.6 628.1 L1714.5 626.0 L1728.3 621.0 L1742.1 611.6 L1756.0 600.3 L1769.8 594.2 L1783.7 591.7 L1797.5 594.1 L1811.3 603.4 L1825.2 620.2 L1839.0 642.5 L1852.8 659.0 L1866.7 663.8 L1880.5 664.4 L1894.4 652.9 L1908.2 646.2 L1922.0 642.8 L1935.9 638.1 L1949.7 632.6 L1963.6 626.1 L1977.4 611.5 L1990.7 582.0" fill="none" stroke="#3d426f" stroke-width="1.2" stroke-linejoin="round"/>
<path d="M1617.5 639.4 L1631.4 634.2 L1645.3 635.3 L1659.1 635.7 L1672.9 634.4 L1686.8 630.9 L1700.6 629.9 L1714.5 624.0 L1728.3 619.8 L1742.1 606.1 L1756.0 597.6 L1769.8 583.4 L1783.7 581.7 L1797.5 585.2 L1811.3 598.1 L1825.2 617.2 L1839.0 640.8 L1852.8 663.3 L1866.7 671.9 L1880.5 664.5 L1894.4 655.2 L1908.2 650.5 L1922.0 645.0 L1935.9 637.9 L1949.7 636.6 L1963.6 625.7 L1977.4 610.6 L1990.7 577.2" fill="none" stroke="#3c4470" stroke-width="1.2" stroke-linejoin="round"/>
<path d="M1617.5 640.4 L1631.4 636.2 L1645.3 635.9 L1659.1 636.1 L1672.9 633.3 L1686.8 629.3 L1700.6 625.5 L1714.5 624.6 L1728.3 617.3 L1742.1 603.8 L1756.0 588.0 L1769.8 573.9 L1783.7 572.1 L1797.5 576.7 L1811.3 592.5 L1825.2 616.1 L1839.0 643.1 L1852.8 668.5 L1866.7 677.8 L1880.5 671.4 L1894.4 657.9 L1908.2 652.6 L1922.0 644.4 L1935.9 637.9 L1949.7 632.9 L1963.6 627.9 L1977.4 606.3 L1990.7 573.3" fill="none" stroke="#3b4670" stroke-width="1.2" stroke-linejoin="round"/>
<path d="M1617.5 638.0 L1631.4 636.9 L1645.3 638.1 L1659.1 637.5 L1672.9 632.1 L1686.8 630.0 L1700.6 627.8 L1714.5 622.2 L1728.3 613.9 L1742.1 599.6 L1756.0 585.2 L1769.8 568.9 L1783.7 563.2 L1797.5 569.0 L1811.3 582.7 L1825.2 610.5 L1839.0 644.8 L1852.8 673.7 L1866.7 684.5 L1880.5 676.9 L1894.4 662.7 L1908.2 655.6 L1922.0 645.2 L1935.9 639.0 L1949.7 632.5 L1963.6 626.2 L1977.4 605.8 L1990.7 569.8" fill="none" stroke="#3a4870" stroke-width="1.2" stroke-linejoin="round"/>
<path d="M1617.5 638.7 L1631.4 637.0 L1645.3 635.3 L1659.1 635.4 L1672.9 634.0 L1686.8 630.2 L1700.6 630.6 L1714.5 620.7 L1728.3 612.5 L1742.1 595.0 L1756.0 579.8 L1769.8 559.3 L1783.7 555.3 L1797.5 558.9 L1811.3 578.2 L1825.2 608.9 L1839.0 647.7 L1852.8 677.6 L1866.7 688.7 L1880.5 680.6 L1894.4 663.1 L1908.2 655.3 L1922.0 646.9 L1935.9 639.5 L1949.7 636.1 L1963.6 626.0 L1977.4 602.0 L1990.7 568.0" fill="none" stroke="#394a70" stroke-width="1.2" stroke-linejoin="round"/>
<path d="M1617.5 640.3 L1631.4 638.5 L1645.3 636.4 L1659.1 632.9 L1672.9 635.4 L1686.8 628.0 L1700.6 626.2 L1714.5 620.5 L1728.3 609.8 L1742.1 589.1 L1756.0 571.9 L1769.8 551.6 L1783.7 547.7 L1797.5 552.0 L1811.3 572.0 L1825.2 602.7 L1839.0 647.1 L1852.8 680.7 L1866.7 692.8 L1880.5 684.5 L1894.4 666.7 L1908.2 657.1 L1922.0 647.0 L1935.9 642.7 L1949.7 638.1 L1963.6 631.1 L1977.4 624.0 L1990.7 619.9" fill="none" stroke="#3a5a72" stroke-width="1.2" stroke-linejoin="round"/>
<path d="M1617.5 639.4 L1631.4 637.6 L1645.3 635.6 L1659.1 634.7 L1672.9 634.6 L1686.8 628.6 L1700.6 627.4 L1714.5 619.5 L1728.3 605.3 L1742.1 586.7 L1756.0 567.6 L1769.8 546.3 L1783.7 539.0 L1797.5 546.1 L1811.3 565.1 L1825.2 599.9 L1839.0 646.8 L1852.8 686.3 L1866.7 696.4 L1880.5 687.7 L1894.4 668.8 L1908.2 659.3 L1922.0 651.9 L1935.9 643.8 L1949.7 637.5 L1963.6 634.2 L1977.4 624.4 L1990.7 616.7" fill="none" stroke="#3b6074" stroke-width="1.2" stroke-linejoin="round"/>
<path d="M1617.5 640.2 L1631.4 636.8 L1645.3 635.0 L1659.1 634.7 L1672.9 631.5 L1686.8 629.3 L1700.6 627.3 L1714.5 617.0 L1728.3 605.6 L1742.1 584.1 L1756.0 563.4 L1769.8 540.0 L1783.7 535.0 L1797.5 541.1 L1811.3 560.1 L1825.2 599.0 L1839.0 649.1 L1852.8 686.6 L1866.7 703.3 L1880.5 692.6 L1894.4 670.6 L1908.2 657.5 L1922.0 651.2 L1935.9 643.9 L1949.7 642.1 L1963.6 635.8 L1977.4 623.1 L1990.7 618.7" fill="none" stroke="#38606e" stroke-width="1.2" stroke-linejoin="round"/>
<path d="M1617.5 638.4 L1631.4 637.2 L1645.3 634.1 L1659.1 637.5 L1672.9 634.7 L1686.8 631.0 L1700.6 625.2 L1714.5 619.6 L1728.3 604.4 L1742.1 585.0 L1756.0 558.0 L1769.8 535.2 L1783.7 527.3 L1797.5 533.8 L1811.3 557.2 L1825.2 599.4 L1839.0 648.3 L1852.8 691.2 L1866.7 706.5 L1880.5 695.8 L1894.4 671.0 L1908.2 659.4 L1922.0 651.0 L1935.9 643.7 L1949.7 642.7 L1963.6 633.3 L1977.4 623.9 L1990.7 617.8" fill="none" stroke="#36626e" stroke-width="1.2" stroke-linejoin="round"/>
<path d="M1617.5 639.9 L1631.4 634.1 L1645.3 636.3 L1659.1 632.9 L1672.9 632.4 L1686.8 630.9 L1700.6 625.3 L1714.5 619.0 L1728.3 604.6 L1742.1 579.5 L1756.0 555.3 L1769.8 529.7 L1783.7 522.6 L1797.5 528.5 L1811.3 555.4 L1825.2 594.3 L1839.0 648.0 L1852.8 694.2 L1866.7 708.3 L1880.5 701.3 L1894.4 674.6 L1908.2 663.1 L1922.0 650.8 L1935.9 645.8 L1949.7 638.8 L1963.6 633.9 L1977.4 621.8 L1990.7 618.2" fill="none" stroke="#34646e" stroke-width="1.2" stroke-linejoin="round"/>
<path d="M1617.5 639.3 L1631.4 637.0 L1645.3 634.7 L1659.1 635.4 L1672.9 632.6 L1686.8 629.1 L1700.6 624.6 L1714.5 616.7 L1728.3 601.6 L1742.1 576.9 L1756.0 549.5 L1769.8 525.4 L1783.7 514.4 L1797.5 523.8 L1811.3 550.7 L1825.2 593.6 L1839.0 650.1 L1852.8 697.1 L1866.7 713.4 L1880.5 699.9 L1894.4 678.1 L1908.2 663.7 L1922.0 655.9 L1935.9 646.9 L1949.7 640.7 L1963.6 633.9 L1977.4 621.7 L1990.7 615.9" fill="none" stroke="#33656c" stroke-width="1.2" stroke-linejoin="round"/>
<path d="M1617.5 641.2 L1631.4 636.6 L1645.3 634.8 L1659.1 632.9 L1672.9 631.7 L1686.8 631.1 L1700.6 623.6 L1714.5 616.4 L1728.3 602.3 L1742.1 572.1 L1756.0 545.7 L1769.8 521.0 L1783.7 510.7 L1797.5 517.7 L1811.3 546.0 L1825.2 593.5 L1839.0 650.5 L1852.8 701.2 L1866.7 714.1 L1880.5 703.4 L1894.4 679.0 L1908.2 664.8 L1922.0 655.3 L1935.9 648.2 L1949.7 640.9 L1963.6 635.4 L1977.4 623.9 L1990.7 617.2" fill="none" stroke="#32656a" stroke-width="1.2" stroke-linejoin="round"/>
<path d="M1617.5 638.9 L1631.4 634.8 L1645.3 636.8 L1659.1 635.3 L1672.9 632.0 L1686.8 628.1 L1700.6 623.7 L1714.5 614.8 L1728.3 601.8 L1742.1 570.0 L1756.0 542.9 L1769.8 514.1 L1783.7 505.0 L1797.5 510.2 L1811.3 542.1 L1825.2 590.4 L1839.0 652.7 L1852.8 702.5 L1866.7 719.9 L1880.5 708.3 L1894.4 679.0 L1908.2 663.8 L1922.0 656.0 L1935.9 648.4 L1949.7 640.9 L1963.6 633.9 L1977.4 620.6 L1990.7 618.9" fill="none" stroke="#316468" stroke-width="1.2" stroke-linejoin="round"/>
<path d="M1617.5 638.0 L1631.4 636.5 L1645.3 635.7 L1659.1 636.4 L1672.9 632.7 L1686.8 632.0 L1700.6 621.5 L1714.5 612.5 L1728.3 595.9 L1742.1 566.2 L1756.0 538.6 L1769.8 505.4 L1783.7 501.4 L1797.5 503.5 L1811.3 534.0 L1825.2 589.4 L1839.0 653.3 L1852.8 705.7 L1866.7 725.0 L1880.5 710.1 L1894.4 681.3 L1908.2 667.8 L1922.0 658.3 L1935.9 647.1 L1949.7 641.0 L1963.6 634.5 L1977.4 622.5 L1990.7 615.5" fill="none" stroke="#306468" stroke-width="1.2" stroke-linejoin="round"/>
<path d="M1617.5 638.9 L1631.4 636.6 L1645.3 636.7 L1659.1 632.5 L1672.9 631.9 L1686.8 628.7 L1700.6 621.6 L1714.5 612.5 L1728.3 597.2 L1742.1 560.7 L1756.0 535.6 L1769.8 502.5 L1783.7 494.9 L1797.5 502.9 L1811.3 534.8 L1825.2 586.5 L1839.0 651.9 L1852.8 709.7 L1866.7 727.8 L1880.5 715.0 L1894.4 682.5 L1908.2 669.8 L1922.0 658.0 L1935.9 646.7 L1949.7 640.2 L1963.6 633.9 L1977.4 620.9 L1990.7 615.5" fill="none" stroke="#2f6367" stroke-width="1.2" stroke-linejoin="round"/>
<path d="M1617.5 640.0 L1631.4 635.9 L1645.3 634.4 L1659.1 634.7 L1672.9 632.6 L1686.8 628.5 L1700.6 623.7 L1714.5 612.7 L1728.3 596.0 L1742.1 561.4 L1756.0 533.5 L1769.8 495.9 L1783.7 488.9 L1797.5 495.0 L1811.3 528.4 L1825.2 585.0 L1839.0 653.8 L1852.8 712.7 L1866.7 729.5 L1880.5 715.3 L1894.4 685.8 L1908.2 669.2 L1922.0 658.6 L1935.9 650.3 L1949.7 642.5 L1963.6 633.5 L1977.4 619.8 L1990.7 616.3" fill="none" stroke="#2e6266" stroke-width="1.2" stroke-linejoin="round"/>
<path d="M1617.5 637.3 L1631.4 636.3 L1645.3 637.2 L1659.1 634.3 L1672.9 633.0 L1686.8 633.0 L1700.6 629.7 L1714.5 628.4 L1728.3 625.0 L1742.1 623.1 L1756.0 621.6 L1769.8 619.8 L1783.7 615.6 L1797.5 621.1 L1811.3 625.7 L1825.2 631.6 L1839.0 636.1 L1852.8 638.9 L1866.7 638.9 L1880.5 640.7 L1894.4 640.3 L1908.2 639.7 L1922.0 641.3 L1935.9 637.5 L1949.7 634.3 L1963.6 627.2 L1977.4 612.1 L1990.7 598.5" fill="none" stroke="#8a22c4" stroke-width="1.8" stroke-linejoin="round"/>
<path d="M1617.5 637.6 L1631.4 637.0 L1645.3 636.5 L1659.1 635.6 L1672.9 633.5 L1686.8 631.0 L1700.6 631.0 L1714.5 629.5 L1728.3 625.9 L1742.1 625.9 L1756.0 622.5 L1769.8 623.6 L1783.7 621.2 L1797.5 624.4 L1811.3 629.3 L1825.2 632.9 L1839.0 636.4 L1852.8 640.6 L1866.7 642.1 L1880.5 641.6 L1894.4 641.6 L1908.2 642.0 L1922.0 641.2 L1935.9 640.0 L1949.7 638.6 L1963.6 632.2 L1977.4 620.6 L1990.7 609.8" fill="none" stroke="#8f3ac4" stroke-width="1.2" stroke-linejoin="round"/>
</g>
<rect x="1617.1" y="455.4" width="374" height="300.9" fill="none" stroke="#151515" stroke-width="1.4"/>
<path d="M1672.9 756.3v6M1741.8 756.3v6M1810.7 756.3v6M1879.6 756.3v6M1948.5 756.3v6M1617.1 753.0h-6M1617.1 686.3h-6M1617.1 619.7h-6M1617.1 553.0h-6M1617.1 486.3h-6" stroke="#151515" stroke-width="1.4" fill="none"/>
<text x="1672.9" y="786" font-size="24" text-anchor="middle" fill="#000">3</text>
<text x="1741.8" y="786" font-size="24" text-anchor="middle" fill="#000">8</text>
<text x="1810.7" y="786" font-size="24" text-anchor="middle" fill="#000">13</text>
<text x="1879.6" y="786" font-size="24" text-anchor="middle" fill="#000">18</text>
<text x="1948.5" y="786" font-size="24" text-anchor="middle" fill="#000">23</text>
<text x="1607.7" y="761.6" font-size="24" text-anchor="end" fill="#000">-1000</text>
<text x="1607.7" y="694.9" font-size="24" text-anchor="end" fill="#000">-500</text>
<text x="1607.7" y="628.2" font-size="24" text-anchor="end" fill="#000">0</text>
<text x="1607.7" y="561.6" font-size="24" text-anchor="end" fill="#000">500</text>
<text x="1607.7" y="494.9" font-size="24" text-anchor="end" fill="#000">1000</text>
<text x="1805.5" y="813.5" font-size="24" text-anchor="middle" fill="#000">Distance (mm)</text>
<text x="1547.7" y="607.2" font-size="24" text-anchor="middle" transform="rotate(-90 1547.7 607.2)" fill="#000">Magnetic field (arb. units)</text>
<text x="1500.5" y="886.5" font-size="40" text-anchor="start" font-weight="bold" fill="#000">l</text>
<clipPath id="clip_l"><rect x="1617.8" y="885" width="374.3" height="300.8"/></clipPath>
<g clip-path="url(#clip_l)">
<path d="M1617.5 996.0 L1621.1 994.4 L1624.8 997.5 L1628.6 993.9 L1632.4 996.1 L1635.5 993.4 L1639.6 994.3 L1643.2 992.3 L1646.8 994.6 L1650.8 993.8 L1654.3 992.8 L1658.9 991.2 L1662.2 991.5 L1666.2 993.8 L1669.1 992.6 L1673.4 994.5 L1677.1 991.3 L1680.8 993.6 L1684.1 994.8 L1687.8 989.8 L1692.2 992.4 L1695.5 989.5 L1698.8 986.2 L1702.7 985.5 L1707.2 984.4 L1710.5 983.2 L1714.5 983.1 L1717.6 984.0 L1721.3 981.6 L1725.5 981.6 L1729.6 984.4 L1732.9 984.2 L1736.6 981.7 L1740.0 982.2 L1743.4 981.8 L1748.0 981.2 L1751.9 981.1 L1755.5 980.7 L1759.1 982.4 L1762.8 982.3 L1766.0 983.6 L1770.4 981.5 L1773.2 981.1 L1777.7 981.9 L1781.4 979.7 L1784.5 981.7 L1788.5 983.4 L1792.1 981.3 L1795.9 981.1 L1799.9 980.8 L1803.5 981.2 L1807.2 981.7 L1811.3 980.4 L1814.3 981.3 L1818.9 981.9 L1821.6 980.5 L1825.5 982.8 L1829.5 980.3 L1833.2 983.7 L1837.0 981.0 L1840.7 981.2 L1844.7 980.1 L1847.9 983.5 L1852.4 980.4 L1855.0 980.1 L1859.7 979.2 L1863.5 977.8 L1867.2 981.0 L1870.0 981.2 L1874.2 986.3 L1877.7 985.1 L1882.1 987.3 L1885.8 988.8 L1889.3 988.9 L1892.9 990.7 L1897.0 989.8 L1900.6 988.9 L1904.2 988.1 L1908.0 991.1 L1910.9 991.7 L1914.8 990.6 L1918.7 990.3 L1922.7 991.6 L1926.7 988.9 L1930.2 992.3 L1933.5 993.2 L1937.3 990.6 L1941.3 992.1 L1944.5 991.0 L1948.3 994.0 L1952.2 990.7 L1956.0 991.9 L1959.8 993.1 L1962.9 990.5 L1966.8 991.8 L1970.4 994.1 L1974.5 994.2 L1977.9 992.1 L1981.9 994.1 L1985.9 992.8 L1989.9 994.0 L1990.7 996.2" fill="none" stroke="#cbb84a" stroke-width="1.2" stroke-linejoin="round"/>
<path d="M1617.5 995.3 L1621.5 996.2 L1624.9 996.1 L1629.0 995.7 L1632.5 994.9 L1636.2 993.2 L1640.0 992.3 L1643.2 993.7 L1647.1 993.1 L1651.2 995.0 L1654.6 993.6 L1657.9 994.2 L1661.6 992.9 L1666.0 992.0 L1669.2 991.7 L1673.4 993.6 L1677.2 992.2 L1680.3 992.4 L1684.4 991.1 L1687.8 990.2 L1692.1 994.4 L1695.9 987.3 L1699.3 986.8 L1703.2 989.3 L1706.5 984.3 L1711.0 985.7 L1714.0 984.0 L1718.2 982.3 L1722.0 980.2 L1725.4 981.4 L1728.9 982.8 L1732.8 982.9 L1736.0 980.8 L1740.3 982.5 L1744.0 981.9 L1747.7 982.5 L1751.9 981.6 L1755.2 979.5 L1758.5 980.7 L1762.2 983.1 L1766.7 980.1 L1770.3 982.1 L1773.9 980.5 L1777.5 980.6 L1781.4 981.1 L1785.3 981.4 L1788.3 981.1 L1791.8 979.9 L1795.9 981.7 L1800.0 978.8 L1803.5 979.0 L1807.5 977.9 L1810.6 982.8 L1814.8 979.2 L1818.2 982.0 L1821.8 980.1 L1825.5 980.5 L1829.9 982.5 L1833.0 983.3 L1837.1 982.1 L1840.4 983.3 L1844.7 983.9 L1848.0 981.1 L1852.2 983.5 L1855.3 982.0 L1859.8 979.9 L1863.4 982.6 L1867.1 985.2 L1870.2 985.7 L1874.6 986.1 L1877.9 988.2 L1881.3 988.7 L1885.0 988.9 L1889.1 990.6 L1893.2 990.8 L1896.4 989.9 L1900.4 990.3 L1904.0 988.3 L1907.9 989.1 L1911.4 990.2 L1915.0 991.5 L1918.8 992.1 L1922.1 989.5 L1926.8 989.5 L1929.5 990.7 L1933.3 991.4 L1937.5 992.3 L1941.3 993.2 L1945.4 991.5 L1948.1 993.0 L1952.1 992.8 L1956.5 990.1 L1959.8 990.0 L1963.7 991.5 L1967.3 993.2 L1971.0 991.5 L1974.2 995.4 L1978.5 991.9 L1981.9 992.8 L1986.1 993.3 L1989.1 993.1 L1990.7 994.4" fill="none" stroke="#beb446" stroke-width="1.2" stroke-linejoin="round"/>
<path d="M1617.5 993.3 L1621.5 994.8 L1624.8 992.4 L1629.0 994.4 L1632.2 990.5 L1636.0 992.9 L1639.6 991.8 L1643.2 994.3 L1646.8 993.8 L1650.7 993.7 L1654.2 994.0 L1658.7 994.6 L1661.7 993.4 L1666.3 993.5 L1669.7 994.2 L1672.8 992.5 L1677.2 993.0 L1680.6 994.4 L1684.4 991.3 L1687.7 987.9 L1692.3 990.3 L1695.1 987.7 L1699.5 988.2 L1702.7 990.1 L1707.3 989.1 L1710.8 987.5 L1714.7 988.0 L1718.1 989.5 L1721.8 986.7 L1725.2 986.1 L1729.4 988.6 L1732.8 987.6 L1736.5 988.2 L1740.4 985.5 L1744.4 986.0 L1747.6 987.4 L1751.5 985.8 L1754.8 985.3 L1759.1 987.3 L1762.1 983.3 L1766.6 984.4 L1770.1 986.7 L1774.1 985.9 L1777.1 985.4 L1780.8 985.0 L1784.5 983.8 L1788.1 984.3 L1792.5 985.0 L1795.5 986.8 L1800.3 984.8 L1803.8 982.6 L1806.9 986.4 L1810.5 986.2 L1814.2 985.2 L1818.3 988.0 L1822.2 983.7 L1826.1 986.1 L1829.6 984.2 L1832.7 986.2 L1837.3 985.8 L1840.5 985.2 L1844.8 986.3 L1848.0 989.8 L1851.8 989.6 L1855.1 994.4 L1858.8 994.0 L1863.4 992.8 L1866.7 994.2 L1870.8 994.6 L1874.0 994.1 L1877.6 995.1 L1882.0 991.1 L1885.2 989.8 L1889.1 990.4 L1892.6 989.9 L1896.6 989.6 L1900.3 992.8 L1904.4 990.9 L1907.6 988.7 L1911.1 989.3 L1914.9 989.4 L1918.8 991.1 L1922.5 989.8 L1926.3 992.5 L1930.4 990.6 L1933.3 990.7 L1937.9 991.3 L1941.4 992.6 L1945.3 991.7 L1948.8 990.8 L1952.7 993.0 L1955.9 992.7 L1959.8 992.9 L1963.9 993.7 L1967.1 992.7 L1970.9 990.2 L1974.7 993.7 L1978.0 990.9 L1982.1 994.5 L1985.4 991.8 L1989.7 995.3 L1990.7 993.2" fill="none" stroke="#9cb040" stroke-width="1.2" stroke-linejoin="round"/>
<path d="M1617.5 994.7 L1621.1 995.2 L1624.4 992.4 L1628.2 993.0 L1632.3 995.3 L1636.5 994.2 L1640.3 991.7 L1643.2 994.3 L1647.4 993.7 L1651.4 991.7 L1655.1 993.3 L1658.0 992.7 L1661.9 994.4 L1666.4 991.6 L1669.9 992.1 L1673.5 991.8 L1676.7 991.5 L1681.1 992.5 L1684.2 990.9 L1688.1 991.4 L1691.7 993.3 L1695.8 990.9 L1698.9 990.8 L1702.6 988.7 L1707.2 987.4 L1710.6 987.6 L1714.1 988.1 L1717.7 987.0 L1722.2 988.7 L1725.6 984.2 L1728.7 986.7 L1733.2 986.7 L1736.2 985.9 L1740.3 986.8 L1743.9 985.5 L1747.6 983.2 L1751.9 984.8 L1755.6 984.1 L1759.1 986.5 L1762.3 985.4 L1766.1 984.0 L1770.4 983.8 L1774.2 985.0 L1776.9 983.2 L1781.6 983.6 L1785.2 984.7 L1789.0 983.8 L1792.4 983.5 L1796.1 984.4 L1799.4 983.4 L1804.0 987.2 L1806.9 983.9 L1810.8 986.0 L1814.3 985.9 L1817.9 984.7 L1821.8 982.8 L1825.7 985.2 L1829.1 986.3 L1833.1 984.8 L1836.9 985.6 L1841.2 988.5 L1844.2 988.3 L1848.2 988.9 L1851.8 989.0 L1855.6 996.0 L1859.2 1001.2 L1863.4 1000.3 L1866.8 1000.9 L1870.5 997.6 L1874.4 999.6 L1877.4 998.6 L1882.1 994.9 L1885.1 993.5 L1888.5 994.2 L1892.8 989.8 L1896.2 990.2 L1900.7 990.1 L1903.5 987.3 L1907.5 987.5 L1911.0 992.2 L1915.1 992.7 L1919.1 988.9 L1922.4 990.1 L1926.1 992.1 L1929.7 992.6 L1933.6 991.0 L1937.3 990.2 L1941.1 989.4 L1944.7 989.9 L1948.7 990.6 L1952.2 991.5 L1955.9 991.8 L1959.8 991.5 L1963.5 992.6 L1967.3 991.0 L1970.4 990.4 L1974.5 992.3 L1978.8 989.2 L1982.2 992.9 L1985.6 990.1 L1989.8 995.0 L1990.7 993.4" fill="none" stroke="#84ac44" stroke-width="1.2" stroke-linejoin="round"/>
<path d="M1617.5 996.1 L1621.5 994.6 L1625.0 992.1 L1628.9 994.7 L1632.4 994.2 L1635.7 992.8 L1640.2 994.0 L1643.3 993.7 L1647.6 991.5 L1650.8 995.8 L1654.4 993.9 L1658.6 992.7 L1662.1 992.9 L1665.3 990.9 L1670.0 992.8 L1672.9 991.9 L1676.7 992.3 L1680.7 990.9 L1684.3 990.9 L1687.8 988.2 L1691.7 990.6 L1696.1 992.2 L1699.3 987.6 L1703.2 989.4 L1706.5 987.1 L1710.9 987.7 L1714.2 988.7 L1717.4 987.0 L1722.1 987.3 L1725.4 984.5 L1729.0 986.4 L1732.5 986.6 L1736.3 984.6 L1740.0 987.1 L1743.7 983.4 L1747.3 986.6 L1751.7 984.6 L1755.1 984.8 L1758.8 983.3 L1762.1 984.9 L1766.0 984.9 L1769.9 982.7 L1773.7 982.8 L1777.0 982.0 L1780.9 981.4 L1784.9 983.7 L1788.2 982.6 L1792.0 983.6 L1796.3 983.6 L1799.6 983.0 L1803.0 984.2 L1806.7 984.1 L1810.4 982.3 L1814.6 983.2 L1818.4 984.2 L1822.3 984.8 L1825.8 984.2 L1830.0 984.9 L1833.2 984.1 L1836.5 986.2 L1840.3 986.8 L1844.8 989.7 L1847.7 987.2 L1852.4 993.2 L1856.0 995.8 L1859.0 1002.0 L1863.2 1002.9 L1866.6 1003.2 L1870.3 1004.0 L1874.0 1004.3 L1878.3 1003.3 L1881.7 997.9 L1884.9 995.7 L1888.5 993.6 L1893.3 991.5 L1896.3 990.5 L1899.8 992.5 L1904.5 991.3 L1907.5 989.2 L1911.0 991.7 L1915.2 991.1 L1919.0 988.7 L1922.6 988.4 L1926.6 990.1 L1930.5 991.0 L1933.9 991.0 L1936.9 993.4 L1940.7 991.3 L1944.4 991.4 L1948.3 991.5 L1952.7 991.5 L1955.5 990.3 L1959.8 992.1 L1963.9 991.0 L1967.1 990.8 L1970.6 993.0 L1974.8 991.5 L1978.4 993.6 L1982.3 993.3 L1985.3 990.2 L1989.1 993.8 L1990.7 992.4" fill="none" stroke="#6aa44e" stroke-width="1.2" stroke-linejoin="round"/>
<path d="M1617.5 994.0 L1621.1 994.6 L1624.6 992.6 L1628.8 993.0 L1631.9 992.5 L1636.5 992.6 L1639.4 994.0 L1643.6 993.1 L1646.9 991.5 L1651.0 992.5 L1654.9 995.0 L1658.9 991.5 L1661.8 991.3 L1665.5 992.2 L1669.9 992.3 L1673.6 992.4 L1677.5 989.4 L1681.1 988.4 L1684.1 991.5 L1687.8 991.4 L1691.6 987.5 L1696.2 989.6 L1699.4 987.1 L1702.7 986.5 L1707.3 987.9 L1710.3 987.2 L1714.1 986.3 L1717.7 986.0 L1721.7 986.6 L1725.9 985.1 L1729.5 987.1 L1732.3 984.5 L1736.7 983.4 L1740.1 983.3 L1744.1 984.0 L1747.6 982.6 L1751.3 983.0 L1754.6 984.1 L1758.6 980.8 L1763.1 979.8 L1765.9 983.4 L1770.4 981.7 L1773.8 981.1 L1777.3 982.1 L1780.9 980.2 L1785.4 982.7 L1788.3 981.7 L1792.9 982.2 L1795.8 981.8 L1799.8 982.3 L1804.0 982.0 L1806.7 981.2 L1811.5 981.5 L1815.1 983.6 L1818.6 983.3 L1822.6 984.1 L1825.3 980.6 L1829.5 985.9 L1833.7 984.3 L1837.4 984.4 L1841.0 987.0 L1844.7 986.1 L1848.3 989.2 L1852.1 993.0 L1855.6 997.8 L1858.9 1006.4 L1863.4 1011.1 L1867.2 1010.5 L1870.8 1010.0 L1874.2 1007.0 L1877.9 1005.1 L1882.1 1004.8 L1885.5 997.4 L1889.5 993.6 L1892.7 992.3 L1896.0 992.6 L1899.9 993.4 L1903.5 989.1 L1907.5 991.0 L1911.0 991.0 L1915.4 988.5 L1918.8 989.2 L1922.7 988.8 L1925.9 991.3 L1930.0 990.5 L1933.3 991.8 L1937.3 990.6 L1941.1 990.0 L1945.4 991.4 L1948.8 989.9 L1952.4 994.8 L1956.3 992.1 L1959.6 990.7 L1963.0 991.7 L1967.5 992.4 L1970.6 992.4 L1974.4 989.6 L1978.2 990.6 L1982.2 993.2 L1986.0 994.4 L1989.3 989.9 L1990.7 994.2" fill="none" stroke="#5a9c5a" stroke-width="1.2" stroke-linejoin="round"/>
<path d="M1617.5 992.8 L1621.4 992.4 L1624.9 992.4 L1628.3 992.1 L1631.8 994.1 L1636.4 991.5 L1639.7 992.0 L1643.4 992.7 L1646.9 992.7 L1651.3 992.0 L1654.6 991.4 L1658.5 991.6 L1661.7 990.8 L1666.3 993.4 L1669.6 990.8 L1673.8 990.7 L1676.8 990.2 L1680.2 990.5 L1684.9 991.7 L1688.0 989.9 L1691.7 990.3 L1695.8 988.2 L1699.4 989.8 L1703.0 987.4 L1706.7 989.8 L1710.7 987.3 L1714.0 985.4 L1717.4 985.4 L1722.0 984.5 L1725.0 986.3 L1729.4 985.3 L1733.1 983.9 L1736.8 988.8 L1740.2 984.1 L1743.9 982.4 L1747.2 982.6 L1751.3 980.7 L1755.0 980.7 L1758.4 982.5 L1762.4 980.4 L1766.5 979.9 L1770.4 979.4 L1774.0 979.3 L1777.9 978.8 L1781.6 980.7 L1785.3 980.5 L1788.6 981.2 L1791.8 980.7 L1796.2 979.8 L1799.3 979.9 L1803.0 979.3 L1807.3 980.9 L1810.7 979.0 L1814.9 981.4 L1818.6 980.1 L1822.4 980.2 L1826.0 981.7 L1829.6 980.2 L1832.9 982.4 L1837.4 984.6 L1841.1 985.2 L1844.2 985.8 L1848.7 991.5 L1851.9 995.1 L1856.0 1002.6 L1859.4 1009.1 L1863.4 1016.8 L1866.6 1015.4 L1870.5 1014.2 L1874.3 1015.1 L1878.1 1010.9 L1881.9 1004.9 L1884.9 1001.6 L1889.0 995.9 L1892.7 993.2 L1896.8 992.4 L1899.8 988.8 L1903.4 992.3 L1908.2 991.9 L1911.8 991.3 L1914.8 991.0 L1918.4 991.9 L1922.0 991.0 L1926.1 989.2 L1930.3 988.1 L1933.7 989.6 L1937.9 991.9 L1941.5 990.9 L1944.8 990.0 L1948.6 991.4 L1952.6 992.8 L1956.4 990.8 L1960.2 989.1 L1963.1 990.9 L1967.2 993.2 L1970.9 991.7 L1974.3 989.3 L1978.0 992.2 L1981.6 992.1 L1985.8 993.8 L1989.6 994.0 L1990.7 992.9" fill="none" stroke="#4f9464" stroke-width="1.2" stroke-linejoin="round"/>
<path d="M1617.5 991.9 L1620.8 989.7 L1625.2 991.9 L1628.6 995.3 L1631.9 994.7 L1635.6 992.7 L1640.0 990.1 L1643.6 993.3 L1647.1 994.0 L1650.5 990.1 L1654.4 993.6 L1659.0 992.6 L1661.7 993.6 L1665.3 992.5 L1669.6 991.8 L1672.9 991.9 L1677.1 991.9 L1680.7 990.1 L1684.2 988.2 L1688.7 990.3 L1691.8 991.1 L1696.1 986.8 L1699.3 988.8 L1703.2 986.9 L1706.3 985.8 L1710.1 988.4 L1714.0 987.3 L1717.4 985.4 L1721.6 985.9 L1725.2 985.4 L1729.6 983.9 L1733.0 983.7 L1736.3 984.8 L1740.5 985.2 L1743.9 983.1 L1748.2 983.7 L1751.2 984.4 L1755.0 982.7 L1759.3 979.6 L1763.0 982.4 L1766.2 982.1 L1769.8 980.3 L1773.9 981.0 L1777.0 982.0 L1781.0 982.1 L1785.3 982.9 L1788.4 980.9 L1792.7 982.9 L1795.7 979.3 L1799.3 979.9 L1803.9 980.5 L1806.8 982.5 L1810.7 982.5 L1814.2 982.2 L1818.8 980.3 L1821.7 979.4 L1825.6 981.6 L1829.4 985.7 L1832.9 984.2 L1837.1 983.3 L1840.5 986.4 L1843.9 986.6 L1848.5 989.7 L1851.9 993.9 L1856.0 1000.6 L1859.6 1008.6 L1862.5 1014.4 L1867.1 1013.8 L1870.3 1014.0 L1874.5 1012.6 L1877.4 1008.5 L1881.8 1004.6 L1885.8 1002.1 L1888.9 994.0 L1893.0 991.6 L1896.2 994.8 L1900.5 991.0 L1904.2 990.2 L1907.7 989.7 L1911.7 990.4 L1914.8 988.7 L1919.1 989.6 L1922.4 990.2 L1926.6 990.3 L1930.1 992.2 L1933.9 990.0 L1937.3 994.2 L1941.5 993.3 L1944.8 990.6 L1948.2 991.6 L1952.1 991.5 L1956.4 990.2 L1959.3 990.4 L1963.8 993.3 L1966.7 991.1 L1970.4 991.8 L1974.5 991.5 L1977.9 992.2 L1982.6 994.2 L1985.7 989.2 L1989.2 993.9 L1990.7 993.0" fill="none" stroke="#7ab04a" stroke-width="1.2" stroke-linejoin="round"/>
<path d="M1617.5 994.8 L1621.3 995.7 L1625.2 994.6 L1628.6 994.0 L1632.1 994.2 L1635.6 994.5 L1639.3 994.0 L1643.7 994.2 L1646.9 996.2 L1651.4 993.9 L1655.1 993.8 L1657.9 993.0 L1661.7 993.0 L1665.8 992.5 L1669.5 992.5 L1673.6 992.6 L1677.1 992.4 L1680.9 991.9 L1684.8 990.4 L1687.9 992.0 L1692.0 990.8 L1695.3 988.4 L1699.4 991.5 L1703.0 991.6 L1707.0 988.5 L1710.2 989.7 L1714.5 987.1 L1718.3 987.7 L1721.6 988.8 L1725.2 989.6 L1729.6 988.8 L1732.4 989.5 L1736.6 988.8 L1740.2 990.0 L1743.8 986.6 L1747.7 988.9 L1751.0 989.4 L1754.8 989.8 L1758.9 989.7 L1762.7 987.7 L1766.6 989.2 L1769.5 989.6 L1773.7 989.6 L1777.9 990.4 L1781.0 988.6 L1785.0 990.8 L1788.3 990.3 L1792.1 989.7 L1796.2 990.8 L1800.3 990.3 L1803.1 989.2 L1807.3 988.8 L1810.5 989.0 L1815.0 990.7 L1818.0 989.3 L1821.6 990.4 L1826.2 990.9 L1829.1 988.9 L1832.8 990.3 L1837.1 990.4 L1841.2 989.1 L1844.4 989.0 L1847.7 989.5 L1852.0 989.1 L1855.8 989.6 L1859.8 990.4 L1863.1 988.1 L1866.6 988.4 L1870.8 986.4 L1874.3 986.7 L1877.8 984.4 L1881.3 986.9 L1884.8 985.1 L1889.4 986.7 L1893.2 985.4 L1896.5 984.9 L1899.9 986.1 L1904.3 986.8 L1908.2 988.3 L1911.5 987.7 L1915.5 987.1 L1918.8 988.8 L1923.1 988.7 L1925.9 988.1 L1929.5 987.7 L1933.7 990.4 L1938.0 990.4 L1941.0 990.4 L1944.4 990.0 L1949.0 990.5 L1951.9 992.2 L1956.3 991.0 L1959.9 991.4 L1963.3 992.0 L1967.5 990.1 L1970.4 992.5 L1974.5 992.9 L1978.0 992.0 L1982.3 992.7 L1985.9 992.8 L1989.9 994.9 L1990.7 995.0" fill="none" stroke="#3f6a78" stroke-width="1.25" stroke-linejoin="round"/>
<path d="M1617.5 994.1 L1621.0 995.9 L1625.2 995.2 L1628.7 993.7 L1632.6 996.4 L1636.3 992.9 L1639.7 993.2 L1643.7 994.2 L1647.6 995.2 L1651.0 993.1 L1655.1 993.9 L1658.2 994.4 L1662.4 994.8 L1665.7 992.9 L1670.0 993.2 L1673.4 992.4 L1676.6 991.6 L1680.6 991.3 L1683.9 989.1 L1688.4 992.4 L1691.6 991.4 L1695.5 990.4 L1699.1 990.0 L1703.0 990.6 L1706.5 990.6 L1711.0 989.4 L1713.8 990.7 L1717.9 990.4 L1721.4 991.3 L1725.3 991.7 L1728.9 991.0 L1732.3 990.5 L1736.6 987.8 L1740.8 989.2 L1744.4 988.0 L1747.9 990.5 L1750.9 991.5 L1755.1 988.8 L1758.7 989.7 L1762.2 988.9 L1766.1 994.1 L1770.1 990.9 L1773.5 990.6 L1777.7 990.5 L1781.3 994.1 L1784.8 993.2 L1788.6 992.6 L1792.1 993.5 L1796.0 994.4 L1799.4 994.6 L1803.9 994.4 L1807.6 993.3 L1810.4 993.1 L1814.2 992.6 L1818.8 992.7 L1822.1 994.7 L1825.7 993.3 L1829.1 992.1 L1832.8 992.2 L1837.0 991.2 L1841.2 991.7 L1844.3 991.2 L1848.6 991.7 L1851.7 991.1 L1856.0 987.8 L1859.2 990.3 L1862.9 987.4 L1866.5 986.7 L1869.9 983.0 L1873.9 983.8 L1877.8 982.9 L1881.1 982.7 L1885.2 984.0 L1889.2 983.7 L1892.3 984.0 L1896.9 983.6 L1900.2 982.6 L1904.1 983.5 L1907.8 985.7 L1911.8 985.3 L1914.6 985.8 L1919.1 987.3 L1922.7 986.3 L1926.3 989.9 L1929.8 986.7 L1933.7 986.8 L1937.7 991.9 L1941.4 990.3 L1945.4 990.3 L1948.3 990.8 L1951.8 990.4 L1956.5 990.9 L1959.3 991.8 L1963.4 992.4 L1967.4 992.1 L1970.4 992.7 L1974.8 992.6 L1978.6 993.3 L1981.5 994.0 L1985.5 994.8 L1989.7 996.3 L1990.7 996.4" fill="none" stroke="#4f8686" stroke-width="1.25" stroke-linejoin="round"/>
<path d="M1617.5 993.9 L1621.2 997.3 L1624.8 993.4 L1628.1 997.4 L1632.0 994.9 L1636.4 992.5 L1639.8 995.0 L1643.2 995.3 L1647.5 995.5 L1651.4 994.1 L1655.1 995.0 L1658.1 994.0 L1661.8 994.0 L1665.9 991.4 L1670.1 992.8 L1672.9 991.9 L1677.0 992.6 L1680.5 991.1 L1684.1 992.6 L1688.5 992.8 L1692.1 992.9 L1696.1 991.1 L1699.8 991.4 L1702.9 991.0 L1706.3 990.5 L1710.1 990.5 L1714.4 989.6 L1718.3 988.9 L1721.5 991.7 L1724.9 991.6 L1728.9 989.5 L1732.3 988.3 L1736.7 991.6 L1740.3 988.5 L1744.1 990.2 L1747.6 991.0 L1751.4 992.2 L1754.9 992.9 L1758.6 992.4 L1762.6 993.4 L1766.8 994.8 L1769.8 995.8 L1773.7 996.4 L1777.8 997.4 L1780.8 997.3 L1784.6 997.5 L1788.9 997.3 L1792.6 997.5 L1795.8 998.6 L1799.5 1000.2 L1803.4 999.6 L1807.4 998.6 L1810.8 997.0 L1814.2 999.8 L1818.9 998.1 L1822.2 998.7 L1825.6 998.0 L1829.8 996.8 L1833.8 997.6 L1836.7 996.9 L1840.7 993.3 L1844.5 993.8 L1848.0 992.1 L1852.2 992.8 L1855.5 991.0 L1858.8 989.2 L1863.6 985.1 L1866.2 983.5 L1870.4 981.4 L1874.2 981.3 L1877.3 978.0 L1881.8 979.1 L1885.1 979.4 L1888.9 979.4 L1892.6 978.5 L1896.9 978.7 L1900.2 979.3 L1904.0 981.2 L1907.6 983.1 L1911.6 984.4 L1915.3 983.3 L1918.3 985.5 L1922.1 984.4 L1926.0 986.8 L1930.1 986.8 L1933.5 987.1 L1936.9 988.3 L1941.6 989.9 L1944.4 988.4 L1948.8 988.8 L1952.7 990.4 L1955.7 990.2 L1959.2 992.4 L1963.6 989.6 L1966.8 992.1 L1970.5 991.8 L1974.8 992.8 L1978.8 995.4 L1982.6 993.9 L1985.6 995.6 L1990.0 996.8 L1990.7 995.4" fill="none" stroke="#4b8084" stroke-width="1.25" stroke-linejoin="round"/>
<path d="M1617.5 995.4 L1620.7 994.9 L1625.3 994.4 L1629.1 994.8 L1632.8 993.4 L1636.6 992.7 L1639.3 994.9 L1643.9 994.6 L1647.8 992.7 L1651.1 993.2 L1654.2 992.3 L1657.9 993.1 L1662.1 995.1 L1665.5 992.6 L1669.3 993.3 L1673.4 992.9 L1677.2 992.2 L1681.2 992.5 L1684.9 993.4 L1688.0 991.6 L1692.0 991.5 L1695.6 990.8 L1698.9 992.0 L1702.5 992.8 L1706.9 989.5 L1710.6 992.0 L1714.6 991.1 L1718.4 992.2 L1721.4 991.6 L1725.9 990.4 L1728.6 991.6 L1733.0 991.3 L1736.8 993.8 L1740.1 993.1 L1744.5 993.7 L1747.4 992.2 L1751.8 992.3 L1755.6 995.5 L1758.6 994.7 L1762.4 996.3 L1766.1 997.5 L1770.2 1000.5 L1773.8 998.9 L1777.7 999.9 L1781.7 1001.7 L1784.6 1002.9 L1788.7 1004.3 L1792.2 1002.3 L1795.7 1005.0 L1800.2 1003.6 L1803.9 1004.0 L1807.4 1004.2 L1811.2 1004.4 L1814.6 1004.4 L1818.2 1003.6 L1822.3 1002.2 L1826.2 1002.2 L1829.3 1000.8 L1833.2 999.7 L1837.5 1000.4 L1840.5 997.7 L1843.9 996.9 L1848.0 997.7 L1852.3 992.2 L1856.1 990.1 L1859.7 987.6 L1863.0 987.4 L1866.7 983.2 L1870.7 980.7 L1874.5 978.2 L1877.4 977.6 L1881.3 976.6 L1885.4 973.8 L1888.9 976.8 L1892.3 976.8 L1896.8 975.8 L1899.8 978.0 L1903.9 979.9 L1908.0 979.9 L1911.4 981.4 L1914.7 982.2 L1918.4 982.6 L1922.7 984.4 L1926.4 984.7 L1930.4 986.0 L1933.4 988.9 L1937.4 987.3 L1941.5 988.9 L1945.0 988.4 L1948.7 988.3 L1952.3 989.2 L1956.2 992.5 L1959.7 990.2 L1963.5 992.1 L1967.1 992.5 L1971.1 991.4 L1975.2 995.2 L1978.2 993.7 L1981.7 994.7 L1985.6 994.8 L1989.7 996.6 L1990.7 997.3" fill="none" stroke="#487a82" stroke-width="1.25" stroke-linejoin="round"/>
<path d="M1617.5 995.0 L1620.9 995.0 L1624.7 994.0 L1628.7 994.3 L1632.2 993.4 L1636.2 992.8 L1640.1 993.2 L1643.9 992.1 L1647.2 994.1 L1651.4 993.7 L1654.5 992.3 L1658.5 992.7 L1661.6 993.1 L1666.3 993.0 L1669.4 994.0 L1673.8 994.3 L1677.5 993.9 L1681.3 991.3 L1684.1 993.0 L1687.9 992.4 L1691.7 991.4 L1695.4 992.2 L1699.7 991.7 L1703.5 991.9 L1707.3 990.0 L1710.5 992.8 L1714.2 993.8 L1717.9 991.3 L1722.0 993.1 L1725.7 992.3 L1729.1 993.3 L1733.0 993.0 L1736.8 995.2 L1740.7 993.0 L1743.7 994.8 L1747.7 995.1 L1751.4 997.2 L1754.8 999.1 L1758.9 999.6 L1763.1 1000.5 L1766.7 1001.9 L1769.9 1005.1 L1774.0 1004.9 L1777.4 1006.2 L1780.7 1008.7 L1785.1 1009.2 L1789.1 1010.8 L1792.3 1009.2 L1796.4 1011.8 L1799.2 1011.0 L1804.0 1013.0 L1806.7 1010.7 L1810.9 1010.2 L1814.8 1008.3 L1817.9 1006.5 L1822.0 1007.5 L1826.3 1007.4 L1829.3 1005.3 L1833.3 1004.8 L1836.9 1002.6 L1840.8 1001.9 L1844.4 999.9 L1848.3 996.5 L1852.4 995.2 L1855.2 991.4 L1859.6 986.2 L1863.5 987.1 L1866.2 980.9 L1870.9 976.1 L1874.5 976.5 L1877.4 972.4 L1881.9 970.9 L1884.8 970.7 L1888.9 971.8 L1892.6 972.7 L1897.0 973.8 L1900.8 973.6 L1903.8 974.1 L1907.4 977.8 L1911.7 977.4 L1915.0 979.1 L1918.5 979.9 L1922.9 982.5 L1925.9 984.5 L1930.2 985.1 L1933.9 984.5 L1937.2 988.1 L1941.1 988.6 L1945.2 989.0 L1948.4 988.5 L1952.4 988.7 L1956.2 992.1 L1960.1 991.1 L1963.6 991.0 L1967.7 991.2 L1970.7 992.6 L1974.1 992.4 L1978.2 994.7 L1981.8 993.8 L1985.7 995.0 L1989.7 997.0 L1990.7 996.5" fill="none" stroke="#447480" stroke-width="1.25" stroke-linejoin="round"/>
<path d="M1617.5 995.7 L1621.3 994.9 L1624.9 995.7 L1628.2 995.3 L1632.9 993.1 L1636.3 997.2 L1639.3 994.9 L1643.2 993.2 L1646.9 995.0 L1651.0 994.0 L1654.7 992.0 L1658.0 994.8 L1662.2 994.7 L1665.4 994.3 L1669.7 993.0 L1673.6 992.4 L1677.3 992.6 L1681.1 991.5 L1684.4 994.5 L1688.6 992.4 L1692.3 992.8 L1695.6 992.3 L1699.5 993.1 L1703.5 993.7 L1706.5 992.5 L1710.7 993.6 L1714.2 993.9 L1717.7 991.5 L1721.3 992.4 L1725.7 993.7 L1729.3 993.9 L1732.8 996.5 L1736.9 995.5 L1740.4 996.7 L1743.5 997.8 L1748.0 999.1 L1751.0 999.4 L1754.9 1001.4 L1759.4 1003.3 L1762.1 1005.6 L1766.4 1007.0 L1769.7 1009.5 L1773.9 1011.5 L1777.5 1014.0 L1781.0 1014.4 L1784.5 1016.8 L1788.1 1018.2 L1792.5 1019.0 L1795.8 1019.7 L1799.4 1017.7 L1803.5 1019.7 L1807.2 1020.4 L1810.8 1018.5 L1814.4 1018.3 L1818.3 1016.8 L1821.8 1016.0 L1825.7 1013.7 L1829.2 1012.0 L1832.8 1010.6 L1837.4 1008.4 L1840.8 1006.0 L1844.0 1004.7 L1848.1 1001.1 L1852.4 997.3 L1855.0 992.7 L1859.8 986.7 L1862.5 984.3 L1866.2 978.4 L1870.4 974.6 L1874.4 972.5 L1878.1 967.0 L1881.4 968.9 L1885.0 967.8 L1888.9 967.5 L1892.7 966.3 L1896.0 967.0 L1900.4 969.9 L1903.9 971.9 L1907.6 972.8 L1911.0 973.2 L1915.2 976.5 L1918.8 978.5 L1922.0 978.5 L1926.5 980.8 L1930.0 981.8 L1934.1 984.1 L1937.3 984.3 L1941.1 985.2 L1944.9 986.5 L1948.5 988.5 L1952.1 990.3 L1956.2 990.8 L1960.1 989.3 L1963.8 992.6 L1967.3 990.8 L1970.6 993.7 L1975.0 993.0 L1978.1 994.7 L1982.6 995.1 L1986.0 994.9 L1989.5 997.5 L1990.7 997.3" fill="none" stroke="#3f6c7a" stroke-width="1.25" stroke-linejoin="round"/>
<path d="M1617.5 994.6 L1620.7 995.3 L1624.9 996.0 L1628.5 996.1 L1632.6 995.3 L1636.4 994.2 L1640.2 995.2 L1643.8 993.3 L1647.4 996.2 L1651.1 994.3 L1654.7 994.5 L1658.3 994.2 L1662.1 993.8 L1665.5 991.3 L1670.1 995.1 L1673.7 991.9 L1677.4 995.1 L1680.7 993.1 L1684.2 991.6 L1688.6 992.8 L1691.9 993.6 L1695.6 992.2 L1699.5 992.2 L1702.8 993.2 L1706.3 991.5 L1710.2 993.1 L1714.7 992.5 L1717.7 993.2 L1721.8 996.2 L1725.8 992.9 L1729.6 995.0 L1732.4 994.2 L1736.1 997.6 L1740.6 994.8 L1744.4 997.3 L1747.1 999.3 L1750.9 1000.5 L1754.7 1003.5 L1758.3 1003.1 L1763.0 1004.8 L1766.0 1006.9 L1770.1 1011.5 L1774.0 1013.3 L1777.2 1014.0 L1780.7 1016.1 L1784.6 1017.0 L1788.2 1021.1 L1792.1 1020.6 L1796.1 1021.3 L1799.5 1020.3 L1803.5 1023.0 L1807.1 1021.8 L1811.4 1021.2 L1814.9 1020.1 L1818.0 1016.6 L1822.3 1016.8 L1825.6 1014.3 L1829.1 1014.4 L1833.2 1010.4 L1837.1 1009.6 L1840.6 1007.4 L1844.1 1003.0 L1848.5 1004.1 L1852.3 999.7 L1855.8 995.0 L1859.5 987.1 L1862.7 977.2 L1867.2 968.0 L1870.6 959.5 L1873.9 954.0 L1877.9 947.6 L1881.9 944.4 L1884.9 943.1 L1889.0 943.1 L1892.7 945.2 L1897.0 948.7 L1900.4 948.2 L1903.7 954.1 L1907.4 955.2 L1911.5 959.3 L1915.5 965.0 L1918.8 966.9 L1923.0 968.3 L1926.0 971.4 L1929.8 975.1 L1933.6 976.8 L1937.7 978.1 L1940.8 981.8 L1945.2 984.8 L1949.0 983.5 L1952.6 986.2 L1955.7 987.7 L1959.4 987.6 L1963.6 990.7 L1967.7 991.6 L1970.7 992.6 L1974.7 991.8 L1978.6 995.6 L1982.6 996.6 L1986.3 998.0 L1989.6 1002.5 L1990.7 1001.4" fill="none" stroke="#9b45cc" stroke-width="1.25" stroke-linejoin="round"/>
<path d="M1617.5 996.7 L1620.8 994.6 L1624.8 995.3 L1628.3 995.9 L1632.4 994.4 L1635.7 994.1 L1639.4 994.1 L1643.3 996.5 L1647.6 994.8 L1651.0 995.2 L1654.6 994.1 L1658.2 996.3 L1661.8 994.5 L1665.9 995.6 L1669.4 995.5 L1673.7 993.9 L1677.5 994.8 L1680.9 993.1 L1684.9 992.6 L1688.3 992.3 L1692.3 993.7 L1695.3 995.6 L1699.4 994.6 L1702.6 996.0 L1706.5 996.1 L1710.5 995.1 L1713.9 995.4 L1718.5 996.3 L1721.8 996.6 L1725.3 998.0 L1729.3 998.0 L1733.1 1002.0 L1736.1 1002.6 L1740.3 1002.7 L1744.1 1004.6 L1747.4 1007.2 L1752.0 1008.7 L1755.1 1014.1 L1758.6 1016.9 L1762.1 1019.5 L1765.8 1027.4 L1769.5 1026.9 L1773.5 1031.8 L1778.0 1037.2 L1781.4 1039.6 L1785.1 1041.6 L1789.0 1045.4 L1792.2 1044.7 L1795.8 1045.3 L1799.8 1048.3 L1803.9 1047.3 L1807.3 1047.5 L1811.2 1045.5 L1814.1 1045.6 L1818.0 1041.3 L1822.5 1039.0 L1826.2 1035.3 L1830.1 1033.6 L1833.2 1028.4 L1836.8 1025.8 L1841.1 1020.9 L1844.6 1015.2 L1848.7 1006.4 L1852.0 1001.5 L1856.0 994.3 L1859.8 987.1 L1862.5 980.2 L1866.4 975.8 L1870.4 970.1 L1874.7 965.8 L1878.3 963.4 L1881.2 961.3 L1885.7 958.7 L1888.6 959.8 L1893.0 959.8 L1896.0 963.2 L1900.4 963.4 L1904.1 964.9 L1907.1 966.7 L1911.8 970.6 L1915.5 971.7 L1919.0 973.4 L1922.8 974.8 L1926.3 977.5 L1930.3 980.1 L1933.9 981.1 L1937.6 983.8 L1941.3 984.0 L1944.7 986.6 L1948.7 985.9 L1952.7 988.4 L1955.8 989.9 L1960.1 988.8 L1963.0 992.6 L1967.3 991.0 L1971.4 992.1 L1974.2 992.2 L1978.7 994.3 L1982.3 995.9 L1986.1 998.0 L1989.2 997.1 L1990.7 999.0" fill="none" stroke="#3f6a78" stroke-width="1.25" stroke-linejoin="round"/>
<path d="M1617.5 995.7 L1621.3 995.0 L1625.3 997.0 L1629.2 996.8 L1632.3 996.3 L1636.1 994.2 L1639.7 995.0 L1643.6 994.0 L1647.8 995.6 L1650.9 995.6 L1654.5 995.2 L1658.4 995.7 L1662.4 995.2 L1666.0 996.0 L1669.4 995.5 L1673.0 994.6 L1676.8 993.1 L1680.7 996.0 L1685.0 993.7 L1687.8 993.6 L1691.4 995.3 L1695.5 995.9 L1698.8 994.6 L1703.2 995.4 L1706.4 996.4 L1710.3 993.8 L1714.5 996.7 L1717.5 997.3 L1721.6 998.5 L1725.9 1000.4 L1728.9 999.7 L1733.0 1001.1 L1736.3 1004.3 L1740.1 1004.1 L1744.0 1007.7 L1747.8 1009.4 L1751.2 1011.5 L1754.6 1016.7 L1758.4 1019.1 L1762.6 1023.0 L1766.4 1027.0 L1770.1 1033.1 L1773.5 1036.7 L1777.1 1039.4 L1781.7 1042.4 L1784.8 1046.3 L1789.0 1049.0 L1792.7 1051.1 L1796.2 1052.8 L1800.3 1052.3 L1803.6 1052.7 L1807.3 1053.6 L1811.1 1050.8 L1814.7 1050.8 L1818.7 1044.2 L1821.7 1044.9 L1826.3 1040.2 L1829.9 1036.1 L1833.8 1034.7 L1837.2 1028.2 L1841.3 1022.8 L1843.9 1017.6 L1847.7 1013.6 L1851.8 1006.6 L1855.2 997.7 L1858.9 987.0 L1863.2 975.2 L1866.8 960.7 L1870.2 947.3 L1874.4 936.6 L1878.5 930.4 L1881.3 927.4 L1885.6 922.3 L1889.2 923.5 L1892.7 925.4 L1896.5 926.8 L1900.3 930.8 L1903.8 937.9 L1907.3 941.0 L1911.9 943.4 L1915.3 950.2 L1919.0 955.5 L1922.6 960.1 L1926.6 964.0 L1930.3 966.7 L1933.8 969.6 L1937.6 973.5 L1941.1 977.1 L1944.8 979.8 L1948.5 982.3 L1951.9 983.6 L1956.3 987.7 L1959.9 988.9 L1963.3 990.9 L1966.8 990.8 L1970.6 992.6 L1974.4 994.7 L1978.3 997.3 L1981.7 999.6 L1985.5 1000.6 L1989.2 1003.9 L1990.7 1005.6" fill="none" stroke="#9a3cc8" stroke-width="1.25" stroke-linejoin="round"/>
<path d="M1617.5 996.8 L1621.7 996.1 L1624.9 996.5 L1628.6 995.8 L1632.2 995.0 L1635.6 995.2 L1639.3 995.0 L1643.6 994.1 L1647.0 995.2 L1650.8 996.4 L1654.8 995.6 L1658.8 995.6 L1662.4 995.8 L1665.9 998.0 L1670.0 995.6 L1673.1 994.2 L1676.5 996.5 L1680.3 995.6 L1685.0 995.5 L1687.7 995.4 L1692.1 995.9 L1696.1 998.4 L1699.1 997.0 L1702.9 996.2 L1706.4 997.3 L1711.0 997.2 L1713.7 1002.5 L1717.5 1002.4 L1721.2 1002.4 L1725.7 1004.5 L1729.4 1005.9 L1733.1 1008.4 L1737.0 1010.4 L1740.1 1012.9 L1744.1 1019.2 L1747.3 1020.5 L1751.8 1024.1 L1755.2 1028.4 L1758.4 1035.2 L1762.1 1042.7 L1765.9 1048.2 L1770.5 1054.3 L1773.7 1059.8 L1777.0 1066.8 L1781.0 1072.8 L1785.2 1076.0 L1788.4 1080.9 L1792.6 1084.3 L1796.3 1084.8 L1799.3 1084.7 L1804.0 1085.9 L1806.7 1086.8 L1810.7 1083.8 L1814.9 1081.8 L1817.9 1077.0 L1822.0 1071.1 L1825.9 1066.8 L1829.0 1062.6 L1833.2 1056.8 L1836.5 1048.9 L1840.7 1040.9 L1843.9 1033.6 L1847.9 1023.3 L1851.3 1007.8 L1856.1 997.4 L1859.8 988.2 L1862.7 977.9 L1867.2 968.7 L1870.4 961.7 L1874.0 955.2 L1878.1 949.2 L1882.0 947.4 L1885.1 943.5 L1889.1 945.0 L1892.6 944.7 L1896.9 949.1 L1899.9 950.9 L1904.3 954.8 L1908.1 958.3 L1911.5 958.4 L1914.9 961.8 L1918.9 966.7 L1922.4 969.9 L1926.7 972.7 L1930.4 976.6 L1933.3 976.0 L1937.1 978.3 L1941.2 981.1 L1945.2 984.6 L1948.2 986.2 L1952.5 986.7 L1955.6 988.6 L1959.8 989.6 L1964.0 990.7 L1966.9 992.0 L1971.0 994.0 L1974.9 994.1 L1978.3 995.6 L1981.8 994.6 L1985.8 998.7 L1989.6 999.9 L1990.7 1001.4" fill="none" stroke="#3f6476" stroke-width="1.25" stroke-linejoin="round"/>
<path d="M1617.5 996.4 L1621.2 995.8 L1624.6 996.7 L1628.3 996.3 L1632.5 997.0 L1635.8 995.1 L1640.2 997.0 L1644.0 995.9 L1647.1 995.6 L1650.4 993.7 L1655.2 997.8 L1658.9 996.5 L1662.5 994.7 L1665.5 995.7 L1669.8 995.4 L1673.5 995.8 L1677.2 994.9 L1681.0 996.6 L1684.8 997.2 L1688.3 993.9 L1692.1 995.9 L1695.3 996.8 L1699.3 997.2 L1703.1 998.5 L1706.5 999.8 L1710.4 1001.4 L1714.2 1000.2 L1717.9 1003.1 L1721.6 1004.3 L1725.8 1007.1 L1729.2 1008.7 L1733.3 1012.1 L1736.9 1014.1 L1740.7 1015.0 L1743.4 1021.6 L1747.8 1025.4 L1751.4 1028.1 L1754.7 1034.6 L1758.8 1041.3 L1762.7 1049.3 L1766.1 1056.7 L1769.8 1064.2 L1774.0 1070.9 L1777.4 1076.9 L1781.4 1084.0 L1785.4 1087.0 L1788.6 1091.6 L1792.8 1094.9 L1795.9 1098.5 L1799.3 1098.3 L1803.1 1098.5 L1807.6 1098.7 L1810.4 1096.7 L1814.8 1090.0 L1818.9 1085.1 L1821.8 1083.6 L1825.3 1077.9 L1829.5 1069.8 L1832.9 1062.9 L1837.2 1054.8 L1840.8 1048.1 L1844.3 1038.5 L1848.1 1028.1 L1851.5 1017.8 L1855.3 1001.6 L1859.2 986.4 L1862.6 970.2 L1866.5 950.2 L1870.8 934.0 L1874.7 921.5 L1878.1 912.4 L1881.3 906.2 L1884.8 904.8 L1889.5 904.0 L1893.2 905.7 L1896.2 909.7 L1900.1 914.8 L1903.9 921.1 L1908.1 926.5 L1910.8 933.3 L1915.5 937.7 L1918.9 943.4 L1922.7 951.0 L1926.8 954.1 L1930.3 959.4 L1934.0 964.5 L1937.8 969.0 L1941.6 971.6 L1944.6 975.3 L1948.5 976.2 L1951.8 983.1 L1956.0 984.3 L1959.7 988.4 L1963.8 990.8 L1966.8 992.0 L1970.8 994.7 L1974.6 995.7 L1978.1 996.8 L1982.0 1000.8 L1985.6 1004.5 L1989.7 1009.1 L1990.7 1007.3" fill="none" stroke="#46396a" stroke-width="1.25" stroke-linejoin="round"/>
<path d="M1617.5 996.4 L1620.9 995.4 L1625.0 994.4 L1629.2 995.0 L1632.6 997.9 L1636.5 995.1 L1640.1 998.0 L1643.6 998.8 L1647.3 995.1 L1651.2 995.3 L1654.5 996.8 L1658.2 996.6 L1662.0 998.6 L1665.3 997.2 L1669.5 996.2 L1672.8 997.7 L1676.9 997.9 L1680.8 995.6 L1684.6 998.2 L1688.2 997.3 L1691.9 997.6 L1695.6 997.6 L1698.9 999.5 L1703.3 1000.8 L1707.0 1001.2 L1710.8 1003.5 L1713.9 1005.4 L1717.8 1007.8 L1721.2 1011.7 L1725.7 1010.5 L1728.8 1015.7 L1733.3 1019.8 L1736.6 1021.1 L1740.1 1024.8 L1744.2 1029.6 L1747.8 1034.0 L1750.9 1041.9 L1755.6 1050.1 L1758.9 1058.5 L1762.6 1066.3 L1766.6 1075.5 L1770.0 1084.6 L1774.0 1091.6 L1777.7 1102.1 L1781.1 1108.7 L1784.5 1117.1 L1789.1 1120.2 L1792.2 1125.3 L1795.9 1127.6 L1800.1 1129.6 L1803.1 1131.8 L1807.8 1127.9 L1811.4 1126.3 L1814.3 1119.8 L1818.0 1115.6 L1822.2 1110.9 L1825.9 1102.0 L1829.0 1096.2 L1833.6 1086.4 L1836.8 1076.5 L1840.9 1067.9 L1844.7 1053.1 L1848.2 1038.6 L1852.2 1019.3 L1855.5 1003.1 L1858.8 986.6 L1862.6 968.5 L1866.7 949.2 L1870.8 937.0 L1873.7 923.4 L1877.6 917.7 L1882.1 908.8 L1885.4 906.8 L1889.4 907.2 L1893.0 907.8 L1896.1 912.5 L1900.5 916.9 L1903.5 920.3 L1907.8 928.0 L1911.4 933.1 L1914.9 940.2 L1919.1 944.7 L1923.0 949.2 L1926.2 957.1 L1930.3 959.0 L1933.4 965.3 L1937.5 968.6 L1941.2 973.0 L1944.4 974.8 L1948.4 980.2 L1952.2 982.3 L1956.4 984.5 L1960.0 986.8 L1963.7 990.3 L1966.7 989.7 L1970.4 991.6 L1974.8 995.6 L1978.2 996.9 L1982.5 999.4 L1986.2 1002.8 L1989.7 1006.4 L1990.7 1008.3" fill="none" stroke="#3d4a72" stroke-width="1.25" stroke-linejoin="round"/>
<path d="M1617.5 994.8 L1620.7 998.2 L1624.5 997.0 L1628.4 995.9 L1632.5 995.3 L1636.2 997.0 L1639.7 996.8 L1644.1 996.9 L1647.4 998.4 L1650.5 995.8 L1654.3 997.6 L1658.3 996.6 L1661.6 996.2 L1665.4 997.0 L1669.6 997.2 L1673.1 997.4 L1677.3 996.5 L1681.0 997.3 L1684.7 998.6 L1688.2 997.5 L1692.1 999.3 L1695.1 1000.2 L1698.9 1001.9 L1703.1 1002.8 L1706.9 1004.8 L1710.9 1006.0 L1714.7 1006.5 L1718.0 1008.8 L1721.2 1011.7 L1725.6 1014.3 L1729.3 1016.1 L1732.4 1019.7 L1737.0 1024.8 L1740.0 1027.6 L1743.4 1032.9 L1748.2 1038.9 L1751.2 1046.9 L1755.0 1056.3 L1758.7 1066.3 L1762.3 1074.7 L1766.5 1086.0 L1769.5 1093.7 L1773.3 1106.1 L1777.6 1114.4 L1781.2 1123.3 L1785.2 1129.3 L1788.7 1137.9 L1792.5 1141.8 L1795.8 1143.5 L1799.3 1145.2 L1803.9 1147.0 L1807.6 1145.1 L1810.8 1140.5 L1815.2 1135.1 L1818.9 1131.0 L1821.8 1123.7 L1825.7 1115.4 L1829.4 1106.1 L1833.1 1095.5 L1836.6 1087.3 L1840.7 1073.1 L1844.5 1060.8 L1847.6 1042.6 L1851.9 1023.8 L1855.2 1005.2 L1858.9 987.7 L1862.6 968.5 L1866.9 952.3 L1870.5 933.2 L1874.2 923.1 L1877.9 915.1 L1881.5 910.5 L1884.8 903.8 L1888.7 903.5 L1892.6 906.9 L1896.1 909.3 L1899.7 915.0 L1904.2 919.0 L1908.1 927.4 L1911.5 933.8 L1915.5 939.7 L1919.3 945.0 L1922.3 951.1 L1925.9 957.1 L1929.7 960.4 L1934.1 964.4 L1937.6 968.8 L1941.3 971.0 L1944.6 975.8 L1948.4 979.0 L1952.6 981.7 L1955.9 983.3 L1960.0 987.2 L1963.1 990.7 L1967.1 993.2 L1970.9 992.2 L1974.7 995.6 L1978.7 996.6 L1981.8 1001.3 L1986.0 1004.9 L1989.3 1007.0 L1990.7 1007.8" fill="none" stroke="#433c6b" stroke-width="1.25" stroke-linejoin="round"/>
<path d="M1617.5 999.5 L1621.6 997.5 L1624.8 996.5 L1629.0 997.1 L1632.6 998.5 L1636.0 1000.3 L1640.1 995.1 L1643.1 997.0 L1646.7 996.0 L1651.1 997.8 L1654.6 998.7 L1658.0 998.5 L1662.4 999.0 L1666.4 997.2 L1669.4 996.4 L1672.9 998.9 L1677.1 997.4 L1681.1 996.2 L1684.6 996.1 L1688.0 999.8 L1692.3 999.7 L1695.6 1001.8 L1699.4 1001.7 L1703.6 1004.6 L1706.8 1004.9 L1710.6 1007.3 L1713.7 1009.7 L1718.3 1013.3 L1721.8 1014.9 L1725.7 1016.4 L1728.8 1019.7 L1732.8 1024.3 L1736.3 1026.1 L1740.1 1033.1 L1744.0 1038.7 L1747.8 1044.4 L1751.8 1053.0 L1755.5 1062.2 L1758.7 1074.5 L1762.4 1084.8 L1766.3 1096.9 L1770.1 1107.2 L1774.2 1117.5 L1777.4 1128.2 L1780.8 1139.2 L1784.7 1144.8 L1788.3 1151.2 L1792.1 1155.3 L1796.4 1159.4 L1799.7 1162.5 L1802.9 1162.7 L1807.2 1160.4 L1810.6 1154.4 L1814.1 1152.0 L1818.7 1144.9 L1821.8 1136.9 L1826.2 1128.0 L1829.3 1118.0 L1833.0 1107.9 L1837.4 1095.9 L1840.7 1081.6 L1844.6 1067.6 L1847.8 1049.4 L1852.0 1026.4 L1856.1 1004.3 L1859.2 984.2 L1863.3 966.6 L1867.1 947.5 L1870.8 929.2 L1874.7 916.3 L1878.2 906.5 L1881.8 899.4 L1885.1 896.6 L1888.8 897.6 L1892.5 898.9 L1896.2 902.2 L1900.6 908.5 L1903.4 915.2 L1907.8 921.0 L1911.7 928.3 L1914.6 933.3 L1918.7 940.6 L1922.9 945.3 L1926.5 952.5 L1929.9 957.2 L1933.3 963.9 L1937.6 965.9 L1941.5 970.3 L1945.3 975.2 L1949.1 977.9 L1952.3 982.3 L1956.6 984.5 L1959.7 987.4 L1963.5 990.6 L1966.8 990.7 L1971.2 993.0 L1975.2 995.3 L1977.9 996.7 L1982.2 1000.6 L1985.5 1005.7 L1989.2 1007.3 L1990.7 1008.8" fill="none" stroke="#40406e" stroke-width="1.25" stroke-linejoin="round"/>
</g>
<rect x="1617.8" y="885" width="374.3" height="300.8" fill="none" stroke="#151515" stroke-width="1.4"/>
<path d="M1645.7 1185.8v6M1716.9 1185.8v6M1788.0 1185.8v6M1859.2 1185.8v6M1930.4 1185.8v6M1617.8 1147.1h-6M1617.8 1081.6h-6M1617.8 1016.1h-6M1617.8 950.5h-6M1617.8 885.0h-6" stroke="#151515" stroke-width="1.4" fill="none"/>
<text x="1645.7" y="1216.3" font-size="24" text-anchor="middle" fill="#000">0</text>
<text x="1716.9" y="1216.3" font-size="24" text-anchor="middle" fill="#000">2</text>
<text x="1788" y="1216.3" font-size="24" text-anchor="middle" fill="#000">4</text>
<text x="1859.2" y="1216.3" font-size="24" text-anchor="middle" fill="#000">6</text>
<text x="1930.4" y="1216.3" font-size="24" text-anchor="middle" fill="#000">8</text>
<text x="1608.4" y="1155.7" font-size="24" text-anchor="end" fill="#000">-1000</text>
<text x="1608.4" y="1090.2" font-size="24" text-anchor="end" fill="#000">-500</text>
<text x="1608.4" y="1024.6" font-size="24" text-anchor="end" fill="#000">0</text>
<text x="1608.4" y="959.1" font-size="24" text-anchor="end" fill="#000">500</text>
<text x="1608.4" y="893.6" font-size="24" text-anchor="end" fill="#000">1000</text>
<text x="1806" y="1244.3" font-size="24" text-anchor="middle" fill="#000">Distance (mm)</text>
<text x="1541.6" y="1029.8" font-size="24" text-anchor="middle" transform="rotate(-90 1541.6 1029.8)" fill="#000">Magnetic field (arb. units)</text>
</svg></body></html>
